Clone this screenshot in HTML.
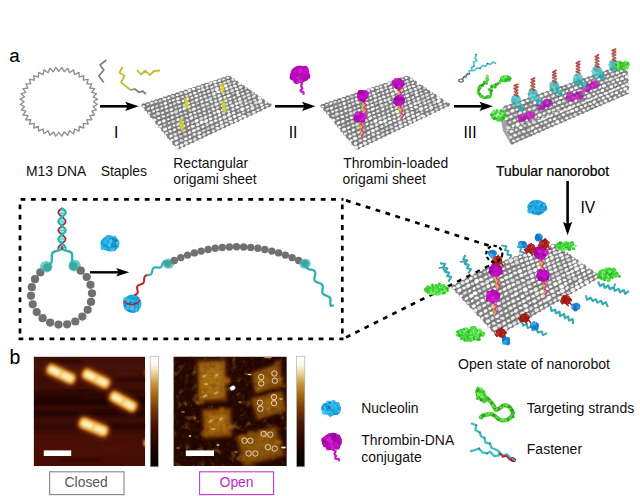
<!DOCTYPE html>
<html><head><meta charset="utf-8"><title>DNA nanorobot figure</title>
<style>html,body{margin:0;padding:0;background:#fff;}svg{display:block;font-family:"Liberation Sans",sans-serif;}</style>
</head><body>
<svg width="640" height="496" viewBox="0 0 640 496">
<defs>
<linearGradient id="cbar" x1="0" y1="0" x2="0" y2="1">
<stop offset="0" stop-color="#ffffff"/><stop offset="0.08" stop-color="#fdf8ee"/><stop offset="0.16" stop-color="#e8cf98"/>
<stop offset="0.24" stop-color="#c89a48"/><stop offset="0.34" stop-color="#a66c14"/><stop offset="0.48" stop-color="#74380a"/>
<stop offset="0.62" stop-color="#481404"/><stop offset="0.8" stop-color="#220501"/><stop offset="1" stop-color="#000000"/></linearGradient>
<linearGradient id="bg1" x1="0" y1="0" x2="0" y2="1">
<stop offset="0" stop-color="#3e0e06"/><stop offset="0.1" stop-color="#46120a"/><stop offset="0.2" stop-color="#3c0c05"/><stop offset="0.28" stop-color="#400e06"/>
<stop offset="0.36" stop-color="#2a0602"/><stop offset="0.42" stop-color="#1e0300"/><stop offset="0.47" stop-color="#380a04"/><stop offset="0.52" stop-color="#260502"/>
<stop offset="0.58" stop-color="#3e0c05"/><stop offset="0.65" stop-color="#300803"/><stop offset="0.72" stop-color="#460e06"/><stop offset="0.85" stop-color="#4a0e06"/><stop offset="1" stop-color="#420c05"/></linearGradient>
<filter id="bl1" x="-30%" y="-30%" width="160%" height="160%"><feGaussianBlur stdDeviation="1.5"/></filter>
<filter id="bl2" x="-30%" y="-30%" width="160%" height="160%"><feGaussianBlur stdDeviation="0.9"/></filter>
<filter id="bl3" x="-30%" y="-30%" width="160%" height="160%"><feGaussianBlur stdDeviation="2.2"/></filter>
<filter id="bl05" x="-30%" y="-30%" width="160%" height="160%"><feGaussianBlur stdDeviation="0.5"/></filter>
<clipPath id="c1"><rect x="33.6" y="356.6" width="111.6" height="109.4"/></clipPath>
<clipPath id="c2"><rect x="173.4" y="356.6" width="113.4" height="109.4"/></clipPath>
<filter id="noise" x="0" y="0" width="100%" height="100%"><feTurbulence type="fractalNoise" baseFrequency="0.13" numOctaves="3" seed="4" result="n"/>
<feColorMatrix type="matrix" values="0 0 0 0 0.40  0 0 0 0 0.15  0 0 0 0 0.02  2.0 0 0 0 -1.12"/></filter>
<filter id="noise2" x="0" y="0" width="100%" height="100%"><feTurbulence type="fractalNoise" baseFrequency="0.25" numOctaves="2" seed="9" result="n"/>
<feColorMatrix type="matrix" values="0 0 0 0 0.1  0 0 0 0 0.02  0 0 0 0 0.0  0 2.0 0 0 -0.85"/></filter>

</defs>
<rect width="640" height="496" fill="#fff"/>
<text x="9.3" y="62.4" font-size="18.8" fill="#000" text-anchor="start" stroke="#000" stroke-width="0.1">a</text>
<polyline points="93.5,101.8 97.4,104.5 93.1,106.6 96.4,109.9 91.8,111.2 94.6,115 89.7,115.6 91.8,119.8 86.9,119.7 88.2,124.2 83.3,123.4 83.9,128 79.2,126.5 79,131.2 74.6,129 73.6,133.7 69.5,130.8 67.8,135.3 64.2,131.9 61.8,136.2 58.8,132.3 55.8,136.2 53.4,131.9 49.8,135.3 48.1,130.8 44,133.7 43,129 38.6,131.2 38.4,126.5 33.7,128 34.3,123.4 29.4,124.2 30.7,119.7 25.8,119.8 27.9,115.6 23,115 25.8,111.2 21.2,109.9 24.5,106.6 20.2,104.5 24.1,101.8 20.2,99.1 24.5,97 21.2,93.7 25.8,92.4 23,88.6 27.9,88 25.8,83.8 30.7,83.9 29.4,79.4 34.3,80.2 33.7,75.6 38.4,77.1 38.6,72.4 43,74.6 44,69.9 48.1,72.8 49.8,68.3 53.4,71.7 55.8,67.4 58.8,71.3 61.8,67.4 64.2,71.7 67.8,68.3 69.5,72.8 73.6,69.9 74.6,74.6 79,72.4 79.2,77.1 83.9,75.6 83.3,80.2 88.2,79.4 86.9,83.9 91.8,83.8 89.7,88 94.6,88.6 91.8,92.4 96.4,93.7 93.1,97 97.4,99.1 93.5,101.8" fill="none" stroke="#8e8e8e" stroke-width="1.35" stroke-linejoin="round"/>
<polyline points="106.3,60 100,65 103.8,70 98.8,76 103.8,82.5" fill="none" stroke="#808080" stroke-width="1.7" stroke-linejoin="round"/>
<polyline points="122.5,67 119.5,72.5 124.5,76 121,82.5 127.5,87.5 130.5,90" fill="none" stroke="#c4bc30" stroke-width="1.8" stroke-linejoin="round"/>
<polyline points="130.5,90 135,89 139,92.5 142.5,91 146,94" fill="none" stroke="#808080" stroke-width="1.7" stroke-linejoin="round"/>
<polyline points="137,70 141,74.5 145.3,70.8 150,75 154,71 160,70.6" fill="none" stroke="#c4bc30" stroke-width="1.8" stroke-linejoin="round"/>
<line x1="100" y1="106.3" x2="128.2" y2="106.3" stroke="#000" stroke-width="2.6"/>
<path d="M138.7 106.3 L125.2 101.7 L127.7 106.3 L125.2 110.9 Z" fill="#000"/>
<text x="116.3" y="137.7" font-size="15.7" fill="#000" text-anchor="middle" >I</text>
<polygon points="141.2,105.3 142.8,103.3 145.3,103.9 147,101.9 149.5,102.5 151.2,100.5 153.7,101.1 155.4,99.1 157.9,99.8 159.6,97.7 162.1,98.4 163.8,96.3 166.3,97 168,95 170.5,95.6 172.1,93.6 174.7,94.2 176.3,92.2 178.9,92.8 180.5,90.8 183.1,91.5 184.7,89.4 187.3,90.1 188.9,88.1 191.4,88.7 193.1,86.7 195.6,87.3 197.3,85.3 199.8,85.9 201.5,83.9 204,84.6 205.7,82.5 208.2,83.2 209.9,81.2 212.4,81.8 214.1,79.8 216.6,80.4 218.2,78.4 220.8,79 222.4,77 225,77.7 226.6,75.6 228.7,76.2 231.2,76.2 232,78.5 234.5,78.5 235.3,80.8 237.8,80.7 238.6,83 241.1,83 241.9,85.3 244.4,85.3 245.3,87.6 247.7,87.5 248.6,89.8 251,89.8 251.9,92.1 254.3,92.1 255.2,94.4 257.6,94.3 258.5,96.6 260.9,96.6 261.8,98.9 264.2,98.9 265.1,101.2 267.5,101.2 268.4,103.4 270.9,103.4 271.8,104.8 270.1,107.2 267.3,107 265.6,109.3 262.8,109.1 261.1,111.4 258.3,111.2 256.6,113.5 253.8,113.3 252.1,115.6 249.3,115.4 247.6,117.7 244.8,117.5 243.1,119.8 240.3,119.6 238.6,121.9 235.8,121.7 234.1,124 231.3,123.8 229.6,126.1 226.8,125.9 225.1,128.2 222.3,128 220.6,130.3 217.8,130.1 216.1,132.4 213.3,132.2 211.6,134.5 208.8,134.3 207.1,136.6 204.3,136.4 202.6,138.7 199.8,138.5 198.1,140.8 195.3,140.6 193.6,142.9 190.8,142.7 189.1,145.1 186.3,144.8 184.6,147.2 181.8,146.9 180.1,149.3 177.9,149.2 175.4,148.4 175.1,145.7 172.6,144.9 172.3,142.3 169.8,141.5 169.5,138.9 167,138 166.7,135.4 164.2,134.6 163.8,132 161.4,131.2 161,128.6 158.6,127.7 158.2,125.1 155.7,124.3 155.4,121.7 152.9,120.8 152.6,118.2 150.1,117.4 149.8,114.8 147.3,114 147,111.4 144.5,110.5 144.2,107.9 141.7,107.1" fill="#868686"/>
<line x1="141.8" y1="105.1" x2="229" y2="76.2" stroke="#6c6c6c" stroke-width="0.7" opacity="0.7"/>
<line x1="144.3" y1="108.1" x2="231.9" y2="78.2" stroke="#6c6c6c" stroke-width="0.7" opacity="0.7"/>
<line x1="147.1" y1="111.5" x2="235.2" y2="80.5" stroke="#6c6c6c" stroke-width="0.7" opacity="0.7"/>
<line x1="149.9" y1="115" x2="238.5" y2="82.8" stroke="#6c6c6c" stroke-width="0.7" opacity="0.7"/>
<line x1="152.7" y1="118.4" x2="241.8" y2="85" stroke="#6c6c6c" stroke-width="0.7" opacity="0.7"/>
<line x1="155.5" y1="121.8" x2="245.1" y2="87.3" stroke="#6c6c6c" stroke-width="0.7" opacity="0.7"/>
<line x1="158.3" y1="125.3" x2="248.4" y2="89.6" stroke="#6c6c6c" stroke-width="0.7" opacity="0.7"/>
<line x1="161.1" y1="128.7" x2="251.7" y2="91.9" stroke="#6c6c6c" stroke-width="0.7" opacity="0.7"/>
<line x1="163.9" y1="132.1" x2="255" y2="94.1" stroke="#6c6c6c" stroke-width="0.7" opacity="0.7"/>
<line x1="166.7" y1="135.5" x2="258.3" y2="96.4" stroke="#6c6c6c" stroke-width="0.7" opacity="0.7"/>
<line x1="169.5" y1="139" x2="261.6" y2="98.7" stroke="#6c6c6c" stroke-width="0.7" opacity="0.7"/>
<line x1="172.4" y1="142.4" x2="264.9" y2="101" stroke="#6c6c6c" stroke-width="0.7" opacity="0.7"/>
<line x1="175.2" y1="145.8" x2="268.2" y2="103.2" stroke="#6c6c6c" stroke-width="0.7" opacity="0.7"/>
<line x1="177.6" y1="148.8" x2="271.1" y2="105.2" stroke="#6c6c6c" stroke-width="0.7" opacity="0.7"/>
<path d="M144.9 104.5h0M157.1 100.7h0M161.5 99.5h0M166.1 97.7h0M174.4 95.2h0M178.6 93.6h0M182.9 92.2h0M186.5 91h0M191.2 89.6h0M203.9 85.1h0M215.9 80.7h0M224.7 78h0M228.7 76.6h0M178.9 96.8h0M195.7 90.7h0M199.3 89.5h0M208.3 86.3h0M212.1 85.1h0M220.8 81.7h0M229.5 79.5h0M150.2 110.4h0M154.1 108.7h0M158.2 107.7h0M162.1 106.4h0M167.1 104.9h0M171 103.1h0M196.4 94.3h0M200.5 93h0M204.9 90.8h0M209.2 89.3h0M221.9 85.2h0M230.5 82.4h0M234.2 80.9h0M154.7 113.3h0M158.9 111.5h0M163.4 109.9h0M167.8 108.2h0M180.1 104.1h0M184.3 102.3h0M193 99.1h0M201.9 95.9h0M206 94.9h0M209.9 92.8h0M214.2 91.8h0M222.8 88.7h0M235.4 83.6h0M159.6 115.7h0M163.9 114.5h0M167.9 112.9h0M181.5 108.1h0M185.6 106.4h0M193.8 102.8h0M198 101.4h0M202.8 99.3h0M232.8 88.2h0M237 86.9h0M241.5 85.4h0M155.9 121.9h0M160.7 119.8h0M164.8 118.5h0M169.3 116.9h0M182.1 111.9h0M186.1 109.8h0M190.5 108.3h0M198.9 104.7h0M203.2 103.7h0M212.1 99.9h0M216.3 98.5h0M224.8 94.9h0M229.4 93.5h0M233.4 91.5h0M238.1 90.3h0M242.5 88.5h0M161 124.1h0M169.9 120.7h0M174.1 119.2h0M178.4 117.2h0M191.7 112.4h0M195.7 110.1h0M230.5 96.3h0M235 94.6h0M238.8 93.6h0M243 91.8h0M248 90h0M179.4 121.4h0M188.1 118.2h0M192.1 116.1h0M200.7 112.3h0M213.9 107.1h0M218.3 105.1h0M223.1 103.6h0M231.6 100.3h0M240.2 96.7h0M248.6 93.2h0M171.1 129.3h0M175.3 127h0M184.1 123.8h0M193.2 119.9h0M205.9 114.1h0M210.5 112.4h0M214.8 111.1h0M219.7 109h0M228.3 105.6h0M237 102h0M241.4 100.3h0M245.4 97.9h0M175.9 131.3h0M180.7 129.9h0M189.7 125.7h0M194 123.7h0M198.5 121.9h0M202.7 120.4h0M206.9 118.3h0M211.2 116.5h0M220.3 112.4h0M224.8 110.5h0M238.2 105.1h0M251.2 99.6h0M172.6 138.1h0M180.9 133.9h0M185.9 132.1h0M194.7 128.1h0M199.3 126.2h0M203.7 123.9h0M208 122.3h0M221 116.2h0M225.7 114.7h0M230.2 112.4h0M234.3 110.9h0M238.8 108.5h0M247.6 104.7h0M252.3 102.7h0M260.8 98.7h0M173.2 142.3h0M177.2 140.1h0M199.6 129.9h0M204.2 127.9h0M208.8 125.8h0M226.5 118.3h0M244.5 110.2h0M257.8 104.4h0M262.1 102.2h0M178.1 144.2h0M182.6 142.4h0M200.7 134.4h0M204.8 132h0M209.4 130.5h0M214.2 128.3h0M218.6 126.2h0M236.5 118.2h0M245.4 113.8h0M249.3 111.4h0M253.9 109.7h0M263 105.7h0M267.5 103.7h0M177.6 148.4h0M186.8 143.9h0M195.5 139.5h0M204.8 135.3h0M209.1 133.4h0M213.5 131h0M218.3 128.9h0M222.8 127.1h0M231.7 122.9h0M236.7 120.7h0M240.8 118.6h0M249.5 114.3h0M259 110.4h0M267.6 106.1h0" stroke="#585858" stroke-width="1.5" stroke-linecap="round" opacity="0.7" fill="none"/>
<ellipse cx="143.7" cy="106.3" rx="1.5" ry="0.9" fill="#f8f8f8" transform="rotate(5.2 143.7 106.3)"/>
<ellipse cx="147.7" cy="104.4" rx="1.3" ry="0.8" fill="#f4f4f4" transform="rotate(-18.1 147.7 104.4)"/>
<ellipse cx="151.8" cy="103.1" rx="1.7" ry="1.1" fill="#f8f8f8" transform="rotate(-26.2 151.8 103.1)"/>
<ellipse cx="156" cy="101.8" rx="1.8" ry="1.2" fill="#dcdcdc" transform="rotate(-11.7 156 101.8)"/>
<ellipse cx="160.2" cy="100.8" rx="1.5" ry="1.1" fill="#dcdcdc" transform="rotate(-23.7 160.2 100.8)"/>
<ellipse cx="164.4" cy="99.2" rx="2" ry="1.3" fill="#f8f8f8" transform="rotate(-1.5 164.4 99.2)"/>
<ellipse cx="168.7" cy="98" rx="1.6" ry="1.1" fill="#f4f4f4" transform="rotate(-21 168.7 98)"/>
<ellipse cx="173" cy="96.2" rx="1.8" ry="1.3" fill="#dcdcdc" transform="rotate(2.5 173 96.2)"/>
<ellipse cx="177.2" cy="95.2" rx="1.4" ry="0.9" fill="#ffffff" transform="rotate(-2.1 177.2 95.2)"/>
<ellipse cx="181" cy="93.6" rx="1.9" ry="1.3" fill="#dcdcdc" transform="rotate(-1.1 181 93.6)"/>
<ellipse cx="185.6" cy="92.3" rx="1.9" ry="1.4" fill="#ebebeb" transform="rotate(6.6 185.6 92.3)"/>
<ellipse cx="189.3" cy="90.5" rx="2" ry="1.6" fill="#ebebeb" transform="rotate(-14.8 189.3 90.5)"/>
<ellipse cx="193.6" cy="89" rx="1.8" ry="1.2" fill="#ffffff" transform="rotate(5.6 193.6 89)"/>
<ellipse cx="198.4" cy="87.6" rx="1.8" ry="1.2" fill="#ebebeb" transform="rotate(5.1 198.4 87.6)"/>
<ellipse cx="202.1" cy="86.5" rx="1.7" ry="1.3" fill="#dcdcdc" transform="rotate(-27.3 202.1 86.5)"/>
<ellipse cx="206.8" cy="85.2" rx="1.6" ry="1.2" fill="#ffffff" transform="rotate(-2 206.8 85.2)"/>
<ellipse cx="210.4" cy="83.3" rx="2.1" ry="1.3" fill="#ebebeb" transform="rotate(-39 210.4 83.3)"/>
<ellipse cx="214.9" cy="82" rx="1.9" ry="1.4" fill="#f8f8f8" transform="rotate(-5.2 214.9 82)"/>
<ellipse cx="219.4" cy="80.7" rx="1.6" ry="1.2" fill="#ffffff" transform="rotate(-28.6 219.4 80.7)"/>
<ellipse cx="223.6" cy="79.4" rx="1.5" ry="0.9" fill="#ffffff" transform="rotate(-20 223.6 79.4)"/>
<ellipse cx="227.7" cy="77.7" rx="1.5" ry="1.1" fill="#ffffff" transform="rotate(3 227.7 77.7)"/>
<ellipse cx="148.5" cy="108.8" rx="1.8" ry="1.1" fill="#dcdcdc" transform="rotate(-32.5 148.5 108.8)"/>
<ellipse cx="152.5" cy="107.7" rx="1.7" ry="1.2" fill="#ffffff" transform="rotate(-30.7 152.5 107.7)"/>
<ellipse cx="156.7" cy="106.1" rx="1.6" ry="1" fill="#dcdcdc" transform="rotate(-20.1 156.7 106.1)"/>
<ellipse cx="161.2" cy="104.7" rx="1.6" ry="1" fill="#dcdcdc" transform="rotate(4.2 161.2 104.7)"/>
<ellipse cx="165.3" cy="103.2" rx="1.7" ry="1.4" fill="#ffffff" transform="rotate(-28.6 165.3 103.2)"/>
<ellipse cx="169.8" cy="101.3" rx="1.3" ry="1" fill="#ebebeb" transform="rotate(-18.1 169.8 101.3)"/>
<ellipse cx="173.4" cy="100.1" rx="1.6" ry="1" fill="#f8f8f8" transform="rotate(-21.6 173.4 100.1)"/>
<ellipse cx="177.9" cy="98.8" rx="1.9" ry="1.3" fill="#ffffff" transform="rotate(-21 177.9 98.8)"/>
<ellipse cx="182.5" cy="97.1" rx="1.4" ry="1" fill="#ebebeb" transform="rotate(5.6 182.5 97.1)"/>
<ellipse cx="186.8" cy="95.9" rx="1.5" ry="1" fill="#ebebeb" transform="rotate(3.8 186.8 95.9)"/>
<ellipse cx="190.6" cy="94.6" rx="1.6" ry="1.3" fill="#ebebeb" transform="rotate(-29 190.6 94.6)"/>
<ellipse cx="194.8" cy="93" rx="1.9" ry="1.3" fill="#f4f4f4" transform="rotate(3.3 194.8 93)"/>
<ellipse cx="199.1" cy="90.9" rx="1.7" ry="1.1" fill="#ffffff" transform="rotate(-35 199.1 90.9)"/>
<ellipse cx="203" cy="89.6" rx="2" ry="1.4" fill="#ebebeb" transform="rotate(5.7 203 89.6)"/>
<ellipse cx="207.2" cy="88.1" rx="1.4" ry="1" fill="#ebebeb" transform="rotate(-1.5 207.2 88.1)"/>
<ellipse cx="211.8" cy="87.1" rx="1.7" ry="1.1" fill="#f8f8f8" transform="rotate(-22.3 211.8 87.1)"/>
<ellipse cx="215.8" cy="85.1" rx="1.7" ry="1.3" fill="#f4f4f4" transform="rotate(2.4 215.8 85.1)"/>
<ellipse cx="220.4" cy="83.8" rx="1.4" ry="1.1" fill="#f8f8f8" transform="rotate(-17.8 220.4 83.8)"/>
<ellipse cx="224.7" cy="82.5" rx="1.5" ry="0.9" fill="#ffffff" transform="rotate(-18.9 224.7 82.5)"/>
<ellipse cx="228.4" cy="81.3" rx="1.8" ry="1.3" fill="#dcdcdc" transform="rotate(-17.5 228.4 81.3)"/>
<ellipse cx="232.8" cy="79.7" rx="1.6" ry="1" fill="#f4f4f4" transform="rotate(6.4 232.8 79.7)"/>
<ellipse cx="149.1" cy="113" rx="1.6" ry="1.1" fill="#ebebeb" transform="rotate(-20.6 149.1 113)"/>
<ellipse cx="153.7" cy="111.3" rx="1.4" ry="1.1" fill="#f8f8f8" transform="rotate(-19 153.7 111.3)"/>
<ellipse cx="157.4" cy="109.9" rx="1.8" ry="1.2" fill="#ebebeb" transform="rotate(-14.5 157.4 109.9)"/>
<ellipse cx="161.9" cy="108.4" rx="1.5" ry="1.2" fill="#ebebeb" transform="rotate(-38.1 161.9 108.4)"/>
<ellipse cx="166.2" cy="106.8" rx="1.7" ry="1.4" fill="#f8f8f8" transform="rotate(-33.5 166.2 106.8)"/>
<ellipse cx="170.6" cy="105.2" rx="1.5" ry="1.2" fill="#ebebeb" transform="rotate(-40.8 170.6 105.2)"/>
<ellipse cx="174.4" cy="103.6" rx="1.6" ry="1.2" fill="#dcdcdc" transform="rotate(-29.1 174.4 103.6)"/>
<ellipse cx="178.6" cy="102.2" rx="2.1" ry="1.3" fill="#f4f4f4" transform="rotate(4.6 178.6 102.2)"/>
<ellipse cx="183.2" cy="101" rx="1.4" ry="1.1" fill="#ffffff" transform="rotate(-11.7 183.2 101)"/>
<ellipse cx="187.6" cy="99" rx="1.4" ry="1.2" fill="#ffffff" transform="rotate(-21.7 187.6 99)"/>
<ellipse cx="191.9" cy="97.8" rx="1.4" ry="1.1" fill="#f4f4f4" transform="rotate(-31.4 191.9 97.8)"/>
<ellipse cx="196.2" cy="96" rx="1.8" ry="1.2" fill="#f8f8f8" transform="rotate(-9.5 196.2 96)"/>
<ellipse cx="200.2" cy="94.5" rx="1.3" ry="1.1" fill="#f4f4f4" transform="rotate(-27.7 200.2 94.5)"/>
<ellipse cx="204.4" cy="93" rx="1.4" ry="1" fill="#f4f4f4" transform="rotate(-16.5 204.4 93)"/>
<ellipse cx="208.5" cy="91.5" rx="1.6" ry="1.4" fill="#ebebeb" transform="rotate(-38 208.5 91.5)"/>
<ellipse cx="212.6" cy="90.1" rx="1.7" ry="1.4" fill="#dcdcdc" transform="rotate(-39.4 212.6 90.1)"/>
<ellipse cx="216.9" cy="89" rx="2.2" ry="1.8" fill="#f4f4f4" transform="rotate(-40 216.9 89)"/>
<ellipse cx="221.4" cy="87.5" rx="1.5" ry="1.2" fill="#f8f8f8" transform="rotate(-42.2 221.4 87.5)"/>
<ellipse cx="225.5" cy="85.8" rx="2" ry="1.5" fill="#f8f8f8" transform="rotate(-16.3 225.5 85.8)"/>
<ellipse cx="229.7" cy="83.9" rx="1.7" ry="1.2" fill="#dcdcdc" transform="rotate(-28.5 229.7 83.9)"/>
<ellipse cx="234.3" cy="82.8" rx="1.5" ry="1.3" fill="#f4f4f4" transform="rotate(-27.4 234.3 82.8)"/>
<ellipse cx="154.3" cy="115.4" rx="1.7" ry="1" fill="#dcdcdc" transform="rotate(0.4 154.3 115.4)"/>
<ellipse cx="158" cy="113.7" rx="2" ry="1.6" fill="#dcdcdc" transform="rotate(-9 158 113.7)"/>
<ellipse cx="162.6" cy="112.7" rx="1.5" ry="1.1" fill="#f8f8f8" transform="rotate(-26.9 162.6 112.7)"/>
<ellipse cx="166.9" cy="110.7" rx="1.6" ry="1.2" fill="#ebebeb" transform="rotate(-13.7 166.9 110.7)"/>
<ellipse cx="171.3" cy="109.5" rx="1.9" ry="1.3" fill="#ebebeb" transform="rotate(-28.9 171.3 109.5)"/>
<ellipse cx="175.7" cy="107.6" rx="1.3" ry="1" fill="#ebebeb" transform="rotate(-6.8 175.7 107.6)"/>
<ellipse cx="179.5" cy="106.2" rx="1.6" ry="1" fill="#ebebeb" transform="rotate(-16.7 179.5 106.2)"/>
<ellipse cx="184.2" cy="105" rx="1.7" ry="1.2" fill="#dcdcdc" transform="rotate(-40.7 184.2 105)"/>
<ellipse cx="188.2" cy="103.1" rx="1.8" ry="1.2" fill="#f4f4f4" transform="rotate(-0.5 188.2 103.1)"/>
<ellipse cx="192.4" cy="101.8" rx="1.7" ry="1.1" fill="#dcdcdc" transform="rotate(-18.5 192.4 101.8)"/>
<ellipse cx="196.5" cy="100.1" rx="1.8" ry="1.3" fill="#ffffff" transform="rotate(-28.2 196.5 100.1)"/>
<ellipse cx="201" cy="98.2" rx="1.6" ry="1.2" fill="#ffffff" transform="rotate(-14 201 98.2)"/>
<ellipse cx="205.1" cy="96.5" rx="1.7" ry="1.3" fill="#f4f4f4" transform="rotate(1 205.1 96.5)"/>
<ellipse cx="209.4" cy="95.1" rx="1.6" ry="1" fill="#ebebeb" transform="rotate(-16.5 209.4 95.1)"/>
<ellipse cx="214" cy="93.8" rx="1.9" ry="1.6" fill="#f8f8f8" transform="rotate(-26.3 214 93.8)"/>
<ellipse cx="218.2" cy="92" rx="2" ry="1.3" fill="#f4f4f4" transform="rotate(1.3 218.2 92)"/>
<ellipse cx="222.3" cy="90.2" rx="2" ry="1.5" fill="#ffffff" transform="rotate(-21.7 222.3 90.2)"/>
<ellipse cx="226.9" cy="88.8" rx="1.6" ry="1.4" fill="#f8f8f8" transform="rotate(-29.5 226.9 88.8)"/>
<ellipse cx="230.9" cy="87.3" rx="1.7" ry="1.3" fill="#ebebeb" transform="rotate(-21.4 230.9 87.3)"/>
<ellipse cx="235" cy="86" rx="2" ry="1.2" fill="#f8f8f8" transform="rotate(0.6 235 86)"/>
<ellipse cx="239.7" cy="84" rx="1.9" ry="1.3" fill="#f8f8f8" transform="rotate(-11.7 239.7 84)"/>
<ellipse cx="154.4" cy="120" rx="2" ry="1.6" fill="#f4f4f4" transform="rotate(1 154.4 120)"/>
<ellipse cx="158.8" cy="118.2" rx="1.5" ry="1.1" fill="#ffffff" transform="rotate(1.9 158.8 118.2)"/>
<ellipse cx="163.3" cy="116.4" rx="1.9" ry="1.2" fill="#f8f8f8" transform="rotate(-2 163.3 116.4)"/>
<ellipse cx="167.9" cy="114.9" rx="1.5" ry="1.1" fill="#dcdcdc" transform="rotate(-31.9 167.9 114.9)"/>
<ellipse cx="172" cy="113.2" rx="1.8" ry="1.3" fill="#ebebeb" transform="rotate(-12.2 172 113.2)"/>
<ellipse cx="176.1" cy="111.9" rx="2.1" ry="1.7" fill="#dcdcdc" transform="rotate(-33.1 176.1 111.9)"/>
<ellipse cx="180.2" cy="110" rx="1.7" ry="1.1" fill="#f4f4f4" transform="rotate(-34.1 180.2 110)"/>
<ellipse cx="184.5" cy="108.4" rx="2.1" ry="1.6" fill="#f4f4f4" transform="rotate(-27.5 184.5 108.4)"/>
<ellipse cx="189.3" cy="106.7" rx="1.5" ry="1.2" fill="#ffffff" transform="rotate(-31.4 189.3 106.7)"/>
<ellipse cx="193.3" cy="105" rx="1.6" ry="1.1" fill="#ffffff" transform="rotate(-8.5 193.3 105)"/>
<ellipse cx="197.6" cy="103.3" rx="1.5" ry="1.1" fill="#dcdcdc" transform="rotate(-34.8 197.6 103.3)"/>
<ellipse cx="202" cy="101.7" rx="1.9" ry="1.3" fill="#f4f4f4" transform="rotate(-34.5 202 101.7)"/>
<ellipse cx="206.5" cy="100.2" rx="1.7" ry="1.3" fill="#ebebeb" transform="rotate(-21.1 206.5 100.2)"/>
<ellipse cx="210.3" cy="98.9" rx="2.1" ry="1.5" fill="#dcdcdc" transform="rotate(-34.4 210.3 98.9)"/>
<ellipse cx="214.9" cy="97" rx="1.7" ry="1.2" fill="#dcdcdc" transform="rotate(6.1 214.9 97)"/>
<ellipse cx="219.1" cy="95.7" rx="1.8" ry="1.2" fill="#f8f8f8" transform="rotate(-26.3 219.1 95.7)"/>
<ellipse cx="223.6" cy="93.8" rx="1.4" ry="1" fill="#ebebeb" transform="rotate(-19.3 223.6 93.8)"/>
<ellipse cx="227.8" cy="92.4" rx="1.7" ry="1.2" fill="#dcdcdc" transform="rotate(-25.9 227.8 92.4)"/>
<ellipse cx="232.2" cy="90.6" rx="1.9" ry="1.6" fill="#dcdcdc" transform="rotate(-28.1 232.2 90.6)"/>
<ellipse cx="236.6" cy="89.1" rx="1.7" ry="1.4" fill="#ebebeb" transform="rotate(2.9 236.6 89.1)"/>
<ellipse cx="240.6" cy="87.3" rx="1.9" ry="1.4" fill="#ebebeb" transform="rotate(-14.9 240.6 87.3)"/>
<ellipse cx="159.5" cy="122.6" rx="1.9" ry="1.3" fill="#ffffff" transform="rotate(-27 159.5 122.6)"/>
<ellipse cx="163.8" cy="121" rx="1.9" ry="1.4" fill="#f8f8f8" transform="rotate(-33.4 163.8 121)"/>
<ellipse cx="168.3" cy="119.1" rx="1.5" ry="0.9" fill="#f8f8f8" transform="rotate(-8.1 168.3 119.1)"/>
<ellipse cx="172.4" cy="117.5" rx="1.6" ry="1.2" fill="#ffffff" transform="rotate(2.9 172.4 117.5)"/>
<ellipse cx="177.2" cy="115.7" rx="1.6" ry="1" fill="#ebebeb" transform="rotate(-9 177.2 115.7)"/>
<ellipse cx="181.1" cy="113.8" rx="1.6" ry="1" fill="#ebebeb" transform="rotate(-21.5 181.1 113.8)"/>
<ellipse cx="185.4" cy="112.6" rx="1.6" ry="1.2" fill="#dcdcdc" transform="rotate(4.1 185.4 112.6)"/>
<ellipse cx="190.1" cy="110.5" rx="1.5" ry="1" fill="#ebebeb" transform="rotate(1.9 190.1 110.5)"/>
<ellipse cx="194" cy="109.1" rx="2.1" ry="1.4" fill="#f8f8f8" transform="rotate(-26.5 194 109.1)"/>
<ellipse cx="198.3" cy="107.5" rx="1.6" ry="1" fill="#f8f8f8" transform="rotate(-29.8 198.3 107.5)"/>
<ellipse cx="202.9" cy="105.5" rx="2" ry="1.6" fill="#dcdcdc" transform="rotate(-15 202.9 105.5)"/>
<ellipse cx="207.3" cy="104.2" rx="1.7" ry="1.2" fill="#ebebeb" transform="rotate(-14 207.3 104.2)"/>
<ellipse cx="211.5" cy="101.9" rx="1.5" ry="1.1" fill="#f4f4f4" transform="rotate(-3.7 211.5 101.9)"/>
<ellipse cx="215.6" cy="100.7" rx="1.6" ry="1.3" fill="#ebebeb" transform="rotate(-30.4 215.6 100.7)"/>
<ellipse cx="220.3" cy="98.9" rx="2.1" ry="1.4" fill="#ffffff" transform="rotate(-35.3 220.3 98.9)"/>
<ellipse cx="224.8" cy="97.3" rx="1.7" ry="1.3" fill="#f4f4f4" transform="rotate(-37.4 224.8 97.3)"/>
<ellipse cx="228.7" cy="95.7" rx="2" ry="1.3" fill="#ffffff" transform="rotate(-12 228.7 95.7)"/>
<ellipse cx="233.4" cy="93.5" rx="1.3" ry="0.8" fill="#dcdcdc" transform="rotate(-23.7 233.4 93.5)"/>
<ellipse cx="237.4" cy="92.4" rx="1.9" ry="1.3" fill="#ffffff" transform="rotate(-39.7 237.4 92.4)"/>
<ellipse cx="241.9" cy="90.3" rx="1.4" ry="0.9" fill="#ebebeb" transform="rotate(-1.5 241.9 90.3)"/>
<ellipse cx="246" cy="88.4" rx="1.5" ry="0.9" fill="#dcdcdc" transform="rotate(-21 246 88.4)"/>
<ellipse cx="160.5" cy="126.6" rx="1.5" ry="1.1" fill="#ffffff" transform="rotate(-26 160.5 126.6)"/>
<ellipse cx="164.5" cy="124.9" rx="1.5" ry="1" fill="#dcdcdc" transform="rotate(-37.5 164.5 124.9)"/>
<ellipse cx="169.1" cy="123" rx="1.4" ry="1" fill="#dcdcdc" transform="rotate(-26.3 169.1 123)"/>
<ellipse cx="173.2" cy="121.5" rx="1.7" ry="1.3" fill="#dcdcdc" transform="rotate(-24.2 173.2 121.5)"/>
<ellipse cx="178" cy="119.5" rx="1.7" ry="1.3" fill="#ffffff" transform="rotate(-34.4 178 119.5)"/>
<ellipse cx="182" cy="118" rx="1.6" ry="1.4" fill="#dcdcdc" transform="rotate(-35.8 182 118)"/>
<ellipse cx="186.4" cy="116.1" rx="1.8" ry="1.2" fill="#dcdcdc" transform="rotate(6.7 186.4 116.1)"/>
<ellipse cx="190.5" cy="114.5" rx="1.8" ry="1.2" fill="#f8f8f8" transform="rotate(-42.2 190.5 114.5)"/>
<ellipse cx="194.8" cy="112.9" rx="1.6" ry="1.1" fill="#f8f8f8" transform="rotate(2 194.8 112.9)"/>
<ellipse cx="199.1" cy="111.2" rx="1.7" ry="1.3" fill="#ebebeb" transform="rotate(-4.3 199.1 111.2)"/>
<ellipse cx="204" cy="109.2" rx="1.7" ry="1.2" fill="#ffffff" transform="rotate(-37.6 204 109.2)"/>
<ellipse cx="208.3" cy="107.4" rx="1.5" ry="1" fill="#dcdcdc" transform="rotate(-36.3 208.3 107.4)"/>
<ellipse cx="212.2" cy="106.1" rx="1.7" ry="1.4" fill="#dcdcdc" transform="rotate(-42.9 212.2 106.1)"/>
<ellipse cx="216.5" cy="104.2" rx="2.2" ry="1.6" fill="#ebebeb" transform="rotate(-15.2 216.5 104.2)"/>
<ellipse cx="221.1" cy="102.3" rx="1.9" ry="1.1" fill="#ebebeb" transform="rotate(-19.2 221.1 102.3)"/>
<ellipse cx="225.6" cy="100.8" rx="1.9" ry="1.3" fill="#ffffff" transform="rotate(-10.7 225.6 100.8)"/>
<ellipse cx="230" cy="99.1" rx="1.7" ry="1.1" fill="#ebebeb" transform="rotate(-13.2 230 99.1)"/>
<ellipse cx="234.3" cy="97.4" rx="1.5" ry="1" fill="#f8f8f8" transform="rotate(-34.2 234.3 97.4)"/>
<ellipse cx="238.3" cy="95.1" rx="1.8" ry="1.2" fill="#f8f8f8" transform="rotate(-15 238.3 95.1)"/>
<ellipse cx="242.8" cy="93.6" rx="1.5" ry="1.2" fill="#f8f8f8" transform="rotate(-25.1 242.8 93.6)"/>
<ellipse cx="247.4" cy="91.7" rx="1.5" ry="1" fill="#f4f4f4" transform="rotate(-5 247.4 91.7)"/>
<ellipse cx="165" cy="129.2" rx="2.2" ry="1.6" fill="#f8f8f8" transform="rotate(-19.3 165 129.2)"/>
<ellipse cx="169.6" cy="127.4" rx="1.8" ry="1.1" fill="#f8f8f8" transform="rotate(-40.3 169.6 127.4)"/>
<ellipse cx="174.1" cy="125.4" rx="1.4" ry="1" fill="#ffffff" transform="rotate(5.7 174.1 125.4)"/>
<ellipse cx="178.2" cy="124" rx="2.2" ry="1.4" fill="#dcdcdc" transform="rotate(-32.5 178.2 124)"/>
<ellipse cx="183.1" cy="122.1" rx="1.4" ry="1" fill="#f4f4f4" transform="rotate(-35.4 183.1 122.1)"/>
<ellipse cx="187.3" cy="120.3" rx="1.8" ry="1.3" fill="#dcdcdc" transform="rotate(3.2 187.3 120.3)"/>
<ellipse cx="191.4" cy="118.1" rx="2.1" ry="1.4" fill="#f8f8f8" transform="rotate(-32.5 191.4 118.1)"/>
<ellipse cx="195.7" cy="116.4" rx="1.6" ry="1.1" fill="#f4f4f4" transform="rotate(0.4 195.7 116.4)"/>
<ellipse cx="200.2" cy="115" rx="1.5" ry="1.1" fill="#f4f4f4" transform="rotate(-1.6 200.2 115)"/>
<ellipse cx="204.5" cy="113.2" rx="1.5" ry="1.1" fill="#f4f4f4" transform="rotate(3.5 204.5 113.2)"/>
<ellipse cx="209.2" cy="111.5" rx="1.5" ry="1" fill="#f4f4f4" transform="rotate(-28.7 209.2 111.5)"/>
<ellipse cx="213.3" cy="109.3" rx="1.6" ry="1.2" fill="#ffffff" transform="rotate(-20.5 213.3 109.3)"/>
<ellipse cx="217.6" cy="107.7" rx="1.8" ry="1.3" fill="#dcdcdc" transform="rotate(-33.2 217.6 107.7)"/>
<ellipse cx="222.4" cy="105.7" rx="1.8" ry="1.1" fill="#f8f8f8" transform="rotate(-7.5 222.4 105.7)"/>
<ellipse cx="226.7" cy="104.3" rx="1.6" ry="1.2" fill="#dcdcdc" transform="rotate(-14.5 226.7 104.3)"/>
<ellipse cx="230.5" cy="102.5" rx="1.8" ry="1.2" fill="#ebebeb" transform="rotate(-40.9 230.5 102.5)"/>
<ellipse cx="235.4" cy="100.5" rx="1.4" ry="1.2" fill="#dcdcdc" transform="rotate(-28.7 235.4 100.5)"/>
<ellipse cx="239.6" cy="98.9" rx="1.8" ry="1.4" fill="#f8f8f8" transform="rotate(-43.2 239.6 98.9)"/>
<ellipse cx="244.2" cy="96.8" rx="1.9" ry="1.3" fill="#dcdcdc" transform="rotate(-33.3 244.2 96.8)"/>
<ellipse cx="248.3" cy="95" rx="1.9" ry="1.5" fill="#dcdcdc" transform="rotate(-26.7 248.3 95)"/>
<ellipse cx="252.8" cy="93.3" rx="1.4" ry="0.9" fill="#ebebeb" transform="rotate(-33.9 252.8 93.3)"/>
<ellipse cx="166.3" cy="133.3" rx="1.9" ry="1.2" fill="#ebebeb" transform="rotate(-27.5 166.3 133.3)"/>
<ellipse cx="170.3" cy="131.4" rx="1.6" ry="1.1" fill="#ffffff" transform="rotate(5.7 170.3 131.4)"/>
<ellipse cx="174.4" cy="129.8" rx="1.6" ry="1.3" fill="#f8f8f8" transform="rotate(-25.8 174.4 129.8)"/>
<ellipse cx="179.1" cy="127.7" rx="1.7" ry="1.2" fill="#dcdcdc" transform="rotate(-6.2 179.1 127.7)"/>
<ellipse cx="183.3" cy="126.3" rx="2.1" ry="1.3" fill="#ffffff" transform="rotate(-29.2 183.3 126.3)"/>
<ellipse cx="188" cy="124" rx="1.5" ry="1.2" fill="#ffffff" transform="rotate(-37.1 188 124)"/>
<ellipse cx="192.6" cy="122.6" rx="1.6" ry="1.1" fill="#dcdcdc" transform="rotate(-28.1 192.6 122.6)"/>
<ellipse cx="196.6" cy="120.9" rx="2.2" ry="1.7" fill="#ffffff" transform="rotate(-32.4 196.6 120.9)"/>
<ellipse cx="201.2" cy="118.5" rx="2" ry="1.4" fill="#dcdcdc" transform="rotate(-22.7 201.2 118.5)"/>
<ellipse cx="205.5" cy="117" rx="2.1" ry="1.4" fill="#ebebeb" transform="rotate(-39.3 205.5 117)"/>
<ellipse cx="210.1" cy="115.1" rx="1.6" ry="1.3" fill="#f4f4f4" transform="rotate(-17.2 210.1 115.1)"/>
<ellipse cx="214.4" cy="113" rx="1.6" ry="1.3" fill="#f4f4f4" transform="rotate(-28.4 214.4 113)"/>
<ellipse cx="218.4" cy="111.6" rx="2.1" ry="1.6" fill="#f8f8f8" transform="rotate(5 218.4 111.6)"/>
<ellipse cx="223.1" cy="109.7" rx="2.1" ry="1.6" fill="#ffffff" transform="rotate(-13.2 223.1 109.7)"/>
<ellipse cx="227.4" cy="107.9" rx="2" ry="1.4" fill="#dcdcdc" transform="rotate(-30.7 227.4 107.9)"/>
<ellipse cx="232.1" cy="105.8" rx="1.9" ry="1.5" fill="#f4f4f4" transform="rotate(-0.9 232.1 105.8)"/>
<ellipse cx="236.6" cy="103.6" rx="1.8" ry="1.4" fill="#f8f8f8" transform="rotate(-23.5 236.6 103.6)"/>
<ellipse cx="240.4" cy="102.3" rx="2.1" ry="1.8" fill="#dcdcdc" transform="rotate(-30.1 240.4 102.3)"/>
<ellipse cx="245.4" cy="100.5" rx="1.8" ry="1.2" fill="#dcdcdc" transform="rotate(-37.3 245.4 100.5)"/>
<ellipse cx="249.3" cy="98.1" rx="1.8" ry="1.1" fill="#ebebeb" transform="rotate(-21.3 249.3 98.1)"/>
<ellipse cx="253.8" cy="96.2" rx="2" ry="1.3" fill="#ebebeb" transform="rotate(-34.3 253.8 96.2)"/>
<ellipse cx="171" cy="136.1" rx="1.7" ry="1.4" fill="#f8f8f8" transform="rotate(-26.1 171 136.1)"/>
<ellipse cx="175.1" cy="134.2" rx="1.8" ry="1.3" fill="#ebebeb" transform="rotate(-2.1 175.1 134.2)"/>
<ellipse cx="179.6" cy="132.2" rx="1.8" ry="1.1" fill="#ebebeb" transform="rotate(-14.2 179.6 132.2)"/>
<ellipse cx="184.1" cy="130.5" rx="2" ry="1.2" fill="#dcdcdc" transform="rotate(-31.8 184.1 130.5)"/>
<ellipse cx="189" cy="128.1" rx="1.5" ry="1" fill="#ebebeb" transform="rotate(-14.3 189 128.1)"/>
<ellipse cx="192.8" cy="126.4" rx="2.1" ry="1.3" fill="#f8f8f8" transform="rotate(-1.2 192.8 126.4)"/>
<ellipse cx="197.8" cy="124.7" rx="1.8" ry="1.5" fill="#ebebeb" transform="rotate(-22.3 197.8 124.7)"/>
<ellipse cx="201.8" cy="122.3" rx="2.1" ry="1.7" fill="#f8f8f8" transform="rotate(-6 201.8 122.3)"/>
<ellipse cx="206.2" cy="121" rx="2.1" ry="1.6" fill="#f8f8f8" transform="rotate(-41.1 206.2 121)"/>
<ellipse cx="210.6" cy="118.8" rx="1.8" ry="1.4" fill="#f8f8f8" transform="rotate(-6.2 210.6 118.8)"/>
<ellipse cx="215.5" cy="117.1" rx="1.6" ry="1.2" fill="#f8f8f8" transform="rotate(-24.7 215.5 117.1)"/>
<ellipse cx="219.5" cy="115.1" rx="1.7" ry="1.4" fill="#ffffff" transform="rotate(-31 219.5 115.1)"/>
<ellipse cx="223.7" cy="112.9" rx="1.6" ry="1.3" fill="#dcdcdc" transform="rotate(-13.9 223.7 112.9)"/>
<ellipse cx="228.7" cy="111.5" rx="1.5" ry="1.2" fill="#ebebeb" transform="rotate(6.3 228.7 111.5)"/>
<ellipse cx="233" cy="109.2" rx="1.5" ry="1.2" fill="#f4f4f4" transform="rotate(0.4 233 109.2)"/>
<ellipse cx="237.3" cy="107.3" rx="2" ry="1.3" fill="#f8f8f8" transform="rotate(-11 237.3 107.3)"/>
<ellipse cx="241.8" cy="105.2" rx="1.6" ry="1" fill="#ebebeb" transform="rotate(1 241.8 105.2)"/>
<ellipse cx="246.2" cy="103.4" rx="1.5" ry="1.2" fill="#f8f8f8" transform="rotate(-10.6 246.2 103.4)"/>
<ellipse cx="250.3" cy="101.8" rx="1.9" ry="1.3" fill="#dcdcdc" transform="rotate(-30.1 250.3 101.8)"/>
<ellipse cx="254.7" cy="100" rx="1.6" ry="1.3" fill="#dcdcdc" transform="rotate(-14.7 254.7 100)"/>
<ellipse cx="259.6" cy="97.9" rx="1.8" ry="1.5" fill="#ffffff" transform="rotate(4.5 259.6 97.9)"/>
<ellipse cx="171.8" cy="140.4" rx="2.1" ry="1.4" fill="#ebebeb" transform="rotate(-37 171.8 140.4)"/>
<ellipse cx="176" cy="138.3" rx="2.1" ry="1.7" fill="#f8f8f8" transform="rotate(-4.8 176 138.3)"/>
<ellipse cx="180.6" cy="136.3" rx="1.6" ry="1.2" fill="#dcdcdc" transform="rotate(-5 180.6 136.3)"/>
<ellipse cx="185.1" cy="134.2" rx="2" ry="1.2" fill="#dcdcdc" transform="rotate(-9.6 185.1 134.2)"/>
<ellipse cx="189.6" cy="132.6" rx="1.7" ry="1.1" fill="#f8f8f8" transform="rotate(-27.5 189.6 132.6)"/>
<ellipse cx="194" cy="130.5" rx="2" ry="1.4" fill="#ffffff" transform="rotate(-20 194 130.5)"/>
<ellipse cx="198" cy="128.7" rx="1.9" ry="1.5" fill="#ebebeb" transform="rotate(-16 198 128.7)"/>
<ellipse cx="202.9" cy="126.7" rx="1.7" ry="1.3" fill="#f4f4f4" transform="rotate(-14.3 202.9 126.7)"/>
<ellipse cx="207.2" cy="124.6" rx="1.7" ry="1.5" fill="#dcdcdc" transform="rotate(-43.2 207.2 124.6)"/>
<ellipse cx="211.3" cy="122.5" rx="2.1" ry="1.4" fill="#f4f4f4" transform="rotate(-16.6 211.3 122.5)"/>
<ellipse cx="215.7" cy="120.7" rx="1.9" ry="1.2" fill="#ffffff" transform="rotate(-2.3 215.7 120.7)"/>
<ellipse cx="220.2" cy="119" rx="1.9" ry="1.2" fill="#ffffff" transform="rotate(-38.8 220.2 119)"/>
<ellipse cx="224.6" cy="117" rx="2.1" ry="1.7" fill="#f4f4f4" transform="rotate(-21 224.6 117)"/>
<ellipse cx="229" cy="114.8" rx="2.2" ry="1.6" fill="#f4f4f4" transform="rotate(-36.1 229 114.8)"/>
<ellipse cx="233.6" cy="112.9" rx="1.8" ry="1.4" fill="#f4f4f4" transform="rotate(-12.1 233.6 112.9)"/>
<ellipse cx="238.4" cy="110.8" rx="1.4" ry="0.9" fill="#dcdcdc" transform="rotate(-41.9 238.4 110.8)"/>
<ellipse cx="242.4" cy="109.2" rx="2.3" ry="1.8" fill="#f4f4f4" transform="rotate(-15.5 242.4 109.2)"/>
<ellipse cx="247.3" cy="107.1" rx="1.8" ry="1.3" fill="#ffffff" transform="rotate(-28.5 247.3 107.1)"/>
<ellipse cx="251.5" cy="105" rx="1.7" ry="1.2" fill="#dcdcdc" transform="rotate(-12 251.5 105)"/>
<ellipse cx="256" cy="102.8" rx="1.9" ry="1.6" fill="#dcdcdc" transform="rotate(-29.9 256 102.8)"/>
<ellipse cx="260.1" cy="101.3" rx="2.3" ry="1.8" fill="#f8f8f8" transform="rotate(-41.9 260.1 101.3)"/>
<ellipse cx="176.6" cy="143.1" rx="2" ry="1.6" fill="#f4f4f4" transform="rotate(-38.8 176.6 143.1)"/>
<ellipse cx="181.4" cy="140.5" rx="2" ry="1.3" fill="#dcdcdc" transform="rotate(-2.3 181.4 140.5)"/>
<ellipse cx="185.9" cy="138.8" rx="1.9" ry="1.3" fill="#ffffff" transform="rotate(-3.2 185.9 138.8)"/>
<ellipse cx="189.9" cy="136.8" rx="1.5" ry="1.1" fill="#ffffff" transform="rotate(-39.8 189.9 136.8)"/>
<ellipse cx="194.3" cy="134.4" rx="1.7" ry="1.3" fill="#f8f8f8" transform="rotate(-11.7 194.3 134.4)"/>
<ellipse cx="199.2" cy="132.9" rx="2" ry="1.4" fill="#ebebeb" transform="rotate(-26.1 199.2 132.9)"/>
<ellipse cx="203.7" cy="130.6" rx="1.9" ry="1.1" fill="#dcdcdc" transform="rotate(-28.3 203.7 130.6)"/>
<ellipse cx="208.1" cy="128.6" rx="1.7" ry="1.1" fill="#dcdcdc" transform="rotate(-32.6 208.1 128.6)"/>
<ellipse cx="212.5" cy="127" rx="1.8" ry="1.5" fill="#dcdcdc" transform="rotate(0.4 212.5 127)"/>
<ellipse cx="217" cy="124.7" rx="1.7" ry="1.1" fill="#f4f4f4" transform="rotate(-17.3 217 124.7)"/>
<ellipse cx="221.3" cy="122.6" rx="1.9" ry="1.6" fill="#f4f4f4" transform="rotate(-35.6 221.3 122.6)"/>
<ellipse cx="225.9" cy="120.7" rx="1.9" ry="1.2" fill="#dcdcdc" transform="rotate(5.5 225.9 120.7)"/>
<ellipse cx="230.1" cy="118.7" rx="2" ry="1.4" fill="#f8f8f8" transform="rotate(-17.6 230.1 118.7)"/>
<ellipse cx="234.5" cy="116.5" rx="1.8" ry="1.5" fill="#ffffff" transform="rotate(-7.7 234.5 116.5)"/>
<ellipse cx="239.2" cy="114.7" rx="2.1" ry="1.3" fill="#f8f8f8" transform="rotate(-12.7 239.2 114.7)"/>
<ellipse cx="243.4" cy="112.5" rx="1.6" ry="1.1" fill="#dcdcdc" transform="rotate(-7.7 243.4 112.5)"/>
<ellipse cx="248.3" cy="110.3" rx="1.5" ry="1" fill="#f8f8f8" transform="rotate(-32.7 248.3 110.3)"/>
<ellipse cx="252.5" cy="108.1" rx="2.1" ry="1.8" fill="#ebebeb" transform="rotate(-39.6 252.5 108.1)"/>
<ellipse cx="257.1" cy="106.2" rx="1.5" ry="1.1" fill="#dcdcdc" transform="rotate(-23.8 257.1 106.2)"/>
<ellipse cx="261.7" cy="104.7" rx="1.8" ry="1.1" fill="#ffffff" transform="rotate(-24.4 261.7 104.7)"/>
<ellipse cx="266.2" cy="102.4" rx="1.6" ry="1.3" fill="#f4f4f4" transform="rotate(-11 266.2 102.4)"/>
<ellipse cx="176.9" cy="147.3" rx="2.3" ry="1.9" fill="#ebebeb" transform="rotate(-12 176.9 147.3)"/>
<ellipse cx="181.6" cy="145.3" rx="2" ry="1.5" fill="#f8f8f8" transform="rotate(-26.8 181.6 145.3)"/>
<ellipse cx="185.8" cy="143" rx="2.1" ry="1.8" fill="#ebebeb" transform="rotate(3.9 185.8 143)"/>
<ellipse cx="190.3" cy="140.9" rx="1.8" ry="1.3" fill="#f8f8f8" transform="rotate(-11.8 190.3 140.9)"/>
<ellipse cx="194.8" cy="139.2" rx="1.9" ry="1.6" fill="#dcdcdc" transform="rotate(-36.4 194.8 139.2)"/>
<ellipse cx="199.6" cy="136.6" rx="2" ry="1.3" fill="#ffffff" transform="rotate(0.1 199.6 136.6)"/>
<ellipse cx="204" cy="134.5" rx="2" ry="1.4" fill="#dcdcdc" transform="rotate(-40.9 204 134.5)"/>
<ellipse cx="208.4" cy="132.4" rx="1.6" ry="1.2" fill="#f4f4f4" transform="rotate(-24.2 208.4 132.4)"/>
<ellipse cx="213.4" cy="130.9" rx="1.6" ry="1.3" fill="#ebebeb" transform="rotate(-24.6 213.4 130.9)"/>
<ellipse cx="217.5" cy="128.3" rx="2.1" ry="1.5" fill="#ebebeb" transform="rotate(-1.4 217.5 128.3)"/>
<ellipse cx="222" cy="126.2" rx="2.2" ry="1.6" fill="#ebebeb" transform="rotate(-12 222 126.2)"/>
<ellipse cx="226.6" cy="124.4" rx="1.8" ry="1.2" fill="#ffffff" transform="rotate(1.6 226.6 124.4)"/>
<ellipse cx="231.1" cy="122.2" rx="2.1" ry="1.4" fill="#f4f4f4" transform="rotate(5.5 231.1 122.2)"/>
<ellipse cx="235.7" cy="120.5" rx="1.9" ry="1.4" fill="#f4f4f4" transform="rotate(-33.4 235.7 120.5)"/>
<ellipse cx="240.1" cy="118.1" rx="2.1" ry="1.4" fill="#f4f4f4" transform="rotate(-23.2 240.1 118.1)"/>
<ellipse cx="244.2" cy="116.3" rx="2.4" ry="1.4" fill="#f8f8f8" transform="rotate(6.6 244.2 116.3)"/>
<ellipse cx="248.9" cy="114.1" rx="1.8" ry="1.3" fill="#dcdcdc" transform="rotate(6.7 248.9 114.1)"/>
<ellipse cx="253.8" cy="112.2" rx="2" ry="1.3" fill="#ebebeb" transform="rotate(-14.3 253.8 112.2)"/>
<ellipse cx="258" cy="109.9" rx="1.7" ry="1.1" fill="#ebebeb" transform="rotate(-2.7 258 109.9)"/>
<ellipse cx="262.5" cy="107.5" rx="1.8" ry="1.2" fill="#f4f4f4" transform="rotate(-40.7 262.5 107.5)"/>
<ellipse cx="266.7" cy="105.8" rx="1.6" ry="1" fill="#ebebeb" transform="rotate(1.6 266.7 105.8)"/>
<polyline points="187.9,97.2 184.7,99.1 187.5,100.6 185,103.4 188.2,105 185.2,106.9 188.8,108.3" fill="none" stroke="#d8d030" stroke-width="1.5" stroke-linejoin="round" stroke-linecap="round"/>
<ellipse cx="186.5" cy="103" rx="1.6" ry="4" fill="#d8d030" opacity="0.7"/>
<polyline points="223.6,83.6 220.4,85.5 224,87.1 220.9,88.9 224.1,89.8 221.4,92 224.3,92.7" fill="none" stroke="#d8d030" stroke-width="1.5" stroke-linejoin="round" stroke-linecap="round"/>
<ellipse cx="222.5" cy="88.5" rx="1.6" ry="3" fill="#d8d030" opacity="0.7"/>
<polyline points="225.4,100.7 221.9,102.7 225.2,104.4 222.4,106.4 225.8,107.2 222.4,109.8 226.1,111.2" fill="none" stroke="#d8d030" stroke-width="1.5" stroke-linejoin="round" stroke-linecap="round"/>
<ellipse cx="224" cy="106" rx="1.6" ry="3.5" fill="#d8d030" opacity="0.7"/>
<polyline points="183,118.4 179.8,121 183.2,122.9 180.3,125.3 184,126.7 181.1,129.1 184.4,131" fill="none" stroke="#d8d030" stroke-width="1.5" stroke-linejoin="round" stroke-linecap="round"/>
<ellipse cx="182" cy="125" rx="1.6" ry="5" fill="#d8d030" opacity="0.7"/>
<line x1="275" y1="106.3" x2="305" y2="106.3" stroke="#000" stroke-width="2.6"/>
<path d="M315.5 106.3 L302 101.7 L304.5 106.3 L302 110.9 Z" fill="#000"/>
<text x="293" y="137.7" font-size="15.7" fill="#000" text-anchor="middle" >II</text>
<polyline points="300,80 299.4,81.1 299.8,82 301.1,82.5 302.1,83.1 302,84.1 301.2,85.3 301,85.8 301.4,86.7 302.1,87.7 302.4,88.6 301.6,89.3 300.5,90.3 300.7,91.3 301.8,91.7 303.2,92 303.7,92.8 303.5,94" fill="none" stroke="#c020c0" stroke-width="2.2" stroke-linejoin="round" stroke-linecap="round" />
<g>
<ellipse cx="300" cy="74.2" rx="9.5" ry="8.6" fill="#b00cb4"/>
<circle cx="300.5" cy="79.8" r="2.2" fill="#bc0cbc"/>
<circle cx="293.7" cy="75.1" r="2.5" fill="#98069c"/>
<circle cx="299.8" cy="77.9" r="3" fill="#98069c"/>
<circle cx="294" cy="72.8" r="2.3" fill="#b00cb4"/>
<circle cx="300.4" cy="77.1" r="2.9" fill="#98069c"/>
<circle cx="299.6" cy="68" r="1.9" fill="#bc0cbc"/>
<circle cx="307.2" cy="76" r="2.8" fill="#d020d0"/>
<circle cx="293" cy="75.3" r="2.9" fill="#98069c"/>
<circle cx="294.1" cy="78.4" r="2.3" fill="#b00cb4"/>
<circle cx="301.9" cy="72.6" r="2" fill="#b00cb4"/>
<circle cx="299.7" cy="80.4" r="2.7" fill="#d020d0"/>
<circle cx="293.3" cy="77.5" r="2.5" fill="#bc0cbc"/>
<circle cx="294.5" cy="71.2" r="2.9" fill="#c410c4"/>
<circle cx="305.2" cy="68.3" r="2.6" fill="#b00cb4"/>
<circle cx="298.5" cy="70.1" r="2.5" fill="#bc0cbc"/>
<circle cx="293.6" cy="71.5" r="2.1" fill="#bc0cbc"/>
<circle cx="299.7" cy="76.9" r="2.4" fill="#98069c"/>
<circle cx="306.4" cy="77.8" r="2.3" fill="#b00cb4"/>
<circle cx="305.4" cy="74.8" r="2.3" fill="#c410c4"/>
<circle cx="306.3" cy="75.8" r="1.9" fill="#bc0cbc"/>
<circle cx="296.2" cy="80.4" r="3" fill="#bc0cbc"/>
<circle cx="300.1" cy="75.6" r="1.8" fill="#c410c4"/>
<circle cx="298.8" cy="73.4" r="2" fill="#98069c"/>
<circle cx="298.9" cy="78" r="2.6" fill="#d020d0"/>
<circle cx="296.8" cy="81.1" r="2.9" fill="#98069c"/>
<circle cx="294.4" cy="79.2" r="2.3" fill="#bc0cbc"/>
<circle cx="298.9" cy="72" r="3" fill="#bc0cbc"/>
<circle cx="299.1" cy="80.2" r="2.7" fill="#d020d0"/>
<circle cx="296.1" cy="75.7" r="2.2" fill="#d020d0"/>
<circle cx="305.4" cy="74.6" r="2.5" fill="#c410c4"/>
<circle cx="295.4" cy="78.3" r="2" fill="#d020d0"/>
<circle cx="293.2" cy="75.5" r="2.2" fill="#d020d0"/>
<circle cx="299.9" cy="73.1" r="1.9" fill="#c410c4"/>
<circle cx="304.1" cy="73.3" r="2.3" fill="#bc0cbc"/>
<circle cx="297.2" cy="72.3" r="2" fill="#d020d0"/>
<circle cx="302.4" cy="71" r="2.7" fill="#c410c4"/>
<circle cx="300.2" cy="73" r="2.5" fill="#b00cb4"/>
<circle cx="298.5" cy="77.5" r="2.8" fill="#b00cb4"/>
<circle cx="296.8" cy="79.7" r="2.6" fill="#c410c4"/>
<circle cx="303.8" cy="76.8" r="2.2" fill="#b00cb4"/>
<circle cx="292.8" cy="76.9" r="2" fill="#d020d0"/>
<circle cx="299.8" cy="70.7" r="2.5" fill="#d020d0"/>
<circle cx="300.5" cy="76.8" r="2.4" fill="#b00cb4"/>
<circle cx="296.9" cy="80.6" r="2.5" fill="#d020d0"/>
<circle cx="295.9" cy="80" r="1.9" fill="#bc0cbc"/>
<circle cx="298.3" cy="76.5" r="2.2" fill="#d020d0"/>
<circle cx="293.5" cy="75.5" r="2.1" fill="#bc0cbc"/>
<circle cx="293.2" cy="78.1" r="2" fill="#c410c4"/>
<circle cx="292.4" cy="75.2" r="2.5" fill="#bc0cbc"/>
<circle cx="292.5" cy="77.2" r="2.9" fill="#b00cb4"/>
<circle cx="305.6" cy="75.2" r="2.7" fill="#bc0cbc"/>
<circle cx="306" cy="72.9" r="2.9" fill="#c410c4"/>
<circle cx="305.2" cy="68.4" r="1.9" fill="#b00cb4"/>
<circle cx="307.7" cy="76.2" r="2.6" fill="#b00cb4"/>
<circle cx="306.3" cy="69.8" r="2.5" fill="#c410c4"/>
<circle cx="297.1" cy="74.5" r="2.4" fill="#b00cb4"/>
<circle cx="296.8" cy="69.5" r="2.3" fill="#bc0cbc"/>
<circle cx="302.2" cy="76" r="3" fill="#bc0cbc"/>
<circle cx="292.6" cy="75.2" r="2.2" fill="#b00cb4"/>
<circle cx="305.7" cy="79.2" r="1.9" fill="#b00cb4"/>
</g>
<polygon points="320.2,105.7 321.8,103.7 324.3,104.3 326,102.3 328.5,102.9 330.1,100.9 332.7,101.5 334.3,99.5 336.8,100.1 338.5,98.1 341,98.7 342.6,96.7 345.2,97.3 346.8,95.3 349.3,95.9 351,93.9 353.5,94.6 355.1,92.5 357.7,93.2 359.3,91.1 361.8,91.8 363.5,89.7 366,90.4 367.6,88.4 370.2,89 371.8,87 374.3,87.6 376,85.6 378.5,86.2 380.1,84.2 382.7,84.8 384.3,82.8 386.8,83.4 388.5,81.4 391,82 392.6,80 395.2,80.6 396.8,78.6 399.3,79.3 401,77.2 403.5,77.9 405.1,75.8 407.2,76.4 409.7,76.4 410.5,78.6 413,78.6 413.8,80.8 416.3,80.8 417.1,83.1 419.6,83 420.5,85.3 422.9,85.2 423.8,87.5 426.2,87.4 427.1,89.7 429.5,89.7 430.4,91.9 432.8,91.9 433.7,94.1 436.1,94.1 437,96.4 439.4,96.3 440.3,98.6 442.7,98.5 443.6,100.8 446,100.7 446.9,103 449.3,102.9 450.3,104.3 448.7,106.7 445.8,106.5 444.2,108.8 441.3,108.6 439.7,111 436.9,110.8 435.2,113.1 432.4,112.9 430.8,115.2 427.9,115 426.3,117.4 423.5,117.2 421.8,119.5 419,119.3 417.4,121.6 414.5,121.5 412.9,123.8 410,123.6 408.4,125.9 405.6,125.7 403.9,128.1 401.1,127.9 399.5,130.2 396.6,130 395,132.3 392.2,132.1 390.5,134.5 387.7,134.3 386.1,136.6 383.2,136.4 381.6,138.8 378.7,138.6 377.1,140.9 374.3,140.7 372.6,143 369.8,142.8 368.2,145.2 365.3,145 363.7,147.3 360.9,147.1 359.2,149.4 357,149.4 354.5,148.6 354.2,146 351.7,145.1 351.4,142.5 348.9,141.7 348.5,139.1 346.1,138.3 345.7,135.7 343.2,134.9 342.9,132.3 340.4,131.4 340.1,128.8 337.6,128 337.3,125.4 334.8,124.6 334.5,122 332,121.2 331.6,118.6 329.2,117.8 328.8,115.2 326.3,114.3 326,111.7 323.5,110.9 323.2,108.3 320.7,107.5" fill="#868686"/>
<line x1="320.8" y1="105.5" x2="407.5" y2="76.4" stroke="#6c6c6c" stroke-width="0.7" opacity="0.7"/>
<line x1="323.3" y1="108.5" x2="410.4" y2="78.4" stroke="#6c6c6c" stroke-width="0.7" opacity="0.7"/>
<line x1="326.1" y1="111.9" x2="413.7" y2="80.6" stroke="#6c6c6c" stroke-width="0.7" opacity="0.7"/>
<line x1="328.9" y1="115.3" x2="417" y2="82.8" stroke="#6c6c6c" stroke-width="0.7" opacity="0.7"/>
<line x1="331.7" y1="118.7" x2="420.3" y2="85" stroke="#6c6c6c" stroke-width="0.7" opacity="0.7"/>
<line x1="334.5" y1="122.1" x2="423.6" y2="87.3" stroke="#6c6c6c" stroke-width="0.7" opacity="0.7"/>
<line x1="337.3" y1="125.6" x2="426.9" y2="89.5" stroke="#6c6c6c" stroke-width="0.7" opacity="0.7"/>
<line x1="340.2" y1="129" x2="430.2" y2="91.7" stroke="#6c6c6c" stroke-width="0.7" opacity="0.7"/>
<line x1="343" y1="132.4" x2="433.5" y2="93.9" stroke="#6c6c6c" stroke-width="0.7" opacity="0.7"/>
<line x1="345.8" y1="135.8" x2="436.8" y2="96.1" stroke="#6c6c6c" stroke-width="0.7" opacity="0.7"/>
<line x1="348.6" y1="139.2" x2="440.1" y2="98.4" stroke="#6c6c6c" stroke-width="0.7" opacity="0.7"/>
<line x1="351.4" y1="142.6" x2="443.4" y2="100.6" stroke="#6c6c6c" stroke-width="0.7" opacity="0.7"/>
<line x1="354.3" y1="146.1" x2="446.7" y2="102.8" stroke="#6c6c6c" stroke-width="0.7" opacity="0.7"/>
<line x1="356.7" y1="149" x2="449.6" y2="104.7" stroke="#6c6c6c" stroke-width="0.7" opacity="0.7"/>
<path d="M323.9 104.9h0M336 101.1h0M340.3 99.8h0M345 98h0M353.2 95.5h0M357.4 93.9h0M361.6 92.5h0M365.2 91.3h0M369.9 89.9h0M382.5 85.3h0M394.5 80.9h0M403.2 78.2h0M407.2 76.8h0M357.7 97h0M374.4 90.9h0M378 89.7h0M387 86.5h0M390.7 85.3h0M399.4 81.8h0M408 79.7h0M329.2 110.8h0M333.1 109h0M337.1 108h0M341.1 106.7h0M346 105.2h0M349.8 103.4h0M375.1 94.5h0M379.2 93.2h0M383.6 91h0M387.8 89.5h0M400.5 85.3h0M409 82.5h0M412.7 80.9h0M333.7 113.6h0M337.9 111.8h0M342.3 110.2h0M346.7 108.4h0M358.9 104.4h0M363.2 102.5h0M371.7 99.3h0M380.6 96.1h0M384.7 95.1h0M388.6 92.9h0M392.8 91.9h0M401.4 88.8h0M413.9 83.7h0M338.6 116h0M342.9 114.8h0M346.8 113.2h0M360.4 108.3h0M364.5 106.6h0M372.6 103h0M376.7 101.5h0M381.6 99.5h0M411.3 88.2h0M415.5 86.9h0M420 85.4h0M334.9 122.2h0M339.7 120.1h0M343.7 118.8h0M348.2 117.2h0M361 112.1h0M365 110h0M369.4 108.5h0M377.6 104.8h0M381.9 103.8h0M390.8 99.9h0M395 98.5h0M403.4 94.9h0M408 93.5h0M411.9 91.4h0M416.6 90.2h0M421.1 88.4h0M340 124.4h0M348.9 120.9h0M353.1 119.4h0M357.3 117.4h0M370.6 112.5h0M374.6 110.3h0M409.1 96.3h0M413.6 94.6h0M417.3 93.5h0M421.6 91.7h0M426.5 89.9h0M358.3 121.6h0M367 118.3h0M371 116.2h0M379.5 112.4h0M392.7 107.1h0M397 105.1h0M401.8 103.5h0M410.2 100.2h0M418.7 96.6h0M427.1 93.1h0M350.1 129.5h0M354.3 127.3h0M363 123.9h0M372.1 120h0M384.8 114.2h0M389.2 112.4h0M393.5 111.1h0M398.4 109h0M407 105.5h0M415.6 101.9h0M420 100.1h0M423.9 97.7h0M354.9 131.5h0M359.7 130.1h0M368.6 125.8h0M372.9 123.8h0M377.3 122h0M381.5 120.4h0M385.7 118.3h0M390 116.5h0M399 112.3h0M403.5 110.4h0M416.8 104.9h0M429.7 99.4h0M351.7 138.3h0M359.9 134h0M364.8 132.2h0M373.6 128.2h0M378.2 126.3h0M382.6 123.9h0M386.8 122.3h0M399.7 116.1h0M404.4 114.6h0M408.9 112.3h0M413 110.7h0M417.5 108.3h0M426.1 104.5h0M430.9 102.5h0M439.3 98.3h0M352.3 142.5h0M356.3 140.3h0M378.5 130h0M383.1 127.9h0M387.7 125.8h0M405.2 118.1h0M423.2 110h0M436.4 104h0M440.6 101.9h0M357.1 144.3h0M361.7 142.6h0M379.6 134.4h0M383.7 132h0M388.3 130.5h0M393 128.2h0M397.4 126.1h0M415.2 118h0M424 113.5h0M427.9 111.1h0M432.5 109.3h0M441.6 105.3h0M446.1 103.3h0M356.7 148.6h0M365.8 144.1h0M374.4 139.6h0M383.7 135.3h0M388 133.3h0M392.3 131h0M397.2 128.8h0M401.6 127h0M410.5 122.7h0M415.4 120.5h0M419.5 118.3h0M428.1 114h0M437.6 110h0M446.1 105.6h0" stroke="#585858" stroke-width="1.5" stroke-linecap="round" opacity="0.7" fill="none"/>
<ellipse cx="322.7" cy="106.6" rx="1.5" ry="0.9" fill="#f8f8f8" transform="rotate(5 322.7 106.6)"/>
<ellipse cx="326.7" cy="104.8" rx="1.3" ry="0.8" fill="#f4f4f4" transform="rotate(-18.3 326.7 104.8)"/>
<ellipse cx="330.8" cy="103.5" rx="1.7" ry="1.1" fill="#f8f8f8" transform="rotate(-26.5 330.8 103.5)"/>
<ellipse cx="335" cy="102.2" rx="1.8" ry="1.2" fill="#dcdcdc" transform="rotate(-11.9 335 102.2)"/>
<ellipse cx="339.1" cy="101.2" rx="1.5" ry="1.1" fill="#dcdcdc" transform="rotate(-24 339.1 101.2)"/>
<ellipse cx="343.2" cy="99.6" rx="2" ry="1.3" fill="#f8f8f8" transform="rotate(-1.7 343.2 99.6)"/>
<ellipse cx="347.6" cy="98.3" rx="1.6" ry="1.1" fill="#f4f4f4" transform="rotate(-21.2 347.6 98.3)"/>
<ellipse cx="351.8" cy="96.5" rx="1.8" ry="1.3" fill="#dcdcdc" transform="rotate(2.3 351.8 96.5)"/>
<ellipse cx="356" cy="95.5" rx="1.4" ry="0.9" fill="#ffffff" transform="rotate(-2.3 356 95.5)"/>
<ellipse cx="359.8" cy="93.9" rx="1.9" ry="1.3" fill="#dcdcdc" transform="rotate(-1.3 359.8 93.9)"/>
<ellipse cx="364.3" cy="92.6" rx="1.9" ry="1.4" fill="#ebebeb" transform="rotate(6.4 364.3 92.6)"/>
<ellipse cx="368.1" cy="90.7" rx="2" ry="1.6" fill="#ebebeb" transform="rotate(-15 368.1 90.7)"/>
<ellipse cx="372.3" cy="89.2" rx="1.8" ry="1.2" fill="#ffffff" transform="rotate(5.4 372.3 89.2)"/>
<ellipse cx="377.1" cy="87.9" rx="1.8" ry="1.1" fill="#ebebeb" transform="rotate(4.9 377.1 87.9)"/>
<ellipse cx="380.8" cy="86.7" rx="1.7" ry="1.3" fill="#dcdcdc" transform="rotate(-27.5 380.8 86.7)"/>
<ellipse cx="385.4" cy="85.5" rx="1.6" ry="1.2" fill="#ffffff" transform="rotate(-2.2 385.4 85.5)"/>
<ellipse cx="389" cy="83.5" rx="2.1" ry="1.3" fill="#ebebeb" transform="rotate(-39.2 389 83.5)"/>
<ellipse cx="393.5" cy="82.2" rx="1.9" ry="1.4" fill="#f8f8f8" transform="rotate(-5.4 393.5 82.2)"/>
<ellipse cx="397.9" cy="80.9" rx="1.6" ry="1.2" fill="#ffffff" transform="rotate(-28.9 397.9 80.9)"/>
<ellipse cx="402.2" cy="79.6" rx="1.5" ry="0.9" fill="#ffffff" transform="rotate(-20.2 402.2 79.6)"/>
<ellipse cx="406.2" cy="77.9" rx="1.5" ry="1.1" fill="#ffffff" transform="rotate(2.7 406.2 77.9)"/>
<ellipse cx="327.5" cy="109.1" rx="1.8" ry="1.1" fill="#dcdcdc" transform="rotate(-32.7 327.5 109.1)"/>
<ellipse cx="331.5" cy="108.1" rx="1.7" ry="1.2" fill="#ffffff" transform="rotate(-30.9 331.5 108.1)"/>
<ellipse cx="335.7" cy="106.4" rx="1.5" ry="1" fill="#dcdcdc" transform="rotate(-20.3 335.7 106.4)"/>
<ellipse cx="340.1" cy="105" rx="1.6" ry="1" fill="#dcdcdc" transform="rotate(4 340.1 105)"/>
<ellipse cx="344.2" cy="103.5" rx="1.6" ry="1.4" fill="#ffffff" transform="rotate(-28.9 344.2 103.5)"/>
<ellipse cx="348.7" cy="101.6" rx="1.3" ry="1" fill="#ebebeb" transform="rotate(-18.3 348.7 101.6)"/>
<ellipse cx="352.3" cy="100.3" rx="1.6" ry="1" fill="#f8f8f8" transform="rotate(-21.8 352.3 100.3)"/>
<ellipse cx="356.7" cy="99.1" rx="1.9" ry="1.3" fill="#ffffff" transform="rotate(-21.3 356.7 99.1)"/>
<ellipse cx="361.3" cy="97.4" rx="1.4" ry="1" fill="#ebebeb" transform="rotate(5.4 361.3 97.4)"/>
<ellipse cx="365.5" cy="96.2" rx="1.5" ry="1" fill="#ebebeb" transform="rotate(3.5 365.5 96.2)"/>
<ellipse cx="369.4" cy="94.8" rx="1.5" ry="1.3" fill="#ebebeb" transform="rotate(-29.2 369.4 94.8)"/>
<ellipse cx="373.6" cy="93.3" rx="1.9" ry="1.3" fill="#f4f4f4" transform="rotate(3.1 373.6 93.3)"/>
<ellipse cx="377.8" cy="91.2" rx="1.7" ry="1.1" fill="#ffffff" transform="rotate(-35.2 377.8 91.2)"/>
<ellipse cx="381.7" cy="89.8" rx="2" ry="1.4" fill="#ebebeb" transform="rotate(5.5 381.7 89.8)"/>
<ellipse cx="385.9" cy="88.3" rx="1.4" ry="1" fill="#ebebeb" transform="rotate(-1.7 385.9 88.3)"/>
<ellipse cx="390.5" cy="87.3" rx="1.7" ry="1.1" fill="#f8f8f8" transform="rotate(-22.5 390.5 87.3)"/>
<ellipse cx="394.4" cy="85.3" rx="1.7" ry="1.3" fill="#f4f4f4" transform="rotate(2.2 394.4 85.3)"/>
<ellipse cx="399" cy="83.9" rx="1.4" ry="1.1" fill="#f8f8f8" transform="rotate(-18 399 83.9)"/>
<ellipse cx="403.2" cy="82.7" rx="1.5" ry="0.9" fill="#ffffff" transform="rotate(-19.2 403.2 82.7)"/>
<ellipse cx="406.9" cy="81.4" rx="1.8" ry="1.3" fill="#dcdcdc" transform="rotate(-17.7 406.9 81.4)"/>
<ellipse cx="411.3" cy="79.8" rx="1.6" ry="1" fill="#f4f4f4" transform="rotate(6.2 411.3 79.8)"/>
<ellipse cx="328.1" cy="113.3" rx="1.6" ry="1.1" fill="#ebebeb" transform="rotate(-20.8 328.1 113.3)"/>
<ellipse cx="332.6" cy="111.6" rx="1.4" ry="1.1" fill="#f8f8f8" transform="rotate(-19.2 332.6 111.6)"/>
<ellipse cx="336.4" cy="110.3" rx="1.8" ry="1.2" fill="#ebebeb" transform="rotate(-14.7 336.4 110.3)"/>
<ellipse cx="340.8" cy="108.8" rx="1.5" ry="1.2" fill="#ebebeb" transform="rotate(-38.3 340.8 108.8)"/>
<ellipse cx="345.1" cy="107.1" rx="1.7" ry="1.4" fill="#f8f8f8" transform="rotate(-33.7 345.1 107.1)"/>
<ellipse cx="349.5" cy="105.5" rx="1.5" ry="1.2" fill="#ebebeb" transform="rotate(-41 349.5 105.5)"/>
<ellipse cx="353.2" cy="103.8" rx="1.6" ry="1.2" fill="#dcdcdc" transform="rotate(-29.4 353.2 103.8)"/>
<ellipse cx="357.4" cy="102.5" rx="2.1" ry="1.3" fill="#f4f4f4" transform="rotate(4.4 357.4 102.5)"/>
<ellipse cx="362.1" cy="101.2" rx="1.4" ry="1.1" fill="#ffffff" transform="rotate(-11.9 362.1 101.2)"/>
<ellipse cx="366.3" cy="99.2" rx="1.4" ry="1.2" fill="#ffffff" transform="rotate(-21.9 366.3 99.2)"/>
<ellipse cx="370.7" cy="98" rx="1.4" ry="1.1" fill="#f4f4f4" transform="rotate(-31.7 370.7 98)"/>
<ellipse cx="374.9" cy="96.2" rx="1.8" ry="1.2" fill="#f8f8f8" transform="rotate(-9.7 374.9 96.2)"/>
<ellipse cx="378.9" cy="94.7" rx="1.3" ry="1.1" fill="#f4f4f4" transform="rotate(-27.9 378.9 94.7)"/>
<ellipse cx="383.1" cy="93.2" rx="1.4" ry="1" fill="#f4f4f4" transform="rotate(-16.7 383.1 93.2)"/>
<ellipse cx="387.2" cy="91.6" rx="1.6" ry="1.4" fill="#ebebeb" transform="rotate(-38.2 387.2 91.6)"/>
<ellipse cx="391.2" cy="90.2" rx="1.7" ry="1.4" fill="#dcdcdc" transform="rotate(-39.6 391.2 90.2)"/>
<ellipse cx="395.5" cy="89.1" rx="2.2" ry="1.8" fill="#f4f4f4" transform="rotate(-40.2 395.5 89.1)"/>
<ellipse cx="400" cy="87.6" rx="1.5" ry="1.2" fill="#f8f8f8" transform="rotate(-42.4 400 87.6)"/>
<ellipse cx="404" cy="85.9" rx="2" ry="1.5" fill="#f8f8f8" transform="rotate(-16.6 404 85.9)"/>
<ellipse cx="408.2" cy="84" rx="1.7" ry="1.2" fill="#dcdcdc" transform="rotate(-28.7 408.2 84)"/>
<ellipse cx="412.8" cy="82.9" rx="1.5" ry="1.2" fill="#f4f4f4" transform="rotate(-27.6 412.8 82.9)"/>
<ellipse cx="333.3" cy="115.7" rx="1.7" ry="1" fill="#dcdcdc" transform="rotate(0.2 333.3 115.7)"/>
<ellipse cx="337" cy="114.1" rx="2" ry="1.6" fill="#dcdcdc" transform="rotate(-9.2 337 114.1)"/>
<ellipse cx="341.6" cy="113" rx="1.5" ry="1.1" fill="#f8f8f8" transform="rotate(-27.2 341.6 113)"/>
<ellipse cx="345.8" cy="111" rx="1.6" ry="1.2" fill="#ebebeb" transform="rotate(-13.9 345.8 111)"/>
<ellipse cx="350.2" cy="109.8" rx="1.8" ry="1.3" fill="#ebebeb" transform="rotate(-29.1 350.2 109.8)"/>
<ellipse cx="354.6" cy="107.9" rx="1.3" ry="1" fill="#ebebeb" transform="rotate(-7 354.6 107.9)"/>
<ellipse cx="358.4" cy="106.4" rx="1.6" ry="1" fill="#ebebeb" transform="rotate(-16.9 358.4 106.4)"/>
<ellipse cx="363" cy="105.2" rx="1.7" ry="1.2" fill="#dcdcdc" transform="rotate(-40.9 363 105.2)"/>
<ellipse cx="367" cy="103.3" rx="1.8" ry="1.2" fill="#f4f4f4" transform="rotate(-0.7 367 103.3)"/>
<ellipse cx="371.2" cy="102" rx="1.7" ry="1.1" fill="#dcdcdc" transform="rotate(-18.8 371.2 102)"/>
<ellipse cx="375.3" cy="100.2" rx="1.8" ry="1.3" fill="#ffffff" transform="rotate(-28.4 375.3 100.2)"/>
<ellipse cx="379.8" cy="98.4" rx="1.6" ry="1.2" fill="#ffffff" transform="rotate(-14.2 379.8 98.4)"/>
<ellipse cx="383.8" cy="96.7" rx="1.7" ry="1.3" fill="#f4f4f4" transform="rotate(0.8 383.8 96.7)"/>
<ellipse cx="388.1" cy="95.2" rx="1.6" ry="1" fill="#ebebeb" transform="rotate(-16.7 388.1 95.2)"/>
<ellipse cx="392.7" cy="93.9" rx="1.9" ry="1.6" fill="#f8f8f8" transform="rotate(-26.5 392.7 93.9)"/>
<ellipse cx="396.8" cy="92.1" rx="2" ry="1.3" fill="#f4f4f4" transform="rotate(1.1 396.8 92.1)"/>
<ellipse cx="400.9" cy="90.3" rx="2" ry="1.5" fill="#ffffff" transform="rotate(-21.9 400.9 90.3)"/>
<ellipse cx="405.5" cy="88.8" rx="1.6" ry="1.4" fill="#f8f8f8" transform="rotate(-29.7 405.5 88.8)"/>
<ellipse cx="409.4" cy="87.3" rx="1.7" ry="1.3" fill="#ebebeb" transform="rotate(-21.6 409.4 87.3)"/>
<ellipse cx="413.5" cy="86.1" rx="2" ry="1.2" fill="#f8f8f8" transform="rotate(0.4 413.5 86.1)"/>
<ellipse cx="418.2" cy="84" rx="1.9" ry="1.3" fill="#f8f8f8" transform="rotate(-11.9 418.2 84)"/>
<ellipse cx="333.5" cy="120.3" rx="2" ry="1.6" fill="#f4f4f4" transform="rotate(0.8 333.5 120.3)"/>
<ellipse cx="337.8" cy="118.5" rx="1.5" ry="1.1" fill="#ffffff" transform="rotate(1.7 337.8 118.5)"/>
<ellipse cx="342.3" cy="116.7" rx="1.9" ry="1.2" fill="#f8f8f8" transform="rotate(-2.2 342.3 116.7)"/>
<ellipse cx="346.8" cy="115.2" rx="1.5" ry="1.1" fill="#dcdcdc" transform="rotate(-32.1 346.8 115.2)"/>
<ellipse cx="350.9" cy="113.5" rx="1.8" ry="1.3" fill="#ebebeb" transform="rotate(-12.5 350.9 113.5)"/>
<ellipse cx="355" cy="112.1" rx="2.1" ry="1.7" fill="#dcdcdc" transform="rotate(-33.3 355 112.1)"/>
<ellipse cx="359.1" cy="110.2" rx="1.7" ry="1.1" fill="#f4f4f4" transform="rotate(-34.3 359.1 110.2)"/>
<ellipse cx="363.4" cy="108.6" rx="2.1" ry="1.6" fill="#f4f4f4" transform="rotate(-27.7 363.4 108.6)"/>
<ellipse cx="368.1" cy="106.9" rx="1.5" ry="1.2" fill="#ffffff" transform="rotate(-31.6 368.1 106.9)"/>
<ellipse cx="372.1" cy="105.2" rx="1.6" ry="1.1" fill="#ffffff" transform="rotate(-8.7 372.1 105.2)"/>
<ellipse cx="376.3" cy="103.4" rx="1.5" ry="1.1" fill="#dcdcdc" transform="rotate(-35 376.3 103.4)"/>
<ellipse cx="380.7" cy="101.8" rx="1.9" ry="1.3" fill="#f4f4f4" transform="rotate(-34.7 380.7 101.8)"/>
<ellipse cx="385.2" cy="100.3" rx="1.7" ry="1.3" fill="#ebebeb" transform="rotate(-21.3 385.2 100.3)"/>
<ellipse cx="389" cy="99" rx="2.1" ry="1.5" fill="#dcdcdc" transform="rotate(-34.6 389 99)"/>
<ellipse cx="393.6" cy="97" rx="1.7" ry="1.2" fill="#dcdcdc" transform="rotate(5.9 393.6 97)"/>
<ellipse cx="397.7" cy="95.8" rx="1.8" ry="1.2" fill="#f8f8f8" transform="rotate(-26.5 397.7 95.8)"/>
<ellipse cx="402.3" cy="93.9" rx="1.4" ry="1" fill="#ebebeb" transform="rotate(-19.6 402.3 93.9)"/>
<ellipse cx="406.4" cy="92.4" rx="1.7" ry="1.2" fill="#dcdcdc" transform="rotate(-26.1 406.4 92.4)"/>
<ellipse cx="410.7" cy="90.6" rx="1.8" ry="1.6" fill="#dcdcdc" transform="rotate(-28.3 410.7 90.6)"/>
<ellipse cx="415.2" cy="89.1" rx="1.7" ry="1.4" fill="#ebebeb" transform="rotate(2.7 415.2 89.1)"/>
<ellipse cx="419.1" cy="87.2" rx="1.9" ry="1.4" fill="#ebebeb" transform="rotate(-15.1 419.1 87.2)"/>
<ellipse cx="338.5" cy="122.9" rx="1.9" ry="1.3" fill="#ffffff" transform="rotate(-27.3 338.5 122.9)"/>
<ellipse cx="342.8" cy="121.3" rx="1.9" ry="1.4" fill="#f8f8f8" transform="rotate(-33.6 342.8 121.3)"/>
<ellipse cx="347.2" cy="119.4" rx="1.5" ry="0.9" fill="#f8f8f8" transform="rotate(-8.4 347.2 119.4)"/>
<ellipse cx="351.4" cy="117.7" rx="1.6" ry="1.2" fill="#ffffff" transform="rotate(2.7 351.4 117.7)"/>
<ellipse cx="356.1" cy="115.9" rx="1.6" ry="1" fill="#ebebeb" transform="rotate(-9.2 356.1 115.9)"/>
<ellipse cx="360" cy="114" rx="1.6" ry="1" fill="#ebebeb" transform="rotate(-21.8 360 114)"/>
<ellipse cx="364.3" cy="112.8" rx="1.6" ry="1.2" fill="#dcdcdc" transform="rotate(3.9 364.3 112.8)"/>
<ellipse cx="368.9" cy="110.6" rx="1.5" ry="1" fill="#ebebeb" transform="rotate(1.7 368.9 110.6)"/>
<ellipse cx="372.8" cy="109.2" rx="2.1" ry="1.3" fill="#f8f8f8" transform="rotate(-26.8 372.8 109.2)"/>
<ellipse cx="377.1" cy="107.6" rx="1.6" ry="1" fill="#f8f8f8" transform="rotate(-30 377.1 107.6)"/>
<ellipse cx="381.7" cy="105.6" rx="2" ry="1.6" fill="#dcdcdc" transform="rotate(-15.2 381.7 105.6)"/>
<ellipse cx="386" cy="104.3" rx="1.7" ry="1.2" fill="#ebebeb" transform="rotate(-14.2 386 104.3)"/>
<ellipse cx="390.2" cy="101.9" rx="1.5" ry="1.1" fill="#f4f4f4" transform="rotate(-3.9 390.2 101.9)"/>
<ellipse cx="394.3" cy="100.7" rx="1.6" ry="1.3" fill="#ebebeb" transform="rotate(-30.6 394.3 100.7)"/>
<ellipse cx="398.9" cy="98.9" rx="2" ry="1.4" fill="#ffffff" transform="rotate(-35.5 398.9 98.9)"/>
<ellipse cx="403.5" cy="97.3" rx="1.6" ry="1.3" fill="#f4f4f4" transform="rotate(-37.6 403.5 97.3)"/>
<ellipse cx="407.3" cy="95.7" rx="2" ry="1.3" fill="#ffffff" transform="rotate(-12.2 407.3 95.7)"/>
<ellipse cx="412" cy="93.5" rx="1.3" ry="0.8" fill="#dcdcdc" transform="rotate(-23.9 412 93.5)"/>
<ellipse cx="416" cy="92.4" rx="1.9" ry="1.3" fill="#ffffff" transform="rotate(-40 416 92.4)"/>
<ellipse cx="420.5" cy="90.3" rx="1.4" ry="0.9" fill="#ebebeb" transform="rotate(-1.7 420.5 90.3)"/>
<ellipse cx="424.5" cy="88.3" rx="1.5" ry="0.9" fill="#dcdcdc" transform="rotate(-21.2 424.5 88.3)"/>
<ellipse cx="339.5" cy="126.9" rx="1.5" ry="1.1" fill="#ffffff" transform="rotate(-26.2 339.5 126.9)"/>
<ellipse cx="343.5" cy="125.2" rx="1.5" ry="1" fill="#dcdcdc" transform="rotate(-37.7 343.5 125.2)"/>
<ellipse cx="348.1" cy="123.3" rx="1.4" ry="1" fill="#dcdcdc" transform="rotate(-26.5 348.1 123.3)"/>
<ellipse cx="352.1" cy="121.8" rx="1.7" ry="1.3" fill="#dcdcdc" transform="rotate(-24.4 352.1 121.8)"/>
<ellipse cx="356.9" cy="119.7" rx="1.7" ry="1.3" fill="#ffffff" transform="rotate(-34.6 356.9 119.7)"/>
<ellipse cx="360.9" cy="118.2" rx="1.6" ry="1.4" fill="#dcdcdc" transform="rotate(-36.1 360.9 118.2)"/>
<ellipse cx="365.3" cy="116.3" rx="1.8" ry="1.2" fill="#dcdcdc" transform="rotate(6.5 365.3 116.3)"/>
<ellipse cx="369.3" cy="114.7" rx="1.8" ry="1.2" fill="#f8f8f8" transform="rotate(-42.4 369.3 114.7)"/>
<ellipse cx="373.6" cy="113" rx="1.6" ry="1.1" fill="#f8f8f8" transform="rotate(1.8 373.6 113)"/>
<ellipse cx="377.9" cy="111.3" rx="1.7" ry="1.3" fill="#ebebeb" transform="rotate(-4.5 377.9 111.3)"/>
<ellipse cx="382.8" cy="109.2" rx="1.7" ry="1.2" fill="#ffffff" transform="rotate(-37.8 382.8 109.2)"/>
<ellipse cx="387" cy="107.4" rx="1.5" ry="1" fill="#dcdcdc" transform="rotate(-36.5 387 107.4)"/>
<ellipse cx="391" cy="106.2" rx="1.7" ry="1.4" fill="#dcdcdc" transform="rotate(-43.1 391 106.2)"/>
<ellipse cx="395.2" cy="104.2" rx="2.2" ry="1.6" fill="#ebebeb" transform="rotate(-15.4 395.2 104.2)"/>
<ellipse cx="399.8" cy="102.3" rx="1.9" ry="1.1" fill="#ebebeb" transform="rotate(-19.4 399.8 102.3)"/>
<ellipse cx="404.3" cy="100.7" rx="1.9" ry="1.3" fill="#ffffff" transform="rotate(-10.9 404.3 100.7)"/>
<ellipse cx="408.7" cy="99.1" rx="1.7" ry="1.1" fill="#ebebeb" transform="rotate(-13.5 408.7 99.1)"/>
<ellipse cx="412.9" cy="97.4" rx="1.5" ry="1" fill="#f8f8f8" transform="rotate(-34.4 412.9 97.4)"/>
<ellipse cx="416.8" cy="95" rx="1.8" ry="1.2" fill="#f8f8f8" transform="rotate(-15.2 416.8 95)"/>
<ellipse cx="421.3" cy="93.4" rx="1.5" ry="1.1" fill="#f8f8f8" transform="rotate(-25.3 421.3 93.4)"/>
<ellipse cx="425.9" cy="91.6" rx="1.5" ry="1" fill="#f4f4f4" transform="rotate(-5.2 425.9 91.6)"/>
<ellipse cx="344" cy="129.4" rx="2.1" ry="1.6" fill="#f8f8f8" transform="rotate(-19.5 344 129.4)"/>
<ellipse cx="348.6" cy="127.7" rx="1.8" ry="1.1" fill="#f8f8f8" transform="rotate(-40.5 348.6 127.7)"/>
<ellipse cx="353.1" cy="125.6" rx="1.4" ry="1" fill="#ffffff" transform="rotate(5.5 353.1 125.6)"/>
<ellipse cx="357.1" cy="124.2" rx="2.2" ry="1.4" fill="#dcdcdc" transform="rotate(-32.7 357.1 124.2)"/>
<ellipse cx="362" cy="122.3" rx="1.4" ry="1" fill="#f4f4f4" transform="rotate(-35.6 362 122.3)"/>
<ellipse cx="366.2" cy="120.5" rx="1.7" ry="1.3" fill="#dcdcdc" transform="rotate(3 366.2 120.5)"/>
<ellipse cx="370.3" cy="118.2" rx="2.1" ry="1.4" fill="#f8f8f8" transform="rotate(-32.7 370.3 118.2)"/>
<ellipse cx="374.5" cy="116.5" rx="1.6" ry="1.1" fill="#f4f4f4" transform="rotate(0.1 374.5 116.5)"/>
<ellipse cx="379" cy="115.1" rx="1.5" ry="1.1" fill="#f4f4f4" transform="rotate(-1.8 379 115.1)"/>
<ellipse cx="383.2" cy="113.3" rx="1.5" ry="1.1" fill="#f4f4f4" transform="rotate(3.2 383.2 113.3)"/>
<ellipse cx="388" cy="111.5" rx="1.5" ry="1" fill="#f4f4f4" transform="rotate(-28.9 388 111.5)"/>
<ellipse cx="392" cy="109.3" rx="1.6" ry="1.2" fill="#ffffff" transform="rotate(-20.7 392 109.3)"/>
<ellipse cx="396.3" cy="107.7" rx="1.8" ry="1.3" fill="#dcdcdc" transform="rotate(-33.4 396.3 107.7)"/>
<ellipse cx="401.1" cy="105.7" rx="1.8" ry="1.1" fill="#f8f8f8" transform="rotate(-7.7 401.1 105.7)"/>
<ellipse cx="405.4" cy="104.2" rx="1.6" ry="1.2" fill="#dcdcdc" transform="rotate(-14.7 405.4 104.2)"/>
<ellipse cx="409.2" cy="102.4" rx="1.8" ry="1.2" fill="#ebebeb" transform="rotate(-41.1 409.2 102.4)"/>
<ellipse cx="414" cy="100.4" rx="1.4" ry="1.2" fill="#dcdcdc" transform="rotate(-28.9 414 100.4)"/>
<ellipse cx="418.2" cy="98.7" rx="1.8" ry="1.4" fill="#f8f8f8" transform="rotate(-43.4 418.2 98.7)"/>
<ellipse cx="422.7" cy="96.6" rx="1.9" ry="1.3" fill="#dcdcdc" transform="rotate(-33.6 422.7 96.6)"/>
<ellipse cx="426.9" cy="94.9" rx="1.9" ry="1.5" fill="#dcdcdc" transform="rotate(-27 426.9 94.9)"/>
<ellipse cx="431.3" cy="93.1" rx="1.4" ry="0.9" fill="#ebebeb" transform="rotate(-34.1 431.3 93.1)"/>
<ellipse cx="345.4" cy="133.6" rx="1.9" ry="1.2" fill="#ebebeb" transform="rotate(-27.8 345.4 133.6)"/>
<ellipse cx="349.3" cy="131.6" rx="1.6" ry="1.1" fill="#ffffff" transform="rotate(5.5 349.3 131.6)"/>
<ellipse cx="353.4" cy="130" rx="1.6" ry="1.3" fill="#f8f8f8" transform="rotate(-26 353.4 130)"/>
<ellipse cx="358.1" cy="127.8" rx="1.7" ry="1.2" fill="#dcdcdc" transform="rotate(-6.4 358.1 127.8)"/>
<ellipse cx="362.2" cy="126.5" rx="2" ry="1.3" fill="#ffffff" transform="rotate(-29.4 362.2 126.5)"/>
<ellipse cx="367" cy="124.1" rx="1.5" ry="1.2" fill="#ffffff" transform="rotate(-37.3 367 124.1)"/>
<ellipse cx="371.5" cy="122.7" rx="1.6" ry="1.1" fill="#dcdcdc" transform="rotate(-28.3 371.5 122.7)"/>
<ellipse cx="375.5" cy="121" rx="2.2" ry="1.7" fill="#ffffff" transform="rotate(-32.6 375.5 121)"/>
<ellipse cx="380" cy="118.5" rx="2" ry="1.4" fill="#dcdcdc" transform="rotate(-22.9 380 118.5)"/>
<ellipse cx="384.3" cy="117" rx="2.1" ry="1.4" fill="#ebebeb" transform="rotate(-39.6 384.3 117)"/>
<ellipse cx="388.9" cy="115.1" rx="1.6" ry="1.3" fill="#f4f4f4" transform="rotate(-17.4 388.9 115.1)"/>
<ellipse cx="393.2" cy="113" rx="1.6" ry="1.3" fill="#f4f4f4" transform="rotate(-28.7 393.2 113)"/>
<ellipse cx="397.1" cy="111.6" rx="2.1" ry="1.6" fill="#f8f8f8" transform="rotate(4.8 397.1 111.6)"/>
<ellipse cx="401.8" cy="109.6" rx="2.1" ry="1.6" fill="#ffffff" transform="rotate(-13.4 401.8 109.6)"/>
<ellipse cx="406.1" cy="107.8" rx="2" ry="1.4" fill="#dcdcdc" transform="rotate(-30.9 406.1 107.8)"/>
<ellipse cx="410.8" cy="105.7" rx="1.9" ry="1.5" fill="#f4f4f4" transform="rotate(-1.1 410.8 105.7)"/>
<ellipse cx="415.2" cy="103.5" rx="1.8" ry="1.4" fill="#f8f8f8" transform="rotate(-23.7 415.2 103.5)"/>
<ellipse cx="419" cy="102.1" rx="2.1" ry="1.7" fill="#dcdcdc" transform="rotate(-30.4 419 102.1)"/>
<ellipse cx="424" cy="100.3" rx="1.8" ry="1.2" fill="#dcdcdc" transform="rotate(-37.5 424 100.3)"/>
<ellipse cx="427.9" cy="97.9" rx="1.8" ry="1.1" fill="#ebebeb" transform="rotate(-21.5 427.9 97.9)"/>
<ellipse cx="432.3" cy="95.9" rx="2" ry="1.3" fill="#ebebeb" transform="rotate(-34.5 432.3 95.9)"/>
<ellipse cx="350" cy="136.3" rx="1.7" ry="1.4" fill="#f8f8f8" transform="rotate(-26.3 350 136.3)"/>
<ellipse cx="354.1" cy="134.4" rx="1.8" ry="1.3" fill="#ebebeb" transform="rotate(-2.4 354.1 134.4)"/>
<ellipse cx="358.6" cy="132.4" rx="1.8" ry="1.1" fill="#ebebeb" transform="rotate(-14.4 358.6 132.4)"/>
<ellipse cx="363" cy="130.6" rx="2" ry="1.2" fill="#dcdcdc" transform="rotate(-32 363 130.6)"/>
<ellipse cx="367.9" cy="128.3" rx="1.5" ry="1" fill="#ebebeb" transform="rotate(-14.5 367.9 128.3)"/>
<ellipse cx="371.7" cy="126.5" rx="2" ry="1.3" fill="#f8f8f8" transform="rotate(-1.4 371.7 126.5)"/>
<ellipse cx="376.7" cy="124.8" rx="1.8" ry="1.5" fill="#ebebeb" transform="rotate(-22.5 376.7 124.8)"/>
<ellipse cx="380.7" cy="122.4" rx="2.1" ry="1.7" fill="#f8f8f8" transform="rotate(-6.2 380.7 122.4)"/>
<ellipse cx="385.1" cy="121" rx="2.1" ry="1.6" fill="#f8f8f8" transform="rotate(-41.3 385.1 121)"/>
<ellipse cx="389.4" cy="118.7" rx="1.8" ry="1.4" fill="#f8f8f8" transform="rotate(-6.5 389.4 118.7)"/>
<ellipse cx="394.2" cy="117" rx="1.6" ry="1.2" fill="#f8f8f8" transform="rotate(-25 394.2 117)"/>
<ellipse cx="398.2" cy="115" rx="1.7" ry="1.4" fill="#ffffff" transform="rotate(-31.2 398.2 115)"/>
<ellipse cx="402.5" cy="112.9" rx="1.6" ry="1.3" fill="#dcdcdc" transform="rotate(-14.1 402.5 112.9)"/>
<ellipse cx="407.4" cy="111.4" rx="1.5" ry="1.2" fill="#ebebeb" transform="rotate(6.1 407.4 111.4)"/>
<ellipse cx="411.7" cy="109.1" rx="1.5" ry="1.2" fill="#f4f4f4" transform="rotate(0.2 411.7 109.1)"/>
<ellipse cx="416" cy="107.1" rx="2" ry="1.3" fill="#f8f8f8" transform="rotate(-11.2 416 107.1)"/>
<ellipse cx="420.5" cy="105" rx="1.6" ry="1" fill="#ebebeb" transform="rotate(0.8 420.5 105)"/>
<ellipse cx="424.8" cy="103.2" rx="1.5" ry="1.2" fill="#f8f8f8" transform="rotate(-10.8 424.8 103.2)"/>
<ellipse cx="428.8" cy="101.6" rx="1.9" ry="1.3" fill="#dcdcdc" transform="rotate(-30.3 428.8 101.6)"/>
<ellipse cx="433.3" cy="99.7" rx="1.6" ry="1.3" fill="#dcdcdc" transform="rotate(-14.9 433.3 99.7)"/>
<ellipse cx="438.1" cy="97.6" rx="1.8" ry="1.4" fill="#ffffff" transform="rotate(4.3 438.1 97.6)"/>
<ellipse cx="350.9" cy="140.7" rx="2.1" ry="1.4" fill="#ebebeb" transform="rotate(-37.2 350.9 140.7)"/>
<ellipse cx="355.1" cy="138.5" rx="2.1" ry="1.7" fill="#f8f8f8" transform="rotate(-5 355.1 138.5)"/>
<ellipse cx="359.6" cy="136.5" rx="1.6" ry="1.2" fill="#dcdcdc" transform="rotate(-5.3 359.6 136.5)"/>
<ellipse cx="364.1" cy="134.4" rx="1.9" ry="1.2" fill="#dcdcdc" transform="rotate(-9.8 364.1 134.4)"/>
<ellipse cx="368.6" cy="132.7" rx="1.7" ry="1.1" fill="#f8f8f8" transform="rotate(-27.7 368.6 132.7)"/>
<ellipse cx="372.9" cy="130.6" rx="2" ry="1.4" fill="#ffffff" transform="rotate(-20.2 372.9 130.6)"/>
<ellipse cx="376.9" cy="128.8" rx="1.9" ry="1.5" fill="#ebebeb" transform="rotate(-16.2 376.9 128.8)"/>
<ellipse cx="381.8" cy="126.7" rx="1.6" ry="1.3" fill="#f4f4f4" transform="rotate(-14.5 381.8 126.7)"/>
<ellipse cx="386.1" cy="124.6" rx="1.7" ry="1.5" fill="#dcdcdc" transform="rotate(-43.4 386.1 124.6)"/>
<ellipse cx="390.2" cy="122.5" rx="2.1" ry="1.4" fill="#f4f4f4" transform="rotate(-16.8 390.2 122.5)"/>
<ellipse cx="394.5" cy="120.6" rx="1.9" ry="1.2" fill="#ffffff" transform="rotate(-2.5 394.5 120.6)"/>
<ellipse cx="399" cy="118.9" rx="1.9" ry="1.2" fill="#ffffff" transform="rotate(-39 399 118.9)"/>
<ellipse cx="403.3" cy="116.9" rx="2.1" ry="1.7" fill="#f4f4f4" transform="rotate(-21.2 403.3 116.9)"/>
<ellipse cx="407.7" cy="114.6" rx="2.2" ry="1.6" fill="#f4f4f4" transform="rotate(-36.4 407.7 114.6)"/>
<ellipse cx="412.3" cy="112.7" rx="1.8" ry="1.4" fill="#f4f4f4" transform="rotate(-12.4 412.3 112.7)"/>
<ellipse cx="417.1" cy="110.6" rx="1.4" ry="0.9" fill="#dcdcdc" transform="rotate(-42.2 417.1 110.6)"/>
<ellipse cx="421" cy="108.9" rx="2.3" ry="1.8" fill="#f4f4f4" transform="rotate(-15.7 421 108.9)"/>
<ellipse cx="425.9" cy="106.9" rx="1.8" ry="1.3" fill="#ffffff" transform="rotate(-28.7 425.9 106.9)"/>
<ellipse cx="430.1" cy="104.7" rx="1.7" ry="1.2" fill="#dcdcdc" transform="rotate(-12.2 430.1 104.7)"/>
<ellipse cx="434.6" cy="102.5" rx="1.9" ry="1.5" fill="#dcdcdc" transform="rotate(-30.1 434.6 102.5)"/>
<ellipse cx="438.7" cy="101" rx="2.3" ry="1.8" fill="#f8f8f8" transform="rotate(-42.1 438.7 101)"/>
<ellipse cx="355.6" cy="143.3" rx="1.9" ry="1.6" fill="#f4f4f4" transform="rotate(-39 355.6 143.3)"/>
<ellipse cx="360.4" cy="140.6" rx="2" ry="1.3" fill="#dcdcdc" transform="rotate(-2.6 360.4 140.6)"/>
<ellipse cx="364.9" cy="138.9" rx="1.9" ry="1.3" fill="#ffffff" transform="rotate(-3.4 364.9 138.9)"/>
<ellipse cx="368.9" cy="136.9" rx="1.5" ry="1.1" fill="#ffffff" transform="rotate(-40 368.9 136.9)"/>
<ellipse cx="373.3" cy="134.5" rx="1.7" ry="1.3" fill="#f8f8f8" transform="rotate(-11.9 373.3 134.5)"/>
<ellipse cx="378.1" cy="133" rx="2" ry="1.4" fill="#ebebeb" transform="rotate(-26.3 378.1 133)"/>
<ellipse cx="382.6" cy="130.6" rx="1.9" ry="1.1" fill="#dcdcdc" transform="rotate(-28.5 382.6 130.6)"/>
<ellipse cx="386.9" cy="128.6" rx="1.7" ry="1.1" fill="#dcdcdc" transform="rotate(-32.8 386.9 128.6)"/>
<ellipse cx="391.3" cy="126.9" rx="1.8" ry="1.5" fill="#dcdcdc" transform="rotate(0.2 391.3 126.9)"/>
<ellipse cx="395.8" cy="124.6" rx="1.7" ry="1.1" fill="#f4f4f4" transform="rotate(-17.6 395.8 124.6)"/>
<ellipse cx="400.1" cy="122.5" rx="1.9" ry="1.6" fill="#f4f4f4" transform="rotate(-35.8 400.1 122.5)"/>
<ellipse cx="404.6" cy="120.6" rx="1.9" ry="1.2" fill="#dcdcdc" transform="rotate(5.3 404.6 120.6)"/>
<ellipse cx="408.9" cy="118.5" rx="2" ry="1.4" fill="#f8f8f8" transform="rotate(-17.8 408.9 118.5)"/>
<ellipse cx="413.2" cy="116.3" rx="1.8" ry="1.5" fill="#ffffff" transform="rotate(-7.9 413.2 116.3)"/>
<ellipse cx="417.9" cy="114.5" rx="2.1" ry="1.3" fill="#f8f8f8" transform="rotate(-12.9 417.9 114.5)"/>
<ellipse cx="422.1" cy="112.2" rx="1.6" ry="1" fill="#dcdcdc" transform="rotate(-7.9 422.1 112.2)"/>
<ellipse cx="426.9" cy="110" rx="1.5" ry="1" fill="#f8f8f8" transform="rotate(-32.9 426.9 110)"/>
<ellipse cx="431.1" cy="107.8" rx="2.1" ry="1.8" fill="#ebebeb" transform="rotate(-39.8 431.1 107.8)"/>
<ellipse cx="435.6" cy="105.9" rx="1.5" ry="1.1" fill="#dcdcdc" transform="rotate(-24 435.6 105.9)"/>
<ellipse cx="440.2" cy="104.3" rx="1.8" ry="1.1" fill="#ffffff" transform="rotate(-24.6 440.2 104.3)"/>
<ellipse cx="444.7" cy="102" rx="1.6" ry="1.3" fill="#f4f4f4" transform="rotate(-11.2 444.7 102)"/>
<ellipse cx="356" cy="147.5" rx="2.3" ry="1.9" fill="#ebebeb" transform="rotate(-12.2 356 147.5)"/>
<ellipse cx="360.6" cy="145.5" rx="2" ry="1.5" fill="#f8f8f8" transform="rotate(-27 360.6 145.5)"/>
<ellipse cx="364.9" cy="143.2" rx="2.1" ry="1.8" fill="#ebebeb" transform="rotate(3.6 364.9 143.2)"/>
<ellipse cx="369.3" cy="141" rx="1.8" ry="1.3" fill="#f8f8f8" transform="rotate(-12 369.3 141)"/>
<ellipse cx="373.8" cy="139.3" rx="1.9" ry="1.5" fill="#dcdcdc" transform="rotate(-36.6 373.8 139.3)"/>
<ellipse cx="378.5" cy="136.7" rx="2" ry="1.3" fill="#ffffff" transform="rotate(-0.1 378.5 136.7)"/>
<ellipse cx="382.9" cy="134.5" rx="2" ry="1.4" fill="#dcdcdc" transform="rotate(-41.1 382.9 134.5)"/>
<ellipse cx="387.3" cy="132.4" rx="1.6" ry="1.2" fill="#f4f4f4" transform="rotate(-24.4 387.3 132.4)"/>
<ellipse cx="392.2" cy="130.8" rx="1.6" ry="1.3" fill="#ebebeb" transform="rotate(-24.8 392.2 130.8)"/>
<ellipse cx="396.3" cy="128.2" rx="2.1" ry="1.5" fill="#ebebeb" transform="rotate(-1.6 396.3 128.2)"/>
<ellipse cx="400.8" cy="126.1" rx="2.2" ry="1.6" fill="#ebebeb" transform="rotate(-12.2 400.8 126.1)"/>
<ellipse cx="405.4" cy="124.3" rx="1.8" ry="1.2" fill="#ffffff" transform="rotate(1.4 405.4 124.3)"/>
<ellipse cx="409.9" cy="122" rx="2.1" ry="1.4" fill="#f4f4f4" transform="rotate(5.3 409.9 122)"/>
<ellipse cx="414.4" cy="120.2" rx="1.9" ry="1.4" fill="#f4f4f4" transform="rotate(-33.6 414.4 120.2)"/>
<ellipse cx="418.8" cy="117.8" rx="2.1" ry="1.4" fill="#f4f4f4" transform="rotate(-23.5 418.8 117.8)"/>
<ellipse cx="422.9" cy="116" rx="2.4" ry="1.4" fill="#f8f8f8" transform="rotate(6.3 422.9 116)"/>
<ellipse cx="427.6" cy="113.7" rx="1.8" ry="1.3" fill="#dcdcdc" transform="rotate(6.4 427.6 113.7)"/>
<ellipse cx="432.4" cy="111.9" rx="2" ry="1.3" fill="#ebebeb" transform="rotate(-14.5 432.4 111.9)"/>
<ellipse cx="436.6" cy="109.5" rx="1.7" ry="1.1" fill="#ebebeb" transform="rotate(-2.9 436.6 109.5)"/>
<ellipse cx="441" cy="107.1" rx="1.8" ry="1.2" fill="#f4f4f4" transform="rotate(-40.9 441 107.1)"/>
<ellipse cx="445.2" cy="105.4" rx="1.6" ry="1" fill="#ebebeb" transform="rotate(1.4 445.2 105.4)"/>
<polyline points="364.8,98.3 362.1,100.6 365.1,102.4 362.9,104.7 365.9,106.4 363,108.9 366.3,110.2 363.8,112.6" fill="none" stroke="#e8b020" stroke-width="2.2" stroke-linejoin="round" stroke-linecap="round"/>
<polyline points="365.6,99.3 363.6,102.5 366.5,104.7 364.1,107.9 366.8,110.3 364.8,113.5" fill="none" stroke="#c030c0" stroke-width="1.3" stroke-linejoin="round" stroke-linecap="round"/>
<g>
<ellipse cx="362.7" cy="95.5" rx="5.8" ry="5" fill="#b00cb4"/>
<circle cx="359.5" cy="98.5" r="2.1" fill="#c410c4"/>
<circle cx="362" cy="93.7" r="1.7" fill="#bc0cbc"/>
<circle cx="361.3" cy="97" r="1.6" fill="#d020d0"/>
<circle cx="360.1" cy="92.5" r="2.4" fill="#98069c"/>
<circle cx="361.4" cy="93.6" r="2.4" fill="#b00cb4"/>
<circle cx="365.3" cy="96.6" r="1.6" fill="#b00cb4"/>
<circle cx="361.7" cy="94.1" r="1.8" fill="#bc0cbc"/>
<circle cx="365.6" cy="96.5" r="2.1" fill="#b00cb4"/>
<circle cx="359.5" cy="93.9" r="2" fill="#c410c4"/>
<circle cx="366" cy="92.2" r="1.9" fill="#c410c4"/>
<circle cx="362.8" cy="99.2" r="1.6" fill="#bc0cbc"/>
<circle cx="359.1" cy="93.9" r="2" fill="#d020d0"/>
<circle cx="363.5" cy="99.9" r="2.3" fill="#b00cb4"/>
<circle cx="361.9" cy="96.5" r="2.6" fill="#b00cb4"/>
<circle cx="362.7" cy="99.6" r="2.5" fill="#98069c"/>
<circle cx="362.2" cy="91.6" r="1.6" fill="#98069c"/>
<circle cx="364.1" cy="98.3" r="1.7" fill="#c410c4"/>
<circle cx="366.6" cy="93.7" r="2.4" fill="#c410c4"/>
<circle cx="366.1" cy="96.1" r="1.5" fill="#bc0cbc"/>
<circle cx="363" cy="98" r="1.8" fill="#bc0cbc"/>
<circle cx="361.9" cy="96.7" r="1.9" fill="#c410c4"/>
<circle cx="359.3" cy="92.9" r="1.8" fill="#98069c"/>
</g>
<polyline points="400.5,86.1 397.7,88.5 401,90.3 397.9,92.6 401.6,94.4 398.7,96.5 401.9,98.1 399.1,100.7" fill="none" stroke="#e8b020" stroke-width="2.2" stroke-linejoin="round" stroke-linecap="round"/>
<polyline points="401.1,87.4 398.7,90.3 401.6,92.9 399.5,95.9 402.9,98.1 400.3,101.5" fill="none" stroke="#c030c0" stroke-width="1.3" stroke-linejoin="round" stroke-linecap="round"/>
<g>
<ellipse cx="398.3" cy="83.4" rx="5.8" ry="5" fill="#b00cb4"/>
<circle cx="401.5" cy="86" r="1.7" fill="#bc0cbc"/>
<circle cx="399" cy="87.8" r="2.4" fill="#bc0cbc"/>
<circle cx="394.2" cy="82.4" r="2.3" fill="#bc0cbc"/>
<circle cx="396.8" cy="83.5" r="2.4" fill="#98069c"/>
<circle cx="394.5" cy="83.3" r="2.1" fill="#98069c"/>
<circle cx="400.4" cy="82.3" r="2.6" fill="#d020d0"/>
<circle cx="396.6" cy="86.7" r="2.2" fill="#98069c"/>
<circle cx="398.8" cy="80.1" r="2.1" fill="#bc0cbc"/>
<circle cx="393.6" cy="83.7" r="1.9" fill="#bc0cbc"/>
<circle cx="396.3" cy="85.6" r="2" fill="#98069c"/>
<circle cx="398.8" cy="86.2" r="1.5" fill="#d020d0"/>
<circle cx="398.6" cy="82.1" r="2.3" fill="#c410c4"/>
<circle cx="402.9" cy="84" r="1.9" fill="#bc0cbc"/>
<circle cx="395.2" cy="84.7" r="1.7" fill="#b00cb4"/>
<circle cx="399.7" cy="81.1" r="2.2" fill="#b00cb4"/>
<circle cx="395.7" cy="80.4" r="1.6" fill="#98069c"/>
<circle cx="400.4" cy="82" r="1.5" fill="#b00cb4"/>
<circle cx="395.5" cy="80.1" r="2" fill="#d020d0"/>
<circle cx="395" cy="84.2" r="1.5" fill="#b00cb4"/>
<circle cx="398.1" cy="81.9" r="2.5" fill="#c410c4"/>
<circle cx="402.8" cy="84.9" r="1.8" fill="#b00cb4"/>
<circle cx="394.3" cy="83.7" r="1.7" fill="#c410c4"/>
</g>
<polyline points="401.1,103.2 398.4,105.4 401.8,106.8 399,109.2 402.5,111.1 400.1,113.2 402.9,115.2 400.5,117.6" fill="none" stroke="#e8b020" stroke-width="2.2" stroke-linejoin="round" stroke-linecap="round"/>
<polyline points="402,104.1 400.2,107.4 403.1,109.7 401,112.9 403.5,115.3 401.3,118.7" fill="none" stroke="#c030c0" stroke-width="1.3" stroke-linejoin="round" stroke-linecap="round"/>
<g>
<ellipse cx="399.4" cy="100.3" rx="5.8" ry="5" fill="#b00cb4"/>
<circle cx="400.6" cy="101.2" r="2.1" fill="#c410c4"/>
<circle cx="396.2" cy="100.1" r="2.6" fill="#98069c"/>
<circle cx="397.1" cy="103.3" r="2.2" fill="#98069c"/>
<circle cx="401.4" cy="101.5" r="2.6" fill="#98069c"/>
<circle cx="395.9" cy="101.8" r="1.5" fill="#d020d0"/>
<circle cx="401.6" cy="102.6" r="1.7" fill="#c410c4"/>
<circle cx="400.2" cy="98.3" r="2.2" fill="#98069c"/>
<circle cx="402.1" cy="101.7" r="2.2" fill="#b00cb4"/>
<circle cx="399.1" cy="97.8" r="1.8" fill="#c410c4"/>
<circle cx="397.9" cy="96.3" r="1.5" fill="#b00cb4"/>
<circle cx="402.5" cy="99" r="1.9" fill="#98069c"/>
<circle cx="400.3" cy="98.5" r="2.5" fill="#b00cb4"/>
<circle cx="401.8" cy="100.2" r="1.8" fill="#c410c4"/>
<circle cx="401.4" cy="96.5" r="2.1" fill="#d020d0"/>
<circle cx="396" cy="98.8" r="1.8" fill="#98069c"/>
<circle cx="394.9" cy="102.2" r="2" fill="#c410c4"/>
<circle cx="396.9" cy="104" r="2" fill="#bc0cbc"/>
<circle cx="396.1" cy="103.4" r="1.6" fill="#98069c"/>
<circle cx="399.4" cy="103.7" r="2.2" fill="#c410c4"/>
<circle cx="401.2" cy="99.1" r="1.8" fill="#98069c"/>
<circle cx="396.3" cy="100.2" r="2.4" fill="#98069c"/>
<circle cx="396.1" cy="101.9" r="2.3" fill="#b00cb4"/>
</g>
<polyline points="362.2,120 359.6,122.3 362.4,123.9 360.1,126.3 363.3,127.8 360.2,130.7 363.7,132.1 361.2,134.4" fill="none" stroke="#e8b020" stroke-width="2.2" stroke-linejoin="round" stroke-linecap="round"/>
<polyline points="362.6,120.9 360.6,124.1 363.5,126.5 361.4,129.9 364.3,132.5 361.9,135.8" fill="none" stroke="#c030c0" stroke-width="1.3" stroke-linejoin="round" stroke-linecap="round"/>
<g>
<ellipse cx="360" cy="117.3" rx="5.8" ry="5" fill="#b00cb4"/>
<circle cx="356.1" cy="118.6" r="2" fill="#98069c"/>
<circle cx="363" cy="120.5" r="2.3" fill="#b00cb4"/>
<circle cx="363" cy="116.2" r="2.3" fill="#b00cb4"/>
<circle cx="359.1" cy="120" r="2" fill="#d020d0"/>
<circle cx="362.4" cy="116" r="2.4" fill="#d020d0"/>
<circle cx="356.3" cy="119.6" r="2.4" fill="#b00cb4"/>
<circle cx="360.6" cy="114.6" r="1.8" fill="#b00cb4"/>
<circle cx="360.1" cy="118.1" r="2.3" fill="#98069c"/>
<circle cx="364.5" cy="117.5" r="1.6" fill="#c410c4"/>
<circle cx="356.3" cy="116.3" r="2.2" fill="#b00cb4"/>
<circle cx="360" cy="119.3" r="1.6" fill="#d020d0"/>
<circle cx="363.1" cy="119.7" r="1.9" fill="#bc0cbc"/>
<circle cx="362.4" cy="115.6" r="2.1" fill="#c410c4"/>
<circle cx="364.7" cy="115.8" r="2.4" fill="#d020d0"/>
<circle cx="359.4" cy="116.2" r="2.1" fill="#bc0cbc"/>
<circle cx="356.7" cy="116.8" r="2.4" fill="#b00cb4"/>
<circle cx="358.1" cy="120.9" r="1.8" fill="#b00cb4"/>
<circle cx="361.1" cy="116.7" r="2.1" fill="#b00cb4"/>
<circle cx="362.4" cy="115.1" r="1.6" fill="#c410c4"/>
<circle cx="357.3" cy="113.6" r="2.4" fill="#d020d0"/>
<circle cx="361.5" cy="118.1" r="1.6" fill="#b00cb4"/>
<circle cx="362.3" cy="118.7" r="1.6" fill="#d020d0"/>
</g>
<line x1="454" y1="106.3" x2="482.5" y2="106.3" stroke="#000" stroke-width="2.6"/>
<path d="M493 106.3 L479.5 101.7 L482 106.3 L479.5 110.9 Z" fill="#000"/>
<text x="470" y="137.7" font-size="15.7" fill="#000" text-anchor="middle" >III</text>
<text x="26" y="175.5" font-size="13.9" fill="#111" text-anchor="start" >M13 DNA</text>
<text x="100.7" y="175.5" font-size="13.9" fill="#111" text-anchor="start" >Staples</text>
<text x="173.3" y="167.6" font-size="13.9" fill="#111" text-anchor="start" >Rectangular</text>
<text x="173.3" y="183.9" font-size="13.9" fill="#111" text-anchor="start" >origami sheet</text>
<text x="343.2" y="167.6" font-size="13.9" fill="#111" text-anchor="start" >Thrombin-loaded</text>
<text x="342.5" y="183.7" font-size="13.9" fill="#111" text-anchor="start" >origami sheet</text>
<text x="496" y="175.5" font-size="13.9" fill="#000" text-anchor="start" stroke="#000" stroke-width="0.22">Tubular nanorobot</text>
<text x="458" y="368.7" font-size="14.1" fill="#111" text-anchor="start" >Open state of nanorobot</text>
<line x1="567.6" y1="181" x2="567.6" y2="224.7" stroke="#000" stroke-width="2.6"/>
<path d="M567.6 235.2 L563 221.7 L567.6 224.2 L572.2 221.7 Z" fill="#000"/>
<text x="587.8" y="213" font-size="15.7" fill="#000" text-anchor="middle" >IV</text>
<path d="M20.6 199.4 H343.5" stroke="#000" stroke-width="2.7" stroke-dasharray="4.8 5.55" fill="none"/>
<path d="M20 204.4 V336" stroke="#000" stroke-width="2.7" stroke-dasharray="4.8 5.55" fill="none"/>
<path d="M18.5 338.8 H343.5" stroke="#000" stroke-width="2.7" stroke-dasharray="4.8 5.55" fill="none"/>
<path d="M342.3 204.4 V336" stroke="#000" stroke-width="2.7" stroke-dasharray="4.8 5.55" fill="none"/>
<path d="M346 200.4 L492 246.6" stroke="#000" stroke-width="2.7" stroke-dasharray="4.8 5.55" fill="none"/>
<path d="M346 337.4 L493 264" stroke="#000" stroke-width="2.7" stroke-dasharray="4.8 5.55" fill="none"/>
<polygon points="503,107 500.5,118 503,131 511,144.5" fill="#a4a4a4"/>
<polygon points="503.2,107.5 505,105.3 507.8,105.9 509.6,103.7 512.4,104.2 514.2,102.1 516.9,102.6 518.8,100.5 521.5,101 523.4,98.9 526.1,99.4 528,97.3 530.7,97.8 532.6,95.7 535.3,96.2 537.1,94.1 539.9,94.6 541.7,92.5 544.5,93 546.3,90.8 549.1,91.4 550.9,89.2 553.7,89.7 555.5,87.6 558.3,88.1 560.1,86 562.9,86.5 564.7,84.4 567.5,84.9 569.3,82.8 572.1,83.3 573.9,81.2 576.6,81.7 578.5,79.6 581.2,80.1 583.1,78 585.8,78.5 587.7,76.3 590.4,76.9 592.3,74.7 595,75.2 596.9,73.1 599.6,73.6 601.4,71.5 604.2,72 606,69.9 608.8,70.4 610.6,68.3 613.4,68.8 615.2,66.7 618,67.2 619.8,65.1 622.6,65.6 624.4,63.5 626.5,63.5 628,65.3 626.8,67.2 628.3,69 627,70.9 628.5,72.7 627.3,74.6 628.8,76.3 627.5,78.3 629,80 627.8,82 629.3,83.7 628,85.7 629.5,87.4 628.3,89.3 629.8,91.1 628.8,92.5 627.2,94.8 624.4,94.4 622.8,96.7 620.1,96.4 618.4,98.6 615.7,98.3 614.1,100.5 611.3,100.2 609.7,102.4 606.9,102.1 605.3,104.3 602.6,104 601,106.2 598.2,105.9 596.6,108.1 593.8,107.8 592.2,110 589.5,109.7 587.8,111.9 585.1,111.6 583.5,113.9 580.7,113.5 579.1,115.8 576.4,115.4 574.7,117.7 572,117.3 570.4,119.6 567.6,119.2 566,121.5 563.2,121.2 561.6,123.4 558.9,123.1 557.2,125.3 554.5,125 552.9,127.2 550.1,126.9 548.5,129.1 545.8,128.8 544.1,131 541.4,130.7 539.8,132.9 537,132.6 535.4,134.8 532.7,134.5 531,136.7 528.3,136.4 526.7,138.6 523.9,138.3 522.3,140.6 519.5,140.2 517.9,142.5 515.2,142.1 513.5,144.4 511.5,144.4 509.6,142.3 510.5,139.7 508.6,137.7 509.5,135 507.6,133 508.5,130.3 506.6,128.3 507.5,125.6 505.6,123.6 506.5,121 504.6,118.9 505.5,116.3 503.6,114.2 504.5,111.6 502.6,109.5" fill="#8a8a8a"/>
<line x1="503.7" y1="107.2" x2="626.4" y2="64" stroke="#6c6c6c" stroke-width="0.7" opacity="0.7"/>
<line x1="504.6" y1="111.5" x2="626.6" y2="67.4" stroke="#6c6c6c" stroke-width="0.7" opacity="0.7"/>
<line x1="505.6" y1="116.1" x2="626.9" y2="71.1" stroke="#6c6c6c" stroke-width="0.7" opacity="0.7"/>
<line x1="506.6" y1="120.8" x2="627.1" y2="74.8" stroke="#6c6c6c" stroke-width="0.7" opacity="0.7"/>
<line x1="507.6" y1="125.5" x2="627.4" y2="78.5" stroke="#6c6c6c" stroke-width="0.7" opacity="0.7"/>
<line x1="508.6" y1="130.2" x2="627.6" y2="82.2" stroke="#6c6c6c" stroke-width="0.7" opacity="0.7"/>
<line x1="509.6" y1="134.9" x2="627.9" y2="85.9" stroke="#6c6c6c" stroke-width="0.7" opacity="0.7"/>
<line x1="510.6" y1="139.6" x2="628.2" y2="89.6" stroke="#6c6c6c" stroke-width="0.7" opacity="0.7"/>
<line x1="511.5" y1="143.9" x2="628.4" y2="93" stroke="#6c6c6c" stroke-width="0.7" opacity="0.7"/>
<path d="M507 106.2h0M515.6 103.7h0M520.5 101.7h0M524.9 99.8h0M533.9 96.5h0M538.6 95.5h0M543 93.4h0M552.6 90.3h0M561.8 87.1h0M579.7 81h0M584.4 79.4h0M602.8 72.9h0M607.8 70.6h0M504.9 111h0M509.7 109.3h0M519 106.1h0M523 104.6h0M527.9 102.9h0M541.6 97.8h0M555.6 93h0M560.1 91.4h0M564.4 89.6h0M569 88.1h0M577.9 84.6h0M582.8 83.1h0M592 80.3h0M596.1 78h0M601.1 76.9h0M605.9 74.6h0M615 71.3h0M517.9 111.7h0M522.1 110.1h0M526.3 108.1h0M535.3 105h0M549.2 99.8h0M553.5 98.2h0M558.5 96.7h0M567.3 93.1h0M572.3 91.7h0M576.6 89.6h0M581 88.3h0M590.2 85.1h0M608.1 78.1h0M617.6 74.9h0M621.9 73.3h0M507.4 120.4h0M512 119.2h0M516 117.3h0M547.7 105.1h0M552.5 103.2h0M556.9 101.5h0M560.9 100.2h0M565.6 98.5h0M570.1 96.8h0M574.7 95.2h0M588.5 89.7h0M597.5 86.4h0M601.9 84.7h0M619.9 77.7h0M624.3 76.1h0M519.4 121.2h0M527.9 117.7h0M542 112.4h0M555 106.7h0M559.7 104.8h0M568.3 101.4h0M573 100h0M577.4 97.9h0M582.3 96h0M586.6 94.7h0M600.3 89.4h0M604.5 87.8h0M617.8 82.1h0M622.6 80.1h0M518.4 126.5h0M540.2 117.7h0M544.6 115.8h0M548.9 114.1h0M554 112.1h0M562.3 108.5h0M580.3 100.9h0M585.2 99.3h0M598.3 93.7h0M602.7 92h0M611.7 89h0M616.4 86.5h0M517.1 132h0M520.9 129.9h0M525.5 128.1h0M534.6 124.2h0M539 123.1h0M542.9 120.7h0M547.6 119.1h0M552.3 117.5h0M570.1 109.7h0M578.8 106.2h0M587.6 102.8h0M592.1 100.7h0M596.3 99h0M605 95.5h0M609.9 93.6h0M614.2 91.4h0M622.7 87.5h0M511 139.7h0M533.3 129.9h0M542.2 125.9h0M550.7 122.5h0M572.4 112.9h0M590.3 105.8h0M594.8 103.6h0M598.7 101.9h0M607.8 98.4h0M612.3 96.4h0M616.4 94.6h0M625.7 90.8h0M523 138.4h0M531.5 134.7h0M566.4 119.7h0M575.2 115.5h0M588.6 110h0M592.8 108.5h0M597 106.3h0M610.6 100.2h0M615 98.7h0M619.2 96.7h0M623.8 95.2h0M628.1 93.2h0" stroke="#585858" stroke-width="1.5" stroke-linecap="round" opacity="0.7" fill="none"/>
<ellipse cx="504.7" cy="108.9" rx="1.6" ry="1.2" fill="#dcdcdc" transform="rotate(-39.2 504.7 108.9)"/>
<ellipse cx="509" cy="107" rx="1.7" ry="1.1" fill="#ffffff" transform="rotate(-34.4 509 107)"/>
<ellipse cx="513.9" cy="105.4" rx="1.6" ry="1.1" fill="#ebebeb" transform="rotate(1.9 513.9 105.4)"/>
<ellipse cx="518.5" cy="104.4" rx="1.9" ry="1.3" fill="#ffffff" transform="rotate(-20.5 518.5 104.4)"/>
<ellipse cx="522.9" cy="102.6" rx="2" ry="1.5" fill="#ffffff" transform="rotate(-18.6 522.9 102.6)"/>
<ellipse cx="527.5" cy="100.7" rx="1.7" ry="1.2" fill="#f4f4f4" transform="rotate(4.8 527.5 100.7)"/>
<ellipse cx="532.2" cy="99.2" rx="1.9" ry="1.2" fill="#ebebeb" transform="rotate(-7.5 532.2 99.2)"/>
<ellipse cx="536.7" cy="97.8" rx="1.8" ry="1.3" fill="#f4f4f4" transform="rotate(-29.4 536.7 97.8)"/>
<ellipse cx="541.4" cy="96.2" rx="2" ry="1.4" fill="#ffffff" transform="rotate(-10.4 541.4 96.2)"/>
<ellipse cx="545.9" cy="94.1" rx="2" ry="1.5" fill="#f8f8f8" transform="rotate(-22.4 545.9 94.1)"/>
<ellipse cx="550.6" cy="92.4" rx="1.7" ry="1.3" fill="#ebebeb" transform="rotate(-40.9 550.6 92.4)"/>
<ellipse cx="554.9" cy="91" rx="1.5" ry="1.2" fill="#ebebeb" transform="rotate(-15.9 554.9 91)"/>
<ellipse cx="559.7" cy="89.3" rx="1.9" ry="1.1" fill="#ebebeb" transform="rotate(-29.1 559.7 89.3)"/>
<ellipse cx="564.2" cy="87.7" rx="1.4" ry="0.9" fill="#ebebeb" transform="rotate(-31.6 564.2 87.7)"/>
<ellipse cx="569" cy="85.8" rx="1.8" ry="1.3" fill="#f8f8f8" transform="rotate(-39.3 569 85.8)"/>
<ellipse cx="573.6" cy="84.2" rx="1.4" ry="1" fill="#ebebeb" transform="rotate(-10.8 573.6 84.2)"/>
<ellipse cx="578.2" cy="82.8" rx="1.4" ry="1" fill="#f8f8f8" transform="rotate(-2.7 578.2 82.8)"/>
<ellipse cx="582.7" cy="81.4" rx="1.5" ry="1" fill="#dcdcdc" transform="rotate(-16.3 582.7 81.4)"/>
<ellipse cx="587.2" cy="79.9" rx="1.5" ry="1.3" fill="#ffffff" transform="rotate(-3.6 587.2 79.9)"/>
<ellipse cx="591.5" cy="78.3" rx="1.5" ry="1" fill="#ebebeb" transform="rotate(-16.2 591.5 78.3)"/>
<ellipse cx="596.5" cy="76.7" rx="1.6" ry="1" fill="#ffffff" transform="rotate(-14.7 596.5 76.7)"/>
<ellipse cx="601.1" cy="74.5" rx="1.8" ry="1.2" fill="#f4f4f4" transform="rotate(-19.6 601.1 74.5)"/>
<ellipse cx="605.6" cy="73.1" rx="1.4" ry="1.1" fill="#ffffff" transform="rotate(-25.1 605.6 73.1)"/>
<ellipse cx="610.2" cy="71.4" rx="1.6" ry="1.1" fill="#ffffff" transform="rotate(1.1 610.2 71.4)"/>
<ellipse cx="614.6" cy="69.5" rx="1.7" ry="1.3" fill="#f8f8f8" transform="rotate(-43.7 614.6 69.5)"/>
<ellipse cx="618.9" cy="68.5" rx="1.7" ry="1.3" fill="#f4f4f4" transform="rotate(-13.2 618.9 68.5)"/>
<ellipse cx="623.7" cy="66.9" rx="1.4" ry="0.9" fill="#ffffff" transform="rotate(-28.4 623.7 66.9)"/>
<ellipse cx="507.7" cy="113.1" rx="2.1" ry="1.4" fill="#dcdcdc" transform="rotate(-11.2 507.7 113.1)"/>
<ellipse cx="512.4" cy="110.8" rx="2.1" ry="1.7" fill="#f4f4f4" transform="rotate(-18.9 512.4 110.8)"/>
<ellipse cx="516.9" cy="109.5" rx="1.7" ry="1.1" fill="#ffffff" transform="rotate(-6.2 516.9 109.5)"/>
<ellipse cx="521.4" cy="107.8" rx="1.6" ry="1" fill="#ebebeb" transform="rotate(-0.1 521.4 107.8)"/>
<ellipse cx="526.1" cy="106.3" rx="1.5" ry="1.1" fill="#ebebeb" transform="rotate(-36.3 526.1 106.3)"/>
<ellipse cx="530.8" cy="104.6" rx="1.4" ry="0.8" fill="#dcdcdc" transform="rotate(-4.2 530.8 104.6)"/>
<ellipse cx="535.1" cy="102.5" rx="2" ry="1.5" fill="#ffffff" transform="rotate(-37.3 535.1 102.5)"/>
<ellipse cx="539.4" cy="101.1" rx="1.9" ry="1.3" fill="#f8f8f8" transform="rotate(-8.2 539.4 101.1)"/>
<ellipse cx="544.4" cy="99.3" rx="2" ry="1.3" fill="#f4f4f4" transform="rotate(-26.1 544.4 99.3)"/>
<ellipse cx="548.8" cy="97.9" rx="1.6" ry="1.1" fill="#dcdcdc" transform="rotate(-28.4 548.8 97.9)"/>
<ellipse cx="553.1" cy="95.9" rx="1.9" ry="1.4" fill="#ebebeb" transform="rotate(-27.2 553.1 95.9)"/>
<ellipse cx="558" cy="94.3" rx="1.4" ry="1" fill="#f8f8f8" transform="rotate(4.7 558 94.3)"/>
<ellipse cx="562.8" cy="92.9" rx="1.8" ry="1.3" fill="#ffffff" transform="rotate(-9.7 562.8 92.9)"/>
<ellipse cx="566.8" cy="91.2" rx="1.5" ry="1" fill="#ebebeb" transform="rotate(-16.4 566.8 91.2)"/>
<ellipse cx="571.7" cy="89.6" rx="1.8" ry="1.5" fill="#f8f8f8" transform="rotate(-21.7 571.7 89.6)"/>
<ellipse cx="576" cy="87.9" rx="2" ry="1.5" fill="#f8f8f8" transform="rotate(-19.8 576 87.9)"/>
<ellipse cx="580.9" cy="85.8" rx="1.6" ry="1.1" fill="#f8f8f8" transform="rotate(-17 580.9 85.8)"/>
<ellipse cx="585.4" cy="84.1" rx="1.7" ry="1.4" fill="#f4f4f4" transform="rotate(-4.1 585.4 84.1)"/>
<ellipse cx="589.9" cy="82.7" rx="1.6" ry="1.1" fill="#ebebeb" transform="rotate(-4.3 589.9 82.7)"/>
<ellipse cx="594" cy="81" rx="1.8" ry="1.3" fill="#f8f8f8" transform="rotate(-27.7 594 81)"/>
<ellipse cx="598.9" cy="79.3" rx="1.8" ry="1.1" fill="#f4f4f4" transform="rotate(-0.8 598.9 79.3)"/>
<ellipse cx="603.2" cy="77.6" rx="2" ry="1.7" fill="#f8f8f8" transform="rotate(-15.8 603.2 77.6)"/>
<ellipse cx="607.8" cy="76.4" rx="1.5" ry="1.2" fill="#ebebeb" transform="rotate(-42.6 607.8 76.4)"/>
<ellipse cx="612.7" cy="74.2" rx="1.9" ry="1.4" fill="#dcdcdc" transform="rotate(-17.9 612.7 74.2)"/>
<ellipse cx="617.3" cy="72.9" rx="1.8" ry="1.4" fill="#f4f4f4" transform="rotate(-11.4 617.3 72.9)"/>
<ellipse cx="621.4" cy="70.8" rx="1.7" ry="1.3" fill="#f4f4f4" transform="rotate(-5 621.4 70.8)"/>
<ellipse cx="626.4" cy="69.7" rx="1.4" ry="1.1" fill="#f4f4f4" transform="rotate(-6.6 626.4 69.7)"/>
<ellipse cx="506.3" cy="118.6" rx="1.9" ry="1.3" fill="#f4f4f4" transform="rotate(-11.1 506.3 118.6)"/>
<ellipse cx="511.1" cy="116.7" rx="1.7" ry="1.4" fill="#f8f8f8" transform="rotate(-37.7 511.1 116.7)"/>
<ellipse cx="516" cy="114.6" rx="1.4" ry="0.9" fill="#dcdcdc" transform="rotate(-24.1 516 114.6)"/>
<ellipse cx="520.2" cy="113" rx="1.9" ry="1.6" fill="#f8f8f8" transform="rotate(-41.4 520.2 113)"/>
<ellipse cx="524.4" cy="111.7" rx="1.5" ry="1" fill="#dcdcdc" transform="rotate(-39.1 524.4 111.7)"/>
<ellipse cx="529.5" cy="109.5" rx="1.7" ry="1.3" fill="#f4f4f4" transform="rotate(3.2 529.5 109.5)"/>
<ellipse cx="533.8" cy="108.2" rx="1.9" ry="1.5" fill="#dcdcdc" transform="rotate(-31.4 533.8 108.2)"/>
<ellipse cx="538" cy="106.7" rx="1.6" ry="1.1" fill="#ebebeb" transform="rotate(-21.1 538 106.7)"/>
<ellipse cx="542.6" cy="104.4" rx="1.6" ry="1.1" fill="#ffffff" transform="rotate(-22.6 542.6 104.4)"/>
<ellipse cx="547.4" cy="102.8" rx="1.6" ry="1.4" fill="#ffffff" transform="rotate(-37.4 547.4 102.8)"/>
<ellipse cx="552" cy="101.5" rx="1.8" ry="1.5" fill="#f8f8f8" transform="rotate(-25.5 552 101.5)"/>
<ellipse cx="556.5" cy="99.6" rx="1.9" ry="1.3" fill="#ebebeb" transform="rotate(-23.4 556.5 99.6)"/>
<ellipse cx="560.8" cy="97.8" rx="1.9" ry="1.2" fill="#ffffff" transform="rotate(-12.8 560.8 97.8)"/>
<ellipse cx="565.7" cy="95.8" rx="1.4" ry="1.1" fill="#ffffff" transform="rotate(-14 565.7 95.8)"/>
<ellipse cx="569.8" cy="94.4" rx="1.6" ry="1" fill="#dcdcdc" transform="rotate(-0.7 569.8 94.4)"/>
<ellipse cx="574.3" cy="92.5" rx="1.8" ry="1.3" fill="#ebebeb" transform="rotate(-29.7 574.3 92.5)"/>
<ellipse cx="578.8" cy="91" rx="1.6" ry="1.3" fill="#ffffff" transform="rotate(-43.4 578.8 91)"/>
<ellipse cx="583.8" cy="89.5" rx="1.7" ry="1.2" fill="#f4f4f4" transform="rotate(-0.7 583.8 89.5)"/>
<ellipse cx="588.1" cy="87.4" rx="1.5" ry="1.1" fill="#f4f4f4" transform="rotate(1.7 588.1 87.4)"/>
<ellipse cx="592.4" cy="85.8" rx="1.7" ry="1.4" fill="#f8f8f8" transform="rotate(-9.9 592.4 85.8)"/>
<ellipse cx="596.9" cy="83.9" rx="1.9" ry="1.2" fill="#f4f4f4" transform="rotate(-26.6 596.9 83.9)"/>
<ellipse cx="601.6" cy="82.5" rx="1.5" ry="0.9" fill="#f4f4f4" transform="rotate(-5.7 601.6 82.5)"/>
<ellipse cx="606.1" cy="80.5" rx="1.6" ry="1.2" fill="#dcdcdc" transform="rotate(-37.4 606.1 80.5)"/>
<ellipse cx="610.6" cy="79.3" rx="1.9" ry="1.4" fill="#ebebeb" transform="rotate(-20.8 610.6 79.3)"/>
<ellipse cx="615.4" cy="77.3" rx="1.5" ry="1" fill="#ebebeb" transform="rotate(-27.2 615.4 77.3)"/>
<ellipse cx="619.5" cy="75.5" rx="1.6" ry="1" fill="#ebebeb" transform="rotate(-42.3 619.5 75.5)"/>
<ellipse cx="624.2" cy="74.1" rx="1.8" ry="1.3" fill="#f4f4f4" transform="rotate(-12.7 624.2 74.1)"/>
<ellipse cx="510.1" cy="122.4" rx="1.5" ry="0.9" fill="#ebebeb" transform="rotate(-18.6 510.1 122.4)"/>
<ellipse cx="514.4" cy="120.5" rx="1.7" ry="1.2" fill="#f4f4f4" transform="rotate(-5 514.4 120.5)"/>
<ellipse cx="518.6" cy="118.4" rx="2.2" ry="1.3" fill="#f4f4f4" transform="rotate(-31 518.6 118.4)"/>
<ellipse cx="523.5" cy="116.7" rx="1.3" ry="1" fill="#f4f4f4" transform="rotate(-19.3 523.5 116.7)"/>
<ellipse cx="528" cy="115.4" rx="1.6" ry="1.1" fill="#f4f4f4" transform="rotate(-43 528 115.4)"/>
<ellipse cx="532.3" cy="113.4" rx="1.6" ry="1.1" fill="#ebebeb" transform="rotate(-21.4 532.3 113.4)"/>
<ellipse cx="536.5" cy="112" rx="1.6" ry="1.2" fill="#dcdcdc" transform="rotate(-35 536.5 112)"/>
<ellipse cx="541.1" cy="110.1" rx="1.5" ry="1.1" fill="#ebebeb" transform="rotate(-9.7 541.1 110.1)"/>
<ellipse cx="546.1" cy="107.9" rx="1.3" ry="0.9" fill="#f8f8f8" transform="rotate(-40.6 546.1 107.9)"/>
<ellipse cx="550.6" cy="106.6" rx="1.6" ry="1" fill="#f8f8f8" transform="rotate(-35 550.6 106.6)"/>
<ellipse cx="554.6" cy="104.6" rx="1.6" ry="1.2" fill="#ebebeb" transform="rotate(-5.2 554.6 104.6)"/>
<ellipse cx="559.2" cy="102.6" rx="2" ry="1.4" fill="#f4f4f4" transform="rotate(-15 559.2 102.6)"/>
<ellipse cx="563.8" cy="101.2" rx="1.9" ry="1.2" fill="#dcdcdc" transform="rotate(-5.7 563.8 101.2)"/>
<ellipse cx="568.6" cy="99.4" rx="1.4" ry="1.1" fill="#f8f8f8" transform="rotate(4.2 568.6 99.4)"/>
<ellipse cx="572.9" cy="97.6" rx="2" ry="1.3" fill="#dcdcdc" transform="rotate(-1.5 572.9 97.6)"/>
<ellipse cx="577.3" cy="96.2" rx="1.7" ry="1.3" fill="#f4f4f4" transform="rotate(-42.4 577.3 96.2)"/>
<ellipse cx="581.6" cy="94.2" rx="1.6" ry="1.2" fill="#ffffff" transform="rotate(2 581.6 94.2)"/>
<ellipse cx="586.5" cy="92.7" rx="1.7" ry="1.3" fill="#f4f4f4" transform="rotate(-30.1 586.5 92.7)"/>
<ellipse cx="591" cy="90.9" rx="1.4" ry="1.1" fill="#f8f8f8" transform="rotate(4.7 591 90.9)"/>
<ellipse cx="595.1" cy="89.1" rx="2" ry="1.5" fill="#ebebeb" transform="rotate(-41 595.1 89.1)"/>
<ellipse cx="599.8" cy="87.3" rx="1.6" ry="1.4" fill="#f8f8f8" transform="rotate(-23.8 599.8 87.3)"/>
<ellipse cx="604" cy="85.8" rx="2.1" ry="1.7" fill="#f8f8f8" transform="rotate(-11.7 604 85.8)"/>
<ellipse cx="608.7" cy="83.7" rx="1.5" ry="0.9" fill="#f4f4f4" transform="rotate(3.9 608.7 83.7)"/>
<ellipse cx="613.3" cy="81.9" rx="1.8" ry="1.1" fill="#f4f4f4" transform="rotate(-17.4 613.3 81.9)"/>
<ellipse cx="617.6" cy="80" rx="1.8" ry="1.4" fill="#f4f4f4" transform="rotate(-0.6 617.6 80)"/>
<ellipse cx="622.1" cy="78.7" rx="2" ry="1.4" fill="#f4f4f4" transform="rotate(-9.2 622.1 78.7)"/>
<ellipse cx="626.7" cy="76.7" rx="1.8" ry="1.5" fill="#ffffff" transform="rotate(-10 626.7 76.7)"/>
<ellipse cx="508.4" cy="127.7" rx="2.1" ry="1.4" fill="#ebebeb" transform="rotate(3.7 508.4 127.7)"/>
<ellipse cx="513.2" cy="125.8" rx="1.7" ry="1.1" fill="#f8f8f8" transform="rotate(-40.3 513.2 125.8)"/>
<ellipse cx="517.6" cy="124.4" rx="2.1" ry="1.7" fill="#f8f8f8" transform="rotate(-19.4 517.6 124.4)"/>
<ellipse cx="522.2" cy="122.5" rx="1.9" ry="1.2" fill="#dcdcdc" transform="rotate(-15.8 522.2 122.5)"/>
<ellipse cx="526.7" cy="120.4" rx="1.3" ry="0.9" fill="#ffffff" transform="rotate(-0.5 526.7 120.4)"/>
<ellipse cx="530.9" cy="118.7" rx="1.9" ry="1.4" fill="#f8f8f8" transform="rotate(-0.2 530.9 118.7)"/>
<ellipse cx="535.8" cy="116.8" rx="1.5" ry="1.2" fill="#ebebeb" transform="rotate(-36.6 535.8 116.8)"/>
<ellipse cx="539.6" cy="115.1" rx="2" ry="1.6" fill="#ffffff" transform="rotate(-16.3 539.6 115.1)"/>
<ellipse cx="544" cy="113.3" rx="1.8" ry="1.4" fill="#f8f8f8" transform="rotate(-36.2 544 113.3)"/>
<ellipse cx="548.9" cy="111.4" rx="1.8" ry="1.3" fill="#f8f8f8" transform="rotate(-13.9 548.9 111.4)"/>
<ellipse cx="553.4" cy="110.1" rx="1.9" ry="1.2" fill="#ebebeb" transform="rotate(-13.5 553.4 110.1)"/>
<ellipse cx="557.8" cy="108.2" rx="2" ry="1.3" fill="#ebebeb" transform="rotate(-7.3 557.8 108.2)"/>
<ellipse cx="562.4" cy="106.1" rx="1.8" ry="1.1" fill="#f8f8f8" transform="rotate(-5.2 562.4 106.1)"/>
<ellipse cx="567" cy="104.4" rx="1.4" ry="1" fill="#dcdcdc" transform="rotate(-20.7 567 104.4)"/>
<ellipse cx="570.9" cy="102.7" rx="2.1" ry="1.5" fill="#f4f4f4" transform="rotate(-41 570.9 102.7)"/>
<ellipse cx="575.7" cy="100.7" rx="1.6" ry="1.3" fill="#ebebeb" transform="rotate(-42.9 575.7 100.7)"/>
<ellipse cx="579.9" cy="99.5" rx="1.7" ry="1.2" fill="#dcdcdc" transform="rotate(-11.7 579.9 99.5)"/>
<ellipse cx="584.9" cy="97.2" rx="1.3" ry="0.9" fill="#ebebeb" transform="rotate(-32.8 584.9 97.2)"/>
<ellipse cx="588.9" cy="96" rx="2.1" ry="1.7" fill="#f4f4f4" transform="rotate(-15.8 588.9 96)"/>
<ellipse cx="593.8" cy="94" rx="1.4" ry="1.1" fill="#ffffff" transform="rotate(-19.3 593.8 94)"/>
<ellipse cx="598.1" cy="92.2" rx="1.5" ry="1.1" fill="#f4f4f4" transform="rotate(-26.2 598.1 92.2)"/>
<ellipse cx="602.4" cy="90.5" rx="1.9" ry="1.4" fill="#ffffff" transform="rotate(-13.8 602.4 90.5)"/>
<ellipse cx="607.1" cy="88.4" rx="1.4" ry="1" fill="#dcdcdc" transform="rotate(4.9 607.1 88.4)"/>
<ellipse cx="611.3" cy="86.7" rx="1.8" ry="1.5" fill="#f8f8f8" transform="rotate(-17.4 611.3 86.7)"/>
<ellipse cx="615.6" cy="84.8" rx="1.5" ry="1.2" fill="#f4f4f4" transform="rotate(-29 615.6 84.8)"/>
<ellipse cx="620.1" cy="82.9" rx="1.5" ry="1.1" fill="#f8f8f8" transform="rotate(-5.8 620.1 82.9)"/>
<ellipse cx="625" cy="81.4" rx="1.4" ry="0.9" fill="#dcdcdc" transform="rotate(-15.7 625 81.4)"/>
<ellipse cx="511.6" cy="131.6" rx="2.1" ry="1.5" fill="#ebebeb" transform="rotate(0.1 511.6 131.6)"/>
<ellipse cx="516.3" cy="129.8" rx="1.5" ry="1.1" fill="#ebebeb" transform="rotate(-27.7 516.3 129.8)"/>
<ellipse cx="520.7" cy="127.7" rx="1.8" ry="1.4" fill="#ffffff" transform="rotate(5 520.7 127.7)"/>
<ellipse cx="524.8" cy="125.8" rx="1.5" ry="1" fill="#dcdcdc" transform="rotate(-19.1 524.8 125.8)"/>
<ellipse cx="529.3" cy="124.3" rx="1.6" ry="1.2" fill="#f4f4f4" transform="rotate(-5.3 529.3 124.3)"/>
<ellipse cx="534" cy="122.4" rx="2" ry="1.6" fill="#dcdcdc" transform="rotate(3.7 534 122.4)"/>
<ellipse cx="538.8" cy="120.6" rx="1.3" ry="1" fill="#dcdcdc" transform="rotate(-22.8 538.8 120.6)"/>
<ellipse cx="542.8" cy="118.9" rx="2.1" ry="1.5" fill="#ebebeb" transform="rotate(-5.6 542.8 118.9)"/>
<ellipse cx="547.7" cy="116.6" rx="1.8" ry="1.4" fill="#f4f4f4" transform="rotate(-16.8 547.7 116.6)"/>
<ellipse cx="551.5" cy="115.4" rx="1.6" ry="1" fill="#ffffff" transform="rotate(-43.4 551.5 115.4)"/>
<ellipse cx="556.2" cy="113.4" rx="1.5" ry="1.1" fill="#ffffff" transform="rotate(-1.4 556.2 113.4)"/>
<ellipse cx="561" cy="111.6" rx="1.7" ry="1" fill="#f4f4f4" transform="rotate(-39.9 561 111.6)"/>
<ellipse cx="565" cy="109.5" rx="1.6" ry="1.4" fill="#f4f4f4" transform="rotate(-28.8 565 109.5)"/>
<ellipse cx="569.9" cy="107.7" rx="1.9" ry="1.6" fill="#ffffff" transform="rotate(-25.8 569.9 107.7)"/>
<ellipse cx="573.8" cy="105.8" rx="1.5" ry="1" fill="#f4f4f4" transform="rotate(-6.8 573.8 105.8)"/>
<ellipse cx="578.1" cy="104.3" rx="1.7" ry="1.2" fill="#dcdcdc" transform="rotate(-12.3 578.1 104.3)"/>
<ellipse cx="582.6" cy="102.6" rx="1.6" ry="1.1" fill="#dcdcdc" transform="rotate(1.6 582.6 102.6)"/>
<ellipse cx="587" cy="100.4" rx="1.7" ry="1.2" fill="#ebebeb" transform="rotate(0.7 587 100.4)"/>
<ellipse cx="591.9" cy="98.9" rx="1.5" ry="1" fill="#f4f4f4" transform="rotate(-32.5 591.9 98.9)"/>
<ellipse cx="596.1" cy="96.8" rx="1.5" ry="1.3" fill="#ffffff" transform="rotate(-40.8 596.1 96.8)"/>
<ellipse cx="600.6" cy="95.1" rx="1.9" ry="1.2" fill="#ffffff" transform="rotate(-2.8 600.6 95.1)"/>
<ellipse cx="605.4" cy="93.5" rx="1.9" ry="1.2" fill="#f4f4f4" transform="rotate(-10.8 605.4 93.5)"/>
<ellipse cx="609.8" cy="91.5" rx="1.5" ry="1" fill="#ffffff" transform="rotate(-37.1 609.8 91.5)"/>
<ellipse cx="613.7" cy="89.7" rx="2.2" ry="1.3" fill="#dcdcdc" transform="rotate(-6.1 613.7 89.7)"/>
<ellipse cx="618.3" cy="87.7" rx="1.6" ry="1.1" fill="#ffffff" transform="rotate(-27.7 618.3 87.7)"/>
<ellipse cx="623.1" cy="86" rx="1.8" ry="1.4" fill="#f8f8f8" transform="rotate(-10.9 623.1 86)"/>
<ellipse cx="627" cy="84.4" rx="2" ry="1.3" fill="#ebebeb" transform="rotate(-6.2 627 84.4)"/>
<ellipse cx="510.7" cy="137.2" rx="1.9" ry="1.5" fill="#dcdcdc" transform="rotate(-2.2 510.7 137.2)"/>
<ellipse cx="515.1" cy="135.1" rx="1.9" ry="1.3" fill="#f8f8f8" transform="rotate(4.5 515.1 135.1)"/>
<ellipse cx="519.2" cy="133.1" rx="1.7" ry="1.3" fill="#dcdcdc" transform="rotate(-31.5 519.2 133.1)"/>
<ellipse cx="523.6" cy="131.5" rx="1.9" ry="1.3" fill="#f8f8f8" transform="rotate(4.2 523.6 131.5)"/>
<ellipse cx="528.6" cy="129.9" rx="1.7" ry="1.3" fill="#dcdcdc" transform="rotate(-15.2 528.6 129.9)"/>
<ellipse cx="532.5" cy="128" rx="2.1" ry="1.5" fill="#f4f4f4" transform="rotate(-32.8 532.5 128)"/>
<ellipse cx="537" cy="126" rx="2" ry="1.2" fill="#f8f8f8" transform="rotate(-15.4 537 126)"/>
<ellipse cx="541.5" cy="123.8" rx="1.4" ry="1.1" fill="#ebebeb" transform="rotate(0.8 541.5 123.8)"/>
<ellipse cx="545.6" cy="122.3" rx="1.9" ry="1.3" fill="#ebebeb" transform="rotate(-2.6 545.6 122.3)"/>
<ellipse cx="550.2" cy="120.1" rx="1.4" ry="1.2" fill="#f8f8f8" transform="rotate(-13.9 550.2 120.1)"/>
<ellipse cx="554.6" cy="118.8" rx="1.6" ry="1.2" fill="#ffffff" transform="rotate(-15.6 554.6 118.8)"/>
<ellipse cx="559.4" cy="117" rx="1.3" ry="1" fill="#dcdcdc" transform="rotate(-15.9 559.4 117)"/>
<ellipse cx="563.4" cy="114.8" rx="1.6" ry="1.3" fill="#ffffff" transform="rotate(-10.3 563.4 114.8)"/>
<ellipse cx="567.9" cy="112.7" rx="2" ry="1.2" fill="#dcdcdc" transform="rotate(-17.1 567.9 112.7)"/>
<ellipse cx="572.2" cy="111.1" rx="2.1" ry="1.3" fill="#ffffff" transform="rotate(-16 572.2 111.1)"/>
<ellipse cx="576.5" cy="109.4" rx="1.8" ry="1.5" fill="#f4f4f4" transform="rotate(-4.4 576.5 109.4)"/>
<ellipse cx="581.2" cy="107.2" rx="1.6" ry="1.2" fill="#f8f8f8" transform="rotate(5.2 581.2 107.2)"/>
<ellipse cx="585.4" cy="105.5" rx="1.8" ry="1.1" fill="#f4f4f4" transform="rotate(-36.8 585.4 105.5)"/>
<ellipse cx="590.1" cy="103.9" rx="1.8" ry="1.1" fill="#ebebeb" transform="rotate(0.2 590.1 103.9)"/>
<ellipse cx="594.2" cy="102.1" rx="1.8" ry="1.5" fill="#f4f4f4" transform="rotate(-43.1 594.2 102.1)"/>
<ellipse cx="599" cy="99.6" rx="1.3" ry="1" fill="#ebebeb" transform="rotate(-6.6 599 99.6)"/>
<ellipse cx="603.3" cy="98" rx="1.7" ry="1.3" fill="#f8f8f8" transform="rotate(-43.5 603.3 98)"/>
<ellipse cx="607.9" cy="96.3" rx="1.8" ry="1.4" fill="#ffffff" transform="rotate(2.6 607.9 96.3)"/>
<ellipse cx="612" cy="94.1" rx="1.7" ry="1.3" fill="#f8f8f8" transform="rotate(-40.2 612 94.1)"/>
<ellipse cx="616.4" cy="92.8" rx="1.7" ry="1.4" fill="#ffffff" transform="rotate(-16.2 616.4 92.8)"/>
<ellipse cx="621.1" cy="90.4" rx="1.5" ry="1.1" fill="#ffffff" transform="rotate(-14.4 621.1 90.4)"/>
<ellipse cx="625.2" cy="88.9" rx="1.9" ry="1.6" fill="#ffffff" transform="rotate(-23.5 625.2 88.9)"/>
<ellipse cx="513.7" cy="140.8" rx="1.6" ry="1.2" fill="#f8f8f8" transform="rotate(-0.1 513.7 140.8)"/>
<ellipse cx="517.8" cy="139.1" rx="1.8" ry="1.2" fill="#ebebeb" transform="rotate(-17.5 517.8 139.1)"/>
<ellipse cx="522.7" cy="137" rx="1.4" ry="1.1" fill="#f4f4f4" transform="rotate(-31.1 522.7 137)"/>
<ellipse cx="527.2" cy="135" rx="1.3" ry="0.8" fill="#f4f4f4" transform="rotate(2.6 527.2 135)"/>
<ellipse cx="531.6" cy="133.2" rx="1.3" ry="1" fill="#ebebeb" transform="rotate(-2.3 531.6 133.2)"/>
<ellipse cx="535.4" cy="131.2" rx="1.8" ry="1.3" fill="#ffffff" transform="rotate(-40.2 535.4 131.2)"/>
<ellipse cx="539.9" cy="129.5" rx="1.7" ry="1.2" fill="#ebebeb" transform="rotate(-19.8 539.9 129.5)"/>
<ellipse cx="544.3" cy="127.6" rx="1.4" ry="0.9" fill="#f4f4f4" transform="rotate(-24.6 544.3 127.6)"/>
<ellipse cx="548.7" cy="125.3" rx="1.6" ry="1.1" fill="#ffffff" transform="rotate(-37.8 548.7 125.3)"/>
<ellipse cx="552.9" cy="123.7" rx="1.6" ry="1.1" fill="#ffffff" transform="rotate(-17.3 552.9 123.7)"/>
<ellipse cx="557.4" cy="121.9" rx="2.1" ry="1.6" fill="#ffffff" transform="rotate(-16.8 557.4 121.9)"/>
<ellipse cx="562.2" cy="120.2" rx="1.4" ry="1" fill="#ffffff" transform="rotate(-12.9 562.2 120.2)"/>
<ellipse cx="566.6" cy="118.1" rx="1.7" ry="1.3" fill="#f4f4f4" transform="rotate(-8.1 566.6 118.1)"/>
<ellipse cx="570.8" cy="116.5" rx="1.6" ry="1.2" fill="#dcdcdc" transform="rotate(-24.5 570.8 116.5)"/>
<ellipse cx="575" cy="114.6" rx="1.9" ry="1.5" fill="#dcdcdc" transform="rotate(-30.3 575 114.6)"/>
<ellipse cx="579.7" cy="112.4" rx="1.6" ry="1" fill="#ebebeb" transform="rotate(-3.5 579.7 112.4)"/>
<ellipse cx="583.8" cy="110.2" rx="1.6" ry="1.2" fill="#ffffff" transform="rotate(-2.1 583.8 110.2)"/>
<ellipse cx="588.2" cy="108.4" rx="1.8" ry="1.3" fill="#dcdcdc" transform="rotate(-36.1 588.2 108.4)"/>
<ellipse cx="592.5" cy="106.6" rx="1.6" ry="1" fill="#ebebeb" transform="rotate(-5.2 592.5 106.6)"/>
<ellipse cx="597.2" cy="104.7" rx="1.6" ry="1.2" fill="#ffffff" transform="rotate(-24.6 597.2 104.7)"/>
<ellipse cx="601.3" cy="102.9" rx="1.5" ry="1.3" fill="#ebebeb" transform="rotate(-36.1 601.3 102.9)"/>
<ellipse cx="605.5" cy="101" rx="1.7" ry="1.4" fill="#f4f4f4" transform="rotate(2.9 605.5 101)"/>
<ellipse cx="610.2" cy="98.9" rx="1.4" ry="1" fill="#ffffff" transform="rotate(-36.8 610.2 98.9)"/>
<ellipse cx="614.9" cy="97.6" rx="1.6" ry="1.3" fill="#ffffff" transform="rotate(-21.2 614.9 97.6)"/>
<ellipse cx="619.3" cy="95.4" rx="1.3" ry="1" fill="#ffffff" transform="rotate(-22.7 619.3 95.4)"/>
<ellipse cx="623.4" cy="93.5" rx="1.5" ry="0.9" fill="#ebebeb" transform="rotate(5.6 623.4 93.5)"/>
<ellipse cx="627.9" cy="91.3" rx="1.9" ry="1.6" fill="#f4f4f4" transform="rotate(0.8 627.9 91.3)"/>
<line x1="538" y1="121.5" x2="627" y2="84.5" stroke="#fff" stroke-width="1.5" stroke-dasharray="4 2" opacity="0.85"/>
<line x1="508" y1="117.5" x2="626" y2="73.5" stroke="#fff" stroke-width="1.1" stroke-dasharray="3 2.5" opacity="0.6"/>
<line x1="506" y1="131" x2="560" y2="110" stroke="#fff" stroke-width="1.1" stroke-dasharray="3 2.5" opacity="0.6"/>
<g opacity="0.8">
<ellipse cx="522" cy="118" rx="4.5" ry="4" fill="#b00cb4"/>
<circle cx="524.7" cy="118.3" r="1.4" fill="#b00cb4"/>
<circle cx="522.8" cy="116.6" r="2.2" fill="#98069c"/>
<circle cx="520.1" cy="119.4" r="1.7" fill="#bc0cbc"/>
<circle cx="521.2" cy="120.1" r="1.5" fill="#bc0cbc"/>
<circle cx="521.7" cy="118.4" r="1.5" fill="#c410c4"/>
<circle cx="521" cy="117.3" r="1.7" fill="#bc0cbc"/>
<circle cx="520.8" cy="117.6" r="1.9" fill="#b00cb4"/>
<circle cx="521.6" cy="115.6" r="2.1" fill="#d020d0"/>
<circle cx="522.1" cy="119.5" r="1.6" fill="#98069c"/>
<circle cx="521.2" cy="118.5" r="1.9" fill="#b00cb4"/>
</g>
<g opacity="0.8">
<ellipse cx="530" cy="115.5" rx="4.5" ry="4" fill="#b00cb4"/>
<circle cx="530.5" cy="116.8" r="2" fill="#d020d0"/>
<circle cx="533.9" cy="116.1" r="1.5" fill="#d020d0"/>
<circle cx="529.6" cy="118.9" r="1.6" fill="#d020d0"/>
<circle cx="529.4" cy="118.6" r="1.6" fill="#bc0cbc"/>
<circle cx="529.2" cy="114.2" r="2" fill="#d020d0"/>
<circle cx="528.6" cy="112.8" r="1.7" fill="#d020d0"/>
<circle cx="532" cy="117" r="1.6" fill="#c410c4"/>
<circle cx="533" cy="114.2" r="1.6" fill="#bc0cbc"/>
<circle cx="531.6" cy="114.3" r="2.2" fill="#c410c4"/>
<circle cx="532.8" cy="113.4" r="1.5" fill="#c410c4"/>
</g>
<g opacity="0.8">
<ellipse cx="541" cy="106.5" rx="4.5" ry="4" fill="#b00cb4"/>
<circle cx="544.3" cy="104.5" r="1.6" fill="#c410c4"/>
<circle cx="542.9" cy="104.9" r="1.6" fill="#98069c"/>
<circle cx="538.9" cy="106.7" r="2" fill="#d020d0"/>
<circle cx="538.4" cy="104.1" r="1.9" fill="#c410c4"/>
<circle cx="541.2" cy="106.3" r="1.5" fill="#d020d0"/>
<circle cx="543.4" cy="107.6" r="2.1" fill="#b00cb4"/>
<circle cx="540.5" cy="109" r="1.5" fill="#bc0cbc"/>
<circle cx="542.5" cy="104.8" r="1.4" fill="#b00cb4"/>
<circle cx="541" cy="105.9" r="1.6" fill="#bc0cbc"/>
<circle cx="538" cy="104.8" r="1.4" fill="#98069c"/>
</g>
<g opacity="0.8">
<ellipse cx="547.5" cy="103.5" rx="4.5" ry="4" fill="#b00cb4"/>
<circle cx="550.4" cy="104.2" r="2" fill="#c410c4"/>
<circle cx="546.9" cy="102" r="2.2" fill="#d020d0"/>
<circle cx="547.7" cy="101.9" r="1.6" fill="#c410c4"/>
<circle cx="544.7" cy="102" r="2" fill="#b00cb4"/>
<circle cx="547.5" cy="103" r="1.8" fill="#d020d0"/>
<circle cx="548.1" cy="102.6" r="1.9" fill="#b00cb4"/>
<circle cx="550.8" cy="102.1" r="2" fill="#98069c"/>
<circle cx="545.5" cy="100.6" r="1.9" fill="#c410c4"/>
<circle cx="546" cy="103.4" r="1.7" fill="#bc0cbc"/>
<circle cx="546.4" cy="102.1" r="1.5" fill="#c410c4"/>
</g>
<g opacity="0.8">
<ellipse cx="571" cy="97.5" rx="4.5" ry="4" fill="#b00cb4"/>
<circle cx="570.5" cy="97.6" r="1.4" fill="#b00cb4"/>
<circle cx="568" cy="96.7" r="2.1" fill="#98069c"/>
<circle cx="573.2" cy="95.3" r="2.2" fill="#b00cb4"/>
<circle cx="568.3" cy="99.1" r="2" fill="#c410c4"/>
<circle cx="570.9" cy="94.4" r="2.1" fill="#bc0cbc"/>
<circle cx="571.8" cy="100.3" r="2" fill="#bc0cbc"/>
<circle cx="568.4" cy="98" r="1.8" fill="#bc0cbc"/>
<circle cx="570.2" cy="95.7" r="1.5" fill="#d020d0"/>
<circle cx="573.2" cy="97.4" r="1.6" fill="#d020d0"/>
<circle cx="568.7" cy="94.7" r="1.7" fill="#d020d0"/>
</g>
<g opacity="0.8">
<ellipse cx="579" cy="95.5" rx="4.5" ry="4" fill="#b00cb4"/>
<circle cx="578.1" cy="96.1" r="2.2" fill="#b00cb4"/>
<circle cx="577.9" cy="94.4" r="1.6" fill="#c410c4"/>
<circle cx="580.2" cy="98.8" r="1.6" fill="#b00cb4"/>
<circle cx="576.9" cy="97.2" r="1.6" fill="#d020d0"/>
<circle cx="579.5" cy="93.3" r="2.2" fill="#b00cb4"/>
<circle cx="577.5" cy="97.6" r="2.1" fill="#d020d0"/>
<circle cx="580.9" cy="98" r="1.5" fill="#c410c4"/>
<circle cx="577.4" cy="97.1" r="1.5" fill="#c410c4"/>
<circle cx="576.8" cy="92.9" r="1.4" fill="#98069c"/>
<circle cx="578.7" cy="95" r="2.2" fill="#b00cb4"/>
</g>
<g opacity="0.8">
<ellipse cx="587" cy="88" rx="4.5" ry="4" fill="#b00cb4"/>
<circle cx="587.6" cy="90" r="2" fill="#d020d0"/>
<circle cx="586.6" cy="84.9" r="2.2" fill="#98069c"/>
<circle cx="587.5" cy="87.4" r="1.9" fill="#c410c4"/>
<circle cx="587.6" cy="91.2" r="1.6" fill="#b00cb4"/>
<circle cx="585.4" cy="85.9" r="2.1" fill="#bc0cbc"/>
<circle cx="589.3" cy="88.6" r="1.7" fill="#b00cb4"/>
<circle cx="584" cy="89.4" r="1.8" fill="#b00cb4"/>
<circle cx="583.7" cy="89.8" r="1.5" fill="#d020d0"/>
<circle cx="589.3" cy="88.3" r="1.6" fill="#bc0cbc"/>
<circle cx="583.9" cy="88.6" r="2.1" fill="#d020d0"/>
</g>
<g opacity="0.8">
<ellipse cx="594" cy="85" rx="4.5" ry="4" fill="#b00cb4"/>
<circle cx="596.7" cy="83.6" r="2.1" fill="#d020d0"/>
<circle cx="595.1" cy="85.6" r="1.6" fill="#bc0cbc"/>
<circle cx="595.8" cy="83.7" r="2.1" fill="#bc0cbc"/>
<circle cx="596.2" cy="82.3" r="1.3" fill="#c410c4"/>
<circle cx="592.6" cy="86.7" r="1.3" fill="#98069c"/>
<circle cx="597.3" cy="85.8" r="1.4" fill="#98069c"/>
<circle cx="592.4" cy="87.1" r="1.9" fill="#bc0cbc"/>
<circle cx="597.7" cy="84.9" r="2" fill="#b00cb4"/>
<circle cx="594.4" cy="81.7" r="1.8" fill="#c410c4"/>
<circle cx="595.2" cy="84.9" r="1.4" fill="#c410c4"/>
</g>
<g opacity="0.8">
<ellipse cx="516" cy="100.5" rx="5" ry="5.9" fill="#30a8b0"/>
<circle cx="517.6" cy="96" r="1.5" fill="#38c0c0"/>
<circle cx="516.5" cy="101.6" r="1.1" fill="#30a8b0"/>
<circle cx="517.2" cy="97" r="1.5" fill="#50d0d0"/>
<circle cx="517.4" cy="96.3" r="1.5" fill="#289aa0"/>
<circle cx="518.6" cy="104.5" r="1.4" fill="#38c0c0"/>
<circle cx="515.8" cy="97.6" r="1.2" fill="#289aa0"/>
<circle cx="518.8" cy="101.3" r="1.8" fill="#289aa0"/>
<circle cx="519" cy="100.8" r="1.4" fill="#50d0d0"/>
<circle cx="514.9" cy="103.9" r="1.1" fill="#289aa0"/>
<circle cx="515.2" cy="105.3" r="1.2" fill="#289aa0"/>
<circle cx="515" cy="96.7" r="1.7" fill="#38c0c0"/>
<circle cx="518.5" cy="101.3" r="1.4" fill="#38c0c0"/>
<circle cx="515.3" cy="105.3" r="1.2" fill="#38c0c0"/>
<circle cx="519.2" cy="99.7" r="1.8" fill="#38c0c0"/>
<circle cx="514.8" cy="103.8" r="1.1" fill="#30a8b0"/>
<circle cx="512.8" cy="96.9" r="1.1" fill="#38c0c0"/>
<circle cx="517.7" cy="101.5" r="1.1" fill="#50d0d0"/>
<circle cx="517.2" cy="103.8" r="1.9" fill="#50d0d0"/>
<circle cx="518.8" cy="102.2" r="1.7" fill="#38c0c0"/>
<circle cx="515.6" cy="98.3" r="1.3" fill="#38c0c0"/>
</g>
<polyline points="517.9,84.2 514.3,85.6 517.9,87.1 514.1,88.4 517.6,90.2 514.5,91.5 517.7,92.9 514.4,94.4 517.5,95.8" fill="none" stroke="#c43c30" stroke-width="1.7" stroke-linejoin="round" stroke-linecap="round"/>
<polyline points="517.3,85 514.7,87.1 517.5,89 514.7,91 517.2,93 514.4,95.2" fill="none" stroke="#909090" stroke-width="0.9" stroke-linejoin="round" stroke-linecap="round"/>
<g opacity="0.8">
<ellipse cx="533" cy="94.5" rx="5" ry="5.9" fill="#30a8b0"/>
<circle cx="530.3" cy="97.6" r="1.3" fill="#289aa0"/>
<circle cx="531.5" cy="91.2" r="1.3" fill="#289aa0"/>
<circle cx="535.5" cy="98.1" r="1.7" fill="#50d0d0"/>
<circle cx="535.4" cy="93.8" r="1.7" fill="#30a8b0"/>
<circle cx="530.3" cy="91.5" r="1.5" fill="#50d0d0"/>
<circle cx="534.3" cy="95.6" r="1.1" fill="#30a8b0"/>
<circle cx="530.4" cy="90.7" r="1.6" fill="#38c0c0"/>
<circle cx="530.5" cy="90.8" r="1.8" fill="#289aa0"/>
<circle cx="532.7" cy="94.2" r="1.3" fill="#38c0c0"/>
<circle cx="533.5" cy="97.1" r="1.6" fill="#289aa0"/>
<circle cx="536.2" cy="97" r="1.4" fill="#30a8b0"/>
<circle cx="531.7" cy="94.7" r="1.5" fill="#38c0c0"/>
<circle cx="533.5" cy="90.1" r="1.2" fill="#38c0c0"/>
<circle cx="530.3" cy="96.5" r="1.9" fill="#50d0d0"/>
<circle cx="533.3" cy="99.7" r="1.4" fill="#50d0d0"/>
<circle cx="534" cy="95.9" r="1.6" fill="#50d0d0"/>
<circle cx="533.2" cy="93.3" r="1.4" fill="#289aa0"/>
<circle cx="530.3" cy="92.9" r="1.7" fill="#38c0c0"/>
<circle cx="528.9" cy="94.1" r="1.4" fill="#289aa0"/>
<circle cx="532.4" cy="98.5" r="1.3" fill="#50d0d0"/>
</g>
<polyline points="534.6,78.1 531.2,79.5 534.5,80.9 531.1,82.4 534.7,84.2 531.1,85.7 534.6,87.1 531.2,88.5 534.5,90.2" fill="none" stroke="#c43c30" stroke-width="1.7" stroke-linejoin="round" stroke-linecap="round"/>
<polyline points="534.4,78.8 531.5,81 534.2,83 531.8,85 534.5,87.2 531.4,88.8" fill="none" stroke="#909090" stroke-width="0.9" stroke-linejoin="round" stroke-linecap="round"/>
<g opacity="0.8">
<ellipse cx="554.5" cy="87" rx="5" ry="5.9" fill="#30a8b0"/>
<circle cx="555.1" cy="89" r="1.5" fill="#38c0c0"/>
<circle cx="556.1" cy="89.8" r="1.5" fill="#50d0d0"/>
<circle cx="554" cy="86.6" r="1.2" fill="#38c0c0"/>
<circle cx="556.7" cy="84.7" r="1.2" fill="#38c0c0"/>
<circle cx="557.5" cy="89.1" r="1.7" fill="#289aa0"/>
<circle cx="551" cy="84.1" r="1.2" fill="#38c0c0"/>
<circle cx="554.6" cy="82.6" r="1.1" fill="#30a8b0"/>
<circle cx="553.8" cy="91.7" r="1.2" fill="#30a8b0"/>
<circle cx="555.6" cy="82" r="1.7" fill="#38c0c0"/>
<circle cx="554.5" cy="91.8" r="1.3" fill="#50d0d0"/>
<circle cx="554.2" cy="89.5" r="1.2" fill="#50d0d0"/>
<circle cx="552.5" cy="87.3" r="1.2" fill="#50d0d0"/>
<circle cx="552.8" cy="82.8" r="1.9" fill="#289aa0"/>
<circle cx="551.6" cy="89.2" r="1.9" fill="#289aa0"/>
<circle cx="557.9" cy="88.3" r="1.8" fill="#30a8b0"/>
<circle cx="553.7" cy="91.9" r="1.7" fill="#38c0c0"/>
<circle cx="557.1" cy="85.4" r="1.2" fill="#30a8b0"/>
<circle cx="555.6" cy="84.4" r="1.2" fill="#289aa0"/>
<circle cx="551.2" cy="83.9" r="1.8" fill="#38c0c0"/>
<circle cx="551.6" cy="85.5" r="1.3" fill="#30a8b0"/>
</g>
<polyline points="556,70.3 552.8,72.2 556,73.5 552.8,75.1 556.2,76.3 552.6,77.8 556.2,79.3 552.9,80.8 556.1,82.5" fill="none" stroke="#c43c30" stroke-width="1.7" stroke-linejoin="round" stroke-linecap="round"/>
<polyline points="556,71.3 553.2,73.4 555.7,75.3 553.1,77.6 556,79.6 552.9,81.6" fill="none" stroke="#909090" stroke-width="0.9" stroke-linejoin="round" stroke-linecap="round"/>
<g opacity="0.8">
<ellipse cx="578" cy="79.5" rx="5" ry="5.9" fill="#30a8b0"/>
<circle cx="578.2" cy="77.4" r="1.6" fill="#289aa0"/>
<circle cx="576.3" cy="82" r="1.8" fill="#30a8b0"/>
<circle cx="580.4" cy="78.4" r="1.6" fill="#38c0c0"/>
<circle cx="575.2" cy="79.4" r="1.1" fill="#38c0c0"/>
<circle cx="578.2" cy="75.5" r="1.2" fill="#50d0d0"/>
<circle cx="581.1" cy="76.3" r="1.2" fill="#38c0c0"/>
<circle cx="577.3" cy="79.5" r="1.3" fill="#30a8b0"/>
<circle cx="577.4" cy="83.7" r="1.6" fill="#289aa0"/>
<circle cx="579.5" cy="79.4" r="1.7" fill="#30a8b0"/>
<circle cx="580.4" cy="81.8" r="1.6" fill="#289aa0"/>
<circle cx="575.1" cy="78.1" r="1.8" fill="#50d0d0"/>
<circle cx="577.9" cy="75.2" r="1.3" fill="#38c0c0"/>
<circle cx="576.1" cy="82.5" r="1.4" fill="#289aa0"/>
<circle cx="579.1" cy="78.2" r="1.4" fill="#30a8b0"/>
<circle cx="574.8" cy="79.1" r="1.5" fill="#38c0c0"/>
<circle cx="576.4" cy="74.6" r="1.2" fill="#289aa0"/>
<circle cx="576.1" cy="84.1" r="1.3" fill="#50d0d0"/>
<circle cx="575.7" cy="83.9" r="1.7" fill="#30a8b0"/>
<circle cx="578.9" cy="77.5" r="1.3" fill="#38c0c0"/>
<circle cx="580.4" cy="79.9" r="1.2" fill="#38c0c0"/>
</g>
<polyline points="579.8,61.3 576.3,63.1 579.6,64.4 576.5,66.2 579.5,67.6 576.4,69 579.9,70.5 576.2,71.8 579.8,73.3" fill="none" stroke="#c43c30" stroke-width="1.7" stroke-linejoin="round" stroke-linecap="round"/>
<polyline points="579.3,62.4 576.5,64.4 579.5,66.4 576.5,68.4 579.6,70.5 576.5,72.5" fill="none" stroke="#909090" stroke-width="0.9" stroke-linejoin="round" stroke-linecap="round"/>
<g opacity="0.8">
<ellipse cx="597" cy="71.5" rx="5" ry="5.9" fill="#30a8b0"/>
<circle cx="598.4" cy="72.7" r="1.4" fill="#38c0c0"/>
<circle cx="594.8" cy="70.9" r="1.3" fill="#289aa0"/>
<circle cx="594.8" cy="69.5" r="1.5" fill="#30a8b0"/>
<circle cx="593" cy="71.3" r="1.8" fill="#50d0d0"/>
<circle cx="596.6" cy="75.6" r="1.7" fill="#38c0c0"/>
<circle cx="597" cy="70.7" r="1.2" fill="#289aa0"/>
<circle cx="597.9" cy="68.4" r="1.6" fill="#30a8b0"/>
<circle cx="595.5" cy="72.1" r="1.1" fill="#50d0d0"/>
<circle cx="601.2" cy="71.5" r="1.5" fill="#289aa0"/>
<circle cx="600.2" cy="71.1" r="1.4" fill="#50d0d0"/>
<circle cx="601.2" cy="72.4" r="1.7" fill="#50d0d0"/>
<circle cx="599.8" cy="71.5" r="1.3" fill="#30a8b0"/>
<circle cx="595.7" cy="70.9" r="1.3" fill="#289aa0"/>
<circle cx="594.5" cy="72.5" r="1.7" fill="#50d0d0"/>
<circle cx="596.4" cy="76.2" r="1.3" fill="#50d0d0"/>
<circle cx="599.1" cy="76.1" r="1.4" fill="#289aa0"/>
<circle cx="598.1" cy="74.3" r="1.5" fill="#50d0d0"/>
<circle cx="598.7" cy="69.8" r="1.7" fill="#30a8b0"/>
<circle cx="600.2" cy="71.2" r="1.4" fill="#30a8b0"/>
<circle cx="595.4" cy="69.8" r="1.7" fill="#289aa0"/>
</g>
<polyline points="598.5,54.8 595.3,56.7 598.7,57.9 595.2,59.5 598.9,61 595.5,62.5 598.8,64.2 595.4,65.4 598.8,67.1" fill="none" stroke="#c43c30" stroke-width="1.7" stroke-linejoin="round" stroke-linecap="round"/>
<polyline points="598.3,56 595.4,58.2 598.5,60.2 595.5,61.9 598.2,63.9 595.4,66.1" fill="none" stroke="#909090" stroke-width="0.9" stroke-linejoin="round" stroke-linecap="round"/>
<g opacity="0.8">
<ellipse cx="614" cy="65.5" rx="5" ry="5.9" fill="#30a8b0"/>
<circle cx="613.9" cy="69.6" r="1.3" fill="#38c0c0"/>
<circle cx="613.3" cy="65.1" r="1.2" fill="#30a8b0"/>
<circle cx="611.6" cy="67.6" r="1.4" fill="#50d0d0"/>
<circle cx="611.4" cy="68.8" r="1.5" fill="#289aa0"/>
<circle cx="613.8" cy="63.1" r="1.2" fill="#30a8b0"/>
<circle cx="611.7" cy="68.3" r="1.3" fill="#289aa0"/>
<circle cx="617.1" cy="68.2" r="1.4" fill="#289aa0"/>
<circle cx="614.9" cy="63.9" r="1.5" fill="#30a8b0"/>
<circle cx="614.7" cy="68" r="1.2" fill="#289aa0"/>
<circle cx="614.4" cy="63.9" r="1.4" fill="#289aa0"/>
<circle cx="612.6" cy="64.8" r="1.6" fill="#289aa0"/>
<circle cx="615.8" cy="62.7" r="1.1" fill="#50d0d0"/>
<circle cx="612.5" cy="66.2" r="1.6" fill="#30a8b0"/>
<circle cx="609.5" cy="65" r="1.4" fill="#50d0d0"/>
<circle cx="614.7" cy="68.8" r="1.9" fill="#289aa0"/>
<circle cx="610.8" cy="62.2" r="1.6" fill="#30a8b0"/>
<circle cx="615.2" cy="70.3" r="1.4" fill="#30a8b0"/>
<circle cx="617" cy="65.5" r="1.6" fill="#30a8b0"/>
<circle cx="615.9" cy="62.5" r="1.6" fill="#30a8b0"/>
<circle cx="610.5" cy="64.5" r="1.3" fill="#38c0c0"/>
</g>
<polyline points="615.6,49.1 612.1,50.5 615.7,51.8 612.1,53.7 615.7,54.8 612.5,56.3 615.7,57.9 612.4,59.5 615.6,60.9" fill="none" stroke="#c43c30" stroke-width="1.7" stroke-linejoin="round" stroke-linecap="round"/>
<polyline points="615.4,49.9 612.7,52 615.4,54 612.5,56.1 615.6,57.8 612.6,59.9" fill="none" stroke="#909090" stroke-width="0.9" stroke-linejoin="round" stroke-linecap="round"/>
<g>
<ellipse cx="521" cy="108" rx="2.3" ry="3.1" fill="#30a8b0"/>
<circle cx="522.7" cy="106.6" r="1.4" fill="#50d0d0"/>
<circle cx="520.3" cy="109.5" r="1.3" fill="#30a8b0"/>
<circle cx="519.2" cy="109" r="1.3" fill="#30a8b0"/>
<circle cx="519.8" cy="110" r="1.5" fill="#30a8b0"/>
<circle cx="522.4" cy="107.3" r="1.2" fill="#30a8b0"/>
</g>
<g>
<ellipse cx="539" cy="101" rx="2.3" ry="3.1" fill="#30a8b0"/>
<circle cx="539.9" cy="99.1" r="1.2" fill="#50d0d0"/>
<circle cx="539" cy="103.2" r="1.6" fill="#30a8b0"/>
<circle cx="538" cy="103.2" r="1.6" fill="#30a8b0"/>
<circle cx="539.7" cy="103.1" r="1.5" fill="#50d0d0"/>
<circle cx="537" cy="101.2" r="1.3" fill="#30a8b0"/>
</g>
<g>
<ellipse cx="560" cy="93" rx="2.3" ry="3.1" fill="#30a8b0"/>
<circle cx="559.7" cy="94.5" r="1.3" fill="#50d0d0"/>
<circle cx="561.8" cy="92.3" r="1" fill="#50d0d0"/>
<circle cx="560.8" cy="93.8" r="1.3" fill="#38c0c0"/>
<circle cx="559.4" cy="91.8" r="1.5" fill="#38c0c0"/>
<circle cx="560.6" cy="94" r="1.4" fill="#289aa0"/>
</g>
<g>
<ellipse cx="584" cy="85" rx="2.3" ry="3.1" fill="#30a8b0"/>
<circle cx="584.4" cy="87.6" r="1.1" fill="#30a8b0"/>
<circle cx="582.4" cy="84.8" r="1.6" fill="#30a8b0"/>
<circle cx="585" cy="84.6" r="1.6" fill="#30a8b0"/>
<circle cx="584.1" cy="83.7" r="1.4" fill="#50d0d0"/>
<circle cx="584.8" cy="84.7" r="1.2" fill="#38c0c0"/>
</g>
<g>
<ellipse cx="602" cy="77" rx="2.3" ry="3.1" fill="#30a8b0"/>
<circle cx="603.9" cy="78.1" r="1.2" fill="#30a8b0"/>
<circle cx="601.4" cy="75.7" r="1.4" fill="#38c0c0"/>
<circle cx="600.5" cy="75.9" r="1.4" fill="#289aa0"/>
<circle cx="603.3" cy="77.8" r="1.1" fill="#30a8b0"/>
<circle cx="601.8" cy="74.9" r="1.4" fill="#30a8b0"/>
</g>
<g>
<circle cx="493.6" cy="116.7" r="1.7" fill="#30b428"/>
<circle cx="492.3" cy="117" r="1.2" fill="#30b428"/>
<circle cx="494.4" cy="112" r="1.1" fill="#70f060"/>
<circle cx="502.5" cy="118.6" r="1.7" fill="#50e048"/>
<circle cx="495.1" cy="113.6" r="1.4" fill="#38cc30"/>
<circle cx="494" cy="112" r="1.1" fill="#50e048"/>
<circle cx="500.4" cy="118" r="1" fill="#30b428"/>
<circle cx="496.3" cy="119.2" r="1.2" fill="#38cc30"/>
<circle cx="495.6" cy="112.5" r="1.5" fill="#30b428"/>
<circle cx="496.3" cy="112.6" r="1.4" fill="#50e048"/>
<circle cx="497.9" cy="112.6" r="1.2" fill="#70f060"/>
<circle cx="504.6" cy="116.3" r="1.1" fill="#50e048"/>
<circle cx="501.7" cy="112.7" r="1.8" fill="#50e048"/>
<circle cx="500.7" cy="120.6" r="1" fill="#30b428"/>
<circle cx="503.8" cy="115.1" r="1.1" fill="#38cc30"/>
<circle cx="499.7" cy="112.7" r="1.1" fill="#70f060"/>
<circle cx="503.8" cy="115.8" r="1.7" fill="#38cc30"/>
<circle cx="499.1" cy="117.2" r="1" fill="#30b428"/>
<circle cx="501.5" cy="119.2" r="1.4" fill="#38cc30"/>
<circle cx="505.6" cy="115.1" r="1.3" fill="#30b428"/>
<circle cx="502.7" cy="117.9" r="1.2" fill="#70f060"/>
<circle cx="503.9" cy="111.5" r="1.5" fill="#50e048"/>
<circle cx="500.2" cy="118.8" r="1.7" fill="#50e048"/>
<circle cx="501.8" cy="116" r="1.4" fill="#50e048"/>
<circle cx="499.6" cy="112.4" r="1.2" fill="#50e048"/>
<circle cx="502.1" cy="116.6" r="1.5" fill="#50e048"/>
<circle cx="495.3" cy="113.5" r="1.4" fill="#30b428"/>
<circle cx="500.4" cy="113.8" r="1.3" fill="#38cc30"/>
<circle cx="497.6" cy="117.9" r="1.5" fill="#38cc30"/>
<circle cx="502.3" cy="119.1" r="1.4" fill="#30b428"/>
<circle cx="503.4" cy="112.6" r="1.3" fill="#50e048"/>
<circle cx="503.2" cy="118" r="1.2" fill="#30b428"/>
<circle cx="498.7" cy="120.4" r="1.5" fill="#70f060"/>
<circle cx="491.7" cy="114.8" r="1.8" fill="#38cc30"/>
<circle cx="499.8" cy="119.5" r="1.7" fill="#50e048"/>
<circle cx="497.6" cy="120.6" r="1.2" fill="#50e048"/>
<circle cx="503.4" cy="117" r="1.2" fill="#50e048"/>
<circle cx="501.1" cy="118.5" r="1.5" fill="#38cc30"/>
<circle cx="501.4" cy="116.6" r="1.4" fill="#70f060"/>
<circle cx="495.5" cy="111.7" r="1.5" fill="#38cc30"/>
<circle cx="492.8" cy="112.7" r="1.4" fill="#70f060"/>
<circle cx="496.7" cy="110.4" r="1" fill="#50e048"/>
<circle cx="492.5" cy="116" r="1.3" fill="#50e048"/>
<circle cx="504" cy="117.3" r="1.6" fill="#38cc30"/>
<circle cx="501" cy="110.5" r="1.3" fill="#30b428"/>
<circle cx="504.8" cy="112.5" r="1.3" fill="#50e048"/>
<circle cx="502.8" cy="112.4" r="1.5" fill="#30b428"/>
<circle cx="498.4" cy="115.9" r="1.1" fill="#50e048"/>
<circle cx="494.1" cy="111.3" r="1.7" fill="#70f060"/>
<circle cx="494" cy="118.5" r="1.5" fill="#30b428"/>
<circle cx="493.6" cy="116.4" r="1.4" fill="#50e048"/>
<circle cx="498.2" cy="117" r="1" fill="#50e048"/>
<circle cx="493" cy="115.6" r="1.7" fill="#70f060"/>
<circle cx="502.7" cy="113.5" r="1.1" fill="#38cc30"/>
<circle cx="492.4" cy="115" r="1.3" fill="#30b428"/>
<circle cx="495.3" cy="115.5" r="1.3" fill="#70f060"/>
<circle cx="500.6" cy="118.9" r="1.6" fill="#38cc30"/>
<circle cx="502.4" cy="113.2" r="1.5" fill="#70f060"/>
<circle cx="499.7" cy="117.4" r="1.3" fill="#50e048"/>
<circle cx="497.2" cy="110.4" r="1.2" fill="#38cc30"/>
<circle cx="503" cy="117.9" r="1.7" fill="#30b428"/>
<circle cx="494.9" cy="118.1" r="1.5" fill="#30b428"/>
</g>
<g>
<circle cx="622.2" cy="68.9" r="1.5" fill="#38cc30"/>
<circle cx="619.4" cy="62.7" r="1.7" fill="#38cc30"/>
<circle cx="625.8" cy="67.7" r="1.2" fill="#70f060"/>
<circle cx="624.8" cy="65.8" r="1.5" fill="#50e048"/>
<circle cx="628.5" cy="65.3" r="1.1" fill="#70f060"/>
<circle cx="625.1" cy="62.3" r="1.8" fill="#70f060"/>
<circle cx="620.5" cy="67.1" r="1.7" fill="#30b428"/>
<circle cx="619.5" cy="62.1" r="1.5" fill="#50e048"/>
<circle cx="619.6" cy="68.1" r="1.5" fill="#70f060"/>
<circle cx="620.7" cy="62.6" r="1.6" fill="#38cc30"/>
<circle cx="617.3" cy="66.8" r="1.4" fill="#70f060"/>
<circle cx="623.9" cy="68.4" r="1.2" fill="#30b428"/>
<circle cx="622.2" cy="67.7" r="1.7" fill="#30b428"/>
<circle cx="617.8" cy="64.5" r="1.7" fill="#70f060"/>
<circle cx="625.4" cy="67.5" r="1.5" fill="#30b428"/>
<circle cx="618.2" cy="67.8" r="1.7" fill="#50e048"/>
<circle cx="623.2" cy="68.4" r="1.6" fill="#30b428"/>
<circle cx="620.8" cy="64.2" r="1.3" fill="#70f060"/>
<circle cx="626.9" cy="63.1" r="1.2" fill="#70f060"/>
<circle cx="617.2" cy="65.1" r="1.7" fill="#38cc30"/>
<circle cx="622" cy="63.6" r="1.5" fill="#50e048"/>
<circle cx="619" cy="68.2" r="1.3" fill="#70f060"/>
<circle cx="624.5" cy="69" r="1.4" fill="#38cc30"/>
<circle cx="624.6" cy="67.9" r="1.5" fill="#50e048"/>
<circle cx="628.4" cy="64.8" r="1.5" fill="#50e048"/>
<circle cx="625.1" cy="67.2" r="1.3" fill="#70f060"/>
<circle cx="617.5" cy="64.1" r="1.8" fill="#70f060"/>
<circle cx="623.2" cy="64.9" r="1.3" fill="#38cc30"/>
<circle cx="616" cy="65.6" r="1.4" fill="#30b428"/>
<circle cx="623" cy="67.4" r="1.6" fill="#30b428"/>
<circle cx="616.2" cy="65.5" r="1.6" fill="#70f060"/>
<circle cx="617.2" cy="67.2" r="1.2" fill="#30b428"/>
<circle cx="619.2" cy="64.2" r="1.2" fill="#70f060"/>
<circle cx="617.8" cy="67" r="1.3" fill="#70f060"/>
<circle cx="621" cy="66.2" r="1.6" fill="#50e048"/>
<circle cx="620.4" cy="63.6" r="1.4" fill="#30b428"/>
<circle cx="620.7" cy="67.4" r="1.3" fill="#38cc30"/>
<circle cx="623.4" cy="66.3" r="1.3" fill="#38cc30"/>
<circle cx="623.2" cy="67.7" r="1.3" fill="#50e048"/>
<circle cx="621.3" cy="66.6" r="1.4" fill="#30b428"/>
<circle cx="627.1" cy="66.3" r="1.1" fill="#50e048"/>
<circle cx="619.8" cy="69" r="1.4" fill="#38cc30"/>
<circle cx="627.6" cy="63.2" r="1.7" fill="#38cc30"/>
<circle cx="627.9" cy="67.6" r="1.1" fill="#70f060"/>
<circle cx="623.5" cy="63.7" r="1.6" fill="#38cc30"/>
<circle cx="616.3" cy="65" r="1.4" fill="#30b428"/>
</g>
<polyline points="476.3,54.5 475,58.5 477,60.5 473.5,62 474,66 471.5,67.5 472,70.5" fill="none" stroke="#48c0c8" stroke-width="1.6" stroke-linejoin="round" stroke-linecap="round"/>
<polyline points="495.5,63.5 493,62 490.5,64.5 487.5,63.5 485.5,66.5 482.5,65.5 480,68.5 477,68 474.5,70.5 472,70.5" fill="none" stroke="#48c0c8" stroke-width="1.6" stroke-linejoin="round" stroke-linecap="round"/>
<polyline points="472,70.5 469,71 469.5,74 466.5,74.5 466,77.5 463.5,77.5" fill="none" stroke="#48c0c8" stroke-width="1.6" stroke-linejoin="round" stroke-linecap="round"/>
<polyline points="468,73 466,76 464,76.5 462.5,79" fill="none" stroke="#a03838" stroke-width="1.2" stroke-linejoin="round"/>
<ellipse cx="461" cy="80.6" rx="2.3" ry="1.6" fill="none" stroke="#505860" stroke-width="1.1"/>
<circle cx="476.3" cy="54.5" r="0.8" fill="#2a6a78"/>
<circle cx="474" cy="66" r="0.8" fill="#2a6a78"/>
<circle cx="487.5" cy="63.5" r="0.8" fill="#2a6a78"/>
<circle cx="480" cy="68.5" r="0.8" fill="#2a6a78"/>
<circle cx="469.5" cy="74" r="0.8" fill="#2a6a78"/>
<path d="M487.5 75.6 L486.9 81.2 L483.1 84.4 L478.8 86.9 L478.5 91.2 L480 95.6 L483.8 98.1 L490 97.2 L491.2 93.8 L490.2 88.8 L493.1 86.2 L496.2 85.2 L499.4 82.5 L501.2 80 L504 79" fill="none" stroke="#48cc2c" stroke-width="2.3" stroke-linecap="round" stroke-linejoin="round"/>
<path d="M487.5 75.6 L486.9 81.2 L483.1 84.4 L478.8 86.9 L478.5 91.2 L480 95.6 L483.8 98.1 L490 97.2 L491.2 93.8 L490.2 88.8 L493.1 86.2 L496.2 85.2 L499.4 82.5 L501.2 80 L504 79" fill="none" stroke="#80ec58" stroke-width="1.265" stroke-linecap="round" stroke-dasharray="1.5 2.5"/>
<path d="M487.5 75.6 L486.9 81.2 L483.1 84.4 L478.8 86.9 L478.5 91.2 L480 95.6 L483.8 98.1 L490 97.2 L491.2 93.8 L490.2 88.8 L493.1 86.2 L496.2 85.2 L499.4 82.5 L501.2 80 L504 79" fill="none" stroke="#2c9c18" stroke-width="1.6099999999999999" stroke-linecap="round" stroke-dasharray="1 4.3" stroke-dashoffset="2"/>
<circle cx="488.2" cy="79.7" r="1" fill="#38b828"/>
<circle cx="487.5" cy="79.2" r="1.3" fill="#50d040"/>
<circle cx="486.2" cy="78.7" r="1.2" fill="#70e050"/>
<circle cx="484.7" cy="82.3" r="0.9" fill="#50d040"/>
<circle cx="486.7" cy="83.5" r="1.2" fill="#38b828"/>
<circle cx="484" cy="81.7" r="1.1" fill="#38b828"/>
<circle cx="480.5" cy="85.7" r="1.3" fill="#2ea020"/>
<circle cx="480.3" cy="87.5" r="1.4" fill="#70e050"/>
<circle cx="482.5" cy="85.2" r="1.6" fill="#2ea020"/>
<circle cx="478.5" cy="90.1" r="1.2" fill="#2ea020"/>
<circle cx="479.6" cy="88.6" r="1.5" fill="#2ea020"/>
<circle cx="479.3" cy="88.6" r="1.2" fill="#38b828"/>
<circle cx="480.8" cy="96.3" r="1.5" fill="#70e050"/>
<circle cx="479.6" cy="94.1" r="1.5" fill="#2ea020"/>
<circle cx="478.1" cy="92.6" r="1.6" fill="#50d040"/>
<circle cx="482.5" cy="96.2" r="1.5" fill="#50d040"/>
<circle cx="480.7" cy="95.1" r="1.1" fill="#50d040"/>
<circle cx="481.8" cy="96.8" r="1.5" fill="#50d040"/>
<circle cx="487" cy="96.4" r="1.2" fill="#38b828"/>
<circle cx="484" cy="96.8" r="0.9" fill="#50d040"/>
<circle cx="487" cy="96.8" r="1.5" fill="#38b828"/>
<circle cx="490.9" cy="93.3" r="1.3" fill="#38b828"/>
<circle cx="488.9" cy="96.2" r="1.3" fill="#50d040"/>
<circle cx="490.3" cy="95.7" r="1.3" fill="#50d040"/>
<circle cx="491" cy="90.3" r="1.4" fill="#2ea020"/>
<circle cx="489.1" cy="89.5" r="1.5" fill="#50d040"/>
<circle cx="491.8" cy="90.5" r="1.3" fill="#2ea020"/>
<circle cx="491.1" cy="88.6" r="1.1" fill="#70e050"/>
<circle cx="491.7" cy="85.9" r="1.3" fill="#38b828"/>
<circle cx="491.5" cy="86" r="1" fill="#2ea020"/>
<circle cx="495.1" cy="86.9" r="1.6" fill="#38b828"/>
<circle cx="493.7" cy="85.3" r="1.3" fill="#70e050"/>
<circle cx="493.7" cy="86" r="0.9" fill="#50d040"/>
<circle cx="496.5" cy="84.2" r="1" fill="#50d040"/>
<circle cx="495.6" cy="84.2" r="1.1" fill="#2ea020"/>
<circle cx="497.8" cy="83.6" r="1.4" fill="#38b828"/>
<circle cx="500.5" cy="80.7" r="1.3" fill="#50d040"/>
<circle cx="502.2" cy="80.5" r="1.5" fill="#2ea020"/>
<circle cx="500.1" cy="82.8" r="1.3" fill="#70e050"/>
<circle cx="504.3" cy="78.8" r="1.5" fill="#2ea020"/>
<circle cx="500.9" cy="80.9" r="1.4" fill="#50d040"/>
<circle cx="502.2" cy="79.6" r="1.2" fill="#50d040"/>
<g>
<ellipse cx="505.6" cy="78.6" rx="5.6" ry="3.4" fill="#38cc30"/>
<circle cx="508.9" cy="80.2" r="1.5" fill="#38cc30"/>
<circle cx="505.3" cy="80.1" r="1.6" fill="#30b428"/>
<circle cx="504.3" cy="81" r="1.3" fill="#50e048"/>
<circle cx="505.2" cy="81.4" r="1.3" fill="#70f060"/>
<circle cx="503.1" cy="80.5" r="1.4" fill="#38cc30"/>
<circle cx="501.8" cy="77.8" r="1.1" fill="#50e048"/>
<circle cx="507.7" cy="79.8" r="1.1" fill="#38cc30"/>
<circle cx="507.5" cy="77.1" r="1.5" fill="#30b428"/>
<circle cx="506.8" cy="78" r="1.5" fill="#50e048"/>
<circle cx="502.1" cy="77.4" r="1.3" fill="#50e048"/>
<circle cx="505.5" cy="76.5" r="1.5" fill="#70f060"/>
<circle cx="503.4" cy="79" r="1.6" fill="#70f060"/>
<circle cx="509.2" cy="80.2" r="1.1" fill="#70f060"/>
<circle cx="507.1" cy="79.4" r="1.3" fill="#50e048"/>
<circle cx="501.2" cy="80" r="1.1" fill="#30b428"/>
<circle cx="502.3" cy="79.2" r="1.3" fill="#50e048"/>
<circle cx="505.5" cy="80.5" r="1.4" fill="#30b428"/>
<circle cx="507.3" cy="79.1" r="1.6" fill="#30b428"/>
<circle cx="509.7" cy="78.9" r="1.8" fill="#30b428"/>
<circle cx="509.7" cy="78.9" r="1.3" fill="#30b428"/>
</g>
<circle cx="73.4" cy="266.2" r="4.1" fill="#707070"/>
<ellipse cx="74.6" cy="265.6" rx="6.2" ry="5.8" fill="#30b8b0" opacity="0.72"/>
<circle cx="80.8" cy="270.7" r="4.1" fill="#707070"/>
<circle cx="86.7" cy="277" r="4.1" fill="#707070"/>
<circle cx="90.5" cy="284.8" r="4.1" fill="#707070"/>
<circle cx="92" cy="293.3" r="4.1" fill="#707070"/>
<circle cx="91" cy="301.9" r="4.1" fill="#707070"/>
<circle cx="87.7" cy="309.8" r="4.1" fill="#707070"/>
<circle cx="82.3" cy="316.6" r="4.1" fill="#707070"/>
<circle cx="75.3" cy="321.5" r="4.1" fill="#707070"/>
<circle cx="67.1" cy="324.3" r="4.1" fill="#707070"/>
<circle cx="58.5" cy="324.6" r="4.1" fill="#707070"/>
<circle cx="50.1" cy="322.6" r="4.1" fill="#707070"/>
<circle cx="42.6" cy="318.2" r="4.1" fill="#707070"/>
<circle cx="36.7" cy="312" r="4.1" fill="#707070"/>
<circle cx="32.7" cy="304.3" r="4.1" fill="#707070"/>
<circle cx="31" cy="295.8" r="4.1" fill="#707070"/>
<circle cx="31.8" cy="287.2" r="4.1" fill="#707070"/>
<circle cx="35" cy="279.2" r="4.1" fill="#707070"/>
<circle cx="40.3" cy="272.4" r="4.1" fill="#707070"/>
<circle cx="47.3" cy="267.3" r="4.1" fill="#707070"/>
<ellipse cx="46.3" cy="266.7" rx="6.2" ry="5.8" fill="#30b8b0" opacity="0.72"/>
<line x1="63.3" y1="209" x2="60.7" y2="209" stroke="#48ccc0" stroke-width="1.1"/>
<line x1="64.9" y1="210.6" x2="59.1" y2="210.6" stroke="#48ccc0" stroke-width="1.1"/>
<line x1="65.7" y1="212.1" x2="58.3" y2="212.1" stroke="#48ccc0" stroke-width="1.1"/>
<line x1="65.4" y1="213.6" x2="58.6" y2="213.6" stroke="#48ccc0" stroke-width="1.1"/>
<line x1="64.1" y1="215.2" x2="59.9" y2="215.2" stroke="#48ccc0" stroke-width="1.1"/>
<line x1="62.3" y1="216.7" x2="61.7" y2="216.7" stroke="#48ccc0" stroke-width="1.1"/>
<line x1="60.3" y1="218.2" x2="63.7" y2="218.2" stroke="#48ccc0" stroke-width="1.1"/>
<line x1="58.9" y1="219.8" x2="65.1" y2="219.8" stroke="#48ccc0" stroke-width="1.1"/>
<line x1="58.3" y1="221.3" x2="65.7" y2="221.3" stroke="#48ccc0" stroke-width="1.1"/>
<line x1="58.8" y1="222.9" x2="65.2" y2="222.9" stroke="#48ccc0" stroke-width="1.1"/>
<line x1="60.2" y1="224.4" x2="63.8" y2="224.4" stroke="#48ccc0" stroke-width="1.1"/>
<line x1="62.1" y1="225.9" x2="61.9" y2="225.9" stroke="#48ccc0" stroke-width="1.1"/>
<line x1="64" y1="227.5" x2="60" y2="227.5" stroke="#48ccc0" stroke-width="1.1"/>
<line x1="65.3" y1="229" x2="58.7" y2="229" stroke="#48ccc0" stroke-width="1.1"/>
<line x1="65.7" y1="230.6" x2="58.3" y2="230.6" stroke="#48ccc0" stroke-width="1.1"/>
<line x1="65" y1="232.1" x2="59" y2="232.1" stroke="#48ccc0" stroke-width="1.1"/>
<line x1="63.4" y1="233.6" x2="60.6" y2="233.6" stroke="#48ccc0" stroke-width="1.1"/>
<line x1="61.4" y1="235.2" x2="62.6" y2="235.2" stroke="#48ccc0" stroke-width="1.1"/>
<line x1="59.6" y1="236.7" x2="64.4" y2="236.7" stroke="#48ccc0" stroke-width="1.1"/>
<line x1="58.5" y1="238.2" x2="65.5" y2="238.2" stroke="#48ccc0" stroke-width="1.1"/>
<line x1="58.4" y1="239.8" x2="65.6" y2="239.8" stroke="#48ccc0" stroke-width="1.1"/>
<line x1="59.3" y1="241.3" x2="64.7" y2="241.3" stroke="#48ccc0" stroke-width="1.1"/>
<line x1="61" y1="242.8" x2="63" y2="242.8" stroke="#48ccc0" stroke-width="1.1"/>
<line x1="62.9" y1="244.4" x2="61.1" y2="244.4" stroke="#48ccc0" stroke-width="1.1"/>
<line x1="64.7" y1="245.9" x2="59.3" y2="245.9" stroke="#48ccc0" stroke-width="1.1"/>
<line x1="65.6" y1="247.5" x2="58.4" y2="247.5" stroke="#48ccc0" stroke-width="1.1"/>
<polyline points="62,208 61.3,208.5 60.7,209 60.1,209.5 59.6,210.1 59.1,210.6 58.7,211.1 58.5,211.6 58.3,212.1 58.3,212.6 58.4,213.1 58.6,213.6 58.9,214.2 59.4,214.7 59.9,215.2 60.5,215.7 61.1,216.2 61.7,216.7 62.4,217.2 63.1,217.7 63.7,218.2 64.2,218.8 64.7,219.3 65.1,219.8 65.4,220.3 65.6,220.8 65.7,221.3 65.6,221.8 65.5,222.3 65.2,222.9 64.8,223.4 64.3,223.9 63.8,224.4 63.2,224.9 62.5,225.4 61.9,225.9 61.2,226.4 60.6,227 60,227.5 59.4,228 59,228.5 58.7,229 58.4,229.5 58.3,230 58.3,230.6 58.4,231.1 58.7,231.6 59,232.1 59.5,232.6 60,233.1 60.6,233.6 61.2,234.1 61.9,234.7 62.6,235.2 63.2,235.7 63.8,236.2 64.4,236.7 64.8,237.2 65.2,237.7 65.5,238.2 65.7,238.8 65.7,239.3 65.6,239.8 65.4,240.3 65.1,240.8 64.7,241.3 64.2,241.8 63.7,242.3 63,242.8 62.4,243.4 61.7,243.9 61.1,244.4 60.4,244.9 59.8,245.4 59.3,245.9 58.9,246.4 58.6,246.9 58.4,247.5 58.3,248 58.3,248.5 58.5,249" fill="none" stroke="#a82840" stroke-width="1.6" stroke-linejoin="round"/>
<polyline points="62,208 62.7,208.5 63.3,209 63.9,209.5 64.4,210.1 64.9,210.6 65.3,211.1 65.5,211.6 65.7,212.1 65.7,212.6 65.6,213.1 65.4,213.6 65.1,214.2 64.6,214.7 64.1,215.2 63.5,215.7 62.9,216.2 62.3,216.7 61.6,217.2 60.9,217.7 60.3,218.2 59.8,218.8 59.3,219.3 58.9,219.8 58.6,220.3 58.4,220.8 58.3,221.3 58.4,221.8 58.5,222.3 58.8,222.9 59.2,223.4 59.7,223.9 60.2,224.4 60.8,224.9 61.5,225.4 62.1,225.9 62.8,226.4 63.4,227 64,227.5 64.6,228 65,228.5 65.3,229 65.6,229.5 65.7,230 65.7,230.6 65.6,231.1 65.3,231.6 65,232.1 64.5,232.6 64,233.1 63.4,233.6 62.8,234.1 62.1,234.7 61.4,235.2 60.8,235.7 60.2,236.2 59.6,236.7 59.2,237.2 58.8,237.7 58.5,238.2 58.3,238.8 58.3,239.3 58.4,239.8 58.6,240.3 58.9,240.8 59.3,241.3 59.8,241.8 60.3,242.3 61,242.8 61.6,243.4 62.3,243.9 62.9,244.4 63.6,244.9 64.2,245.4 64.7,245.9 65.1,246.4 65.4,246.9 65.6,247.5 65.7,248 65.7,248.5 65.5,249" fill="none" stroke="#2cb4ac" stroke-width="2.1" stroke-linejoin="round"/>
<path d="M61.5 249 C58 252 53 250 52 254 C51 259 54 262 48.5 266" fill="none" stroke="#2cb4ac" stroke-width="2.4" stroke-linecap="round"/>
<path d="M62.5 249 C66 252 71 250 72 254 C73 259 70 262 74.5 266" fill="none" stroke="#2cb4ac" stroke-width="2.4" stroke-linecap="round"/>
<path d="M62 246 L62 250" stroke="#b82838" stroke-width="1.6"/>
<g>
<ellipse cx="110" cy="243.5" rx="9.5" ry="7.9" fill="#1ca4dc"/>
<circle cx="113.6" cy="248.5" r="2.1" fill="#1890c8"/>
<circle cx="114.6" cy="237.7" r="2" fill="#34bcf0"/>
<circle cx="112.5" cy="248.2" r="2.3" fill="#2cb4e8"/>
<circle cx="105.6" cy="247.4" r="1.6" fill="#1ca4dc"/>
<circle cx="116.2" cy="240.7" r="1.9" fill="#1890c8"/>
<circle cx="108.8" cy="242.6" r="1.8" fill="#1890c8"/>
<circle cx="107.7" cy="238.2" r="2.4" fill="#2cb4e8"/>
<circle cx="114.3" cy="248.8" r="1.6" fill="#2cb4e8"/>
<circle cx="104" cy="245" r="1.8" fill="#1890c8"/>
<circle cx="114" cy="248.2" r="2" fill="#1ca4dc"/>
<circle cx="113.3" cy="244.9" r="2.2" fill="#34bcf0"/>
<circle cx="112.2" cy="243.4" r="2.1" fill="#34bcf0"/>
<circle cx="111.8" cy="240.7" r="2.4" fill="#34bcf0"/>
<circle cx="105.7" cy="245.8" r="2" fill="#1890c8"/>
<circle cx="107.6" cy="248" r="1.8" fill="#2cb4e8"/>
<circle cx="113.8" cy="248.5" r="2.5" fill="#2cb4e8"/>
<circle cx="103.8" cy="243.8" r="2.2" fill="#1ca4dc"/>
<circle cx="105.7" cy="241.8" r="2.5" fill="#2cb4e8"/>
<circle cx="111.5" cy="246.1" r="1.8" fill="#44c4f4"/>
<circle cx="106.3" cy="248" r="1.8" fill="#2cb4e8"/>
<circle cx="113.9" cy="249.4" r="1.7" fill="#1890c8"/>
<circle cx="105.1" cy="247.6" r="2.2" fill="#1ca4dc"/>
<circle cx="103" cy="247.4" r="2.5" fill="#34bcf0"/>
<circle cx="114.9" cy="243.9" r="2" fill="#1ca4dc"/>
<circle cx="113.8" cy="242.1" r="2.1" fill="#1890c8"/>
<circle cx="112.5" cy="237.7" r="2" fill="#44c4f4"/>
<circle cx="114" cy="244.7" r="1.8" fill="#1890c8"/>
<circle cx="110" cy="247.9" r="2.4" fill="#1ca4dc"/>
<circle cx="117.2" cy="242.9" r="2" fill="#44c4f4"/>
<circle cx="114.3" cy="247.9" r="2.4" fill="#1890c8"/>
<circle cx="113.8" cy="244.1" r="2.3" fill="#1ca4dc"/>
<circle cx="114.8" cy="239.8" r="1.9" fill="#34bcf0"/>
<circle cx="114.7" cy="240.7" r="1.6" fill="#34bcf0"/>
<circle cx="108.8" cy="249.6" r="1.5" fill="#1ca4dc"/>
<circle cx="111.2" cy="243.2" r="2.1" fill="#1ca4dc"/>
<circle cx="113.8" cy="239.2" r="1.8" fill="#1890c8"/>
<circle cx="110.1" cy="237.2" r="1.6" fill="#1ca4dc"/>
<circle cx="112.1" cy="244.7" r="1.5" fill="#1890c8"/>
<circle cx="110.5" cy="241.7" r="1.6" fill="#44c4f4"/>
<circle cx="114.3" cy="247.2" r="1.8" fill="#1890c8"/>
<circle cx="115" cy="239.9" r="1.7" fill="#1890c8"/>
<circle cx="112.2" cy="249.3" r="2.3" fill="#34bcf0"/>
<circle cx="108.1" cy="237.1" r="2.3" fill="#2cb4e8"/>
<circle cx="104.1" cy="247.7" r="1.9" fill="#34bcf0"/>
<circle cx="113.2" cy="248.8" r="1.8" fill="#34bcf0"/>
<circle cx="109.3" cy="244.8" r="1.9" fill="#44c4f4"/>
</g>
<circle cx="115.5" cy="246.3" r="0.7" fill="#0e5c98" opacity="0.75"/>
<circle cx="115.7" cy="240.7" r="0.7" fill="#0e5c98" opacity="0.75"/>
<circle cx="114.2" cy="242.1" r="0.8" fill="#0e5c98" opacity="0.75"/>
<circle cx="103.9" cy="246.2" r="0.9" fill="#0e5c98" opacity="0.75"/>
<circle cx="112.3" cy="238.4" r="0.8" fill="#0e5c98" opacity="0.75"/>
<circle cx="115.4" cy="244.2" r="0.8" fill="#0e5c98" opacity="0.75"/>
<circle cx="110.1" cy="238.8" r="0.6" fill="#0e5c98" opacity="0.75"/>
<circle cx="106.8" cy="247.3" r="0.5" fill="#0e5c98" opacity="0.75"/>
<circle cx="116.2" cy="241.3" r="0.7" fill="#0e5c98" opacity="0.75"/>
<circle cx="112" cy="247.1" r="0.7" fill="#0e5c98" opacity="0.75"/>
<circle cx="113" cy="246.7" r="0.6" fill="#0e5c98" opacity="0.75"/>
<line x1="90" y1="272.3" x2="119.2" y2="272.3" stroke="#000" stroke-width="2.4"/>
<path d="M129.2 272.3 L116.2 268 L118.7 272.3 L116.2 276.6 Z" fill="#000"/>
<g>
<ellipse cx="132.3" cy="303.8" rx="9.2" ry="9.2" fill="#1ca4dc"/>
<circle cx="135.3" cy="303" r="1.5" fill="#1890c8"/>
<circle cx="133.4" cy="306.4" r="2.2" fill="#44c4f4"/>
<circle cx="132.9" cy="301.6" r="1.8" fill="#2cb4e8"/>
<circle cx="129.6" cy="309.5" r="2.4" fill="#1890c8"/>
<circle cx="131.8" cy="302.1" r="2.4" fill="#34bcf0"/>
<circle cx="131.8" cy="309.1" r="1.7" fill="#2cb4e8"/>
<circle cx="125.4" cy="299.9" r="2.3" fill="#34bcf0"/>
<circle cx="136.6" cy="305.5" r="1.8" fill="#1ca4dc"/>
<circle cx="136.7" cy="302.6" r="2.3" fill="#34bcf0"/>
<circle cx="136.9" cy="309.6" r="2.2" fill="#1ca4dc"/>
<circle cx="128" cy="305.8" r="2.4" fill="#1890c8"/>
<circle cx="137.5" cy="301.2" r="2" fill="#1890c8"/>
<circle cx="126" cy="308.5" r="1.7" fill="#34bcf0"/>
<circle cx="127.9" cy="308.2" r="1.8" fill="#34bcf0"/>
<circle cx="126.8" cy="301.6" r="2.3" fill="#34bcf0"/>
<circle cx="130.1" cy="304.9" r="1.9" fill="#2cb4e8"/>
<circle cx="127.6" cy="306" r="2.4" fill="#1ca4dc"/>
<circle cx="127.1" cy="303.4" r="1.6" fill="#1ca4dc"/>
<circle cx="135.2" cy="309.1" r="1.8" fill="#44c4f4"/>
<circle cx="137.8" cy="300.3" r="1.9" fill="#2cb4e8"/>
<circle cx="125.2" cy="302.2" r="2.1" fill="#1ca4dc"/>
<circle cx="130.9" cy="301.6" r="1.7" fill="#2cb4e8"/>
<circle cx="136" cy="296.9" r="2" fill="#2cb4e8"/>
<circle cx="126.4" cy="303.9" r="2.1" fill="#1890c8"/>
<circle cx="130.2" cy="304.1" r="2.2" fill="#2cb4e8"/>
<circle cx="135" cy="298" r="2.4" fill="#2cb4e8"/>
<circle cx="134.2" cy="308.3" r="1.6" fill="#2cb4e8"/>
<circle cx="135.5" cy="309.8" r="1.9" fill="#44c4f4"/>
<circle cx="133.3" cy="305.8" r="1.7" fill="#2cb4e8"/>
<circle cx="138.3" cy="303.5" r="2" fill="#2cb4e8"/>
<circle cx="134.1" cy="307.7" r="1.6" fill="#1890c8"/>
<circle cx="128.5" cy="300.3" r="1.6" fill="#34bcf0"/>
<circle cx="133.1" cy="302.4" r="1.9" fill="#34bcf0"/>
<circle cx="135.9" cy="304.6" r="2" fill="#1890c8"/>
<circle cx="138.8" cy="305.9" r="1.9" fill="#44c4f4"/>
<circle cx="132.3" cy="307.7" r="1.8" fill="#2cb4e8"/>
<circle cx="137.9" cy="301.2" r="1.7" fill="#44c4f4"/>
<circle cx="137.7" cy="305.8" r="2.1" fill="#2cb4e8"/>
<circle cx="136.2" cy="298.2" r="1.8" fill="#2cb4e8"/>
<circle cx="133.9" cy="311" r="2" fill="#1ca4dc"/>
<circle cx="127.3" cy="305.7" r="1.9" fill="#44c4f4"/>
<circle cx="137.1" cy="298.2" r="1.5" fill="#1890c8"/>
<circle cx="130.2" cy="302.1" r="2.3" fill="#34bcf0"/>
<circle cx="127.6" cy="302.2" r="2.3" fill="#34bcf0"/>
<circle cx="132" cy="307.9" r="2" fill="#44c4f4"/>
<circle cx="135.4" cy="298.9" r="2.2" fill="#1ca4dc"/>
</g>
<circle cx="126" cy="303.4" r="0.6" fill="#0e5c98" opacity="0.75"/>
<circle cx="138.6" cy="300.8" r="0.8" fill="#0e5c98" opacity="0.75"/>
<circle cx="125.1" cy="305.7" r="0.8" fill="#0e5c98" opacity="0.75"/>
<circle cx="130.1" cy="302.3" r="0.7" fill="#0e5c98" opacity="0.75"/>
<circle cx="138.3" cy="302.7" r="0.7" fill="#0e5c98" opacity="0.75"/>
<circle cx="130.2" cy="301.6" r="0.6" fill="#0e5c98" opacity="0.75"/>
<circle cx="133.3" cy="298.3" r="0.7" fill="#0e5c98" opacity="0.75"/>
<circle cx="138.1" cy="302.8" r="0.7" fill="#0e5c98" opacity="0.75"/>
<circle cx="137.8" cy="306.9" r="0.7" fill="#0e5c98" opacity="0.75"/>
<circle cx="130.7" cy="311.5" r="0.7" fill="#0e5c98" opacity="0.75"/>
<circle cx="125" cy="301.9" r="0.7" fill="#0e5c98" opacity="0.75"/>
<path d="M124 301 Q132 309 140 300" fill="none" stroke="#b82838" stroke-width="1.5"/>
<path d="M125 306 Q132 300 139 305" fill="none" stroke="#203880" stroke-width="0.9" opacity="0.7"/>
<polyline points="135,295 135.9,294.5 136.7,293.9 137.3,293.2 137.7,292.5 137.8,291.6 137.6,290.6 137.4,289.6 137.1,288.5 137.1,287.3 137.3,286.5 137.8,285.7 138.5,285.2 139.4,284.8 140.4,284.5 141.5,284.1 142.4,283.8 143.2,283.2 143.7,282.6 143.9,281.8 144.1,280.8 144.1,279.7 144.2,278.6 144.3,277.6 144.7,276.7 145.2,276.1 146,275.6 147,275.3 148,275" fill="none" stroke="#c02838" stroke-width="2.1" stroke-linejoin="round" stroke-linecap="round" />
<polyline points="148,275 149.1,274.8 150.1,274.6 150.9,274.2 151.5,273.5 151.9,272.7 152.1,271.6 152.3,270.5 152.6,269.3 153.1,268.5 153.7,267.9 154.4,267.5 155.2,267.4 156.2,267.4 157.2,267.5 158.2,267.7 159.1,267.7 160,267.6 160.8,267.2 161.4,266.7 161.8,265.9 162.2,265 162.5,264 162.9,263.1 163.3,262.3 163.8,261.7 164.5,261.2 166,262" fill="none" stroke="#30b0b0" stroke-width="2.2" stroke-linejoin="round" stroke-linecap="round" />
<circle cx="168" cy="263.6" r="3.7" fill="#707070"/>
<ellipse cx="168.5" cy="263.6" rx="5.8" ry="5.2" fill="#30b8b0" opacity="0.7"/>
<circle cx="174.4" cy="260.5" r="3.7" fill="#707070"/>
<circle cx="180.9" cy="257.6" r="3.7" fill="#707070"/>
<circle cx="187.6" cy="255.1" r="3.7" fill="#707070"/>
<circle cx="194.4" cy="252.9" r="3.7" fill="#707070"/>
<circle cx="201.2" cy="251.1" r="3.7" fill="#707070"/>
<circle cx="208.2" cy="249.5" r="3.7" fill="#707070"/>
<circle cx="215.2" cy="248.3" r="3.7" fill="#707070"/>
<circle cx="222.3" cy="247.5" r="3.7" fill="#707070"/>
<circle cx="229.4" cy="247" r="3.7" fill="#707070"/>
<circle cx="236.5" cy="246.8" r="3.7" fill="#707070"/>
<circle cx="243.6" cy="247" r="3.7" fill="#707070"/>
<circle cx="250.7" cy="247.5" r="3.7" fill="#707070"/>
<circle cx="257.8" cy="248.3" r="3.7" fill="#707070"/>
<circle cx="264.8" cy="249.5" r="3.7" fill="#707070"/>
<circle cx="271.8" cy="251.1" r="3.7" fill="#707070"/>
<circle cx="278.6" cy="252.9" r="3.7" fill="#707070"/>
<circle cx="285.4" cy="255.1" r="3.7" fill="#707070"/>
<circle cx="292.1" cy="257.6" r="3.7" fill="#707070"/>
<circle cx="298.6" cy="260.5" r="3.7" fill="#707070"/>
<circle cx="305" cy="263.6" r="3.7" fill="#707070"/>
<ellipse cx="305" cy="263.6" rx="5.8" ry="5.2" fill="#30b8b0" opacity="0.7"/>
<polyline points="306,264.5 306.1,265.5 306.3,266.5 306.6,267.4 307.1,268.1 307.7,268.7 308.4,269.1 309.3,269.4 310.3,269.5 311.3,269.6 312.5,269.8 313.4,270.3 314.2,270.8 314.8,271.5 315.2,272.2 315.3,273 315.3,273.9 315.2,274.9 314.9,275.9 314.6,276.9 314.4,277.9 314.2,278.9 314.4,280.1 314.8,280.8 315.4,281.4 316.1,281.9 317.1,282.3 318.1,282.6 319.1,282.9 320.1,283.3 321,283.7 321.7,284.2 322.3,284.8 322.6,285.6 322.8,286.5 322.8,287.5 322.7,288.6 322.5,289.7 322.3,290.8 322.3,291.8 322.4,292.7 322.8,293.5 323.3,294.1 324.1,294.7 325.1,295.1 326.1,295.5 327.1,296 328,296.3 328.8,296.7 329.5,297.2 330,297.8 330.3,298.6 330.5,299.4 330.5,300.4 330.4,301.4 330.4,302.5 330.3,303.5 330.4,304.4 330.5,305.3 330.9,306 333,305.5" fill="none" stroke="#30b0b0" stroke-width="2.3" stroke-linejoin="round" stroke-linecap="round" />
<polyline points="448.8,280.9 451.3,276.9 447,276.3 449.2,272.9 444.8,271.6 447.3,268.3 443.2,267.2 445.1,264 440.9,263.4" fill="none" stroke="#34aab0" stroke-width="2.15" stroke-linejoin="round" stroke-linecap="round"/>
<polyline points="444.8,271.1 442.5,267.4 439.2,268" fill="none" stroke="#34aab0" stroke-width="1.75" stroke-linejoin="round" stroke-linecap="round"/>
<polyline points="468.8,272.7 471,269.2 467,268 468.8,264.9 464.8,263.7 467.3,260.3 463.2,259.5 465.1,255.7" fill="none" stroke="#34aab0" stroke-width="2.15" stroke-linejoin="round" stroke-linecap="round"/>
<polyline points="465.8,264.6 464.5,261.4 460.7,261.8" fill="none" stroke="#34aab0" stroke-width="1.75" stroke-linejoin="round" stroke-linecap="round"/>
<polyline points="509.8,258.9 511.2,255.3 507.3,254.7 508.3,250.7 505,250.2 506.3,246.2 502.2,245.6" fill="none" stroke="#34aab0" stroke-width="1.95" stroke-linejoin="round" stroke-linecap="round"/>
<polyline points="522.9,256.8 524,252.7 519.9,251.7 521.5,248 517.7,246.8" fill="none" stroke="#34aab0" stroke-width="1.8499999999999999" stroke-linejoin="round" stroke-linecap="round"/>
<polygon points="451.2,286.9 452.7,284.6 455.6,284.7 457.1,282.3 459.9,282.4 461.4,280 464.2,280.1 465.7,277.7 468.5,277.9 470.1,275.5 472.9,275.7 474.4,273.3 477.2,273.5 478.8,271.2 481.6,271.4 483.2,269.1 486,269.3 487.7,267 490.5,267.3 492.1,265 494.9,265.3 496.6,263.1 499.4,263.4 501.1,261.2 503.9,261.6 505.6,259.4 508.4,259.8 510.2,257.6 512.9,258 514.7,255.9 517.5,256.4 519.3,254.2 522.1,254.8 523.9,252.6 526.7,253.2 528.6,251.1 531.3,251.7 533.2,249.6 536,250.2 537.9,248.1 540.6,248.7 542.5,246.7 545.3,247.3 547.2,245.3 550,245.9 551.9,243.8 554.2,244.4 556.8,244.5 557.8,246.9 560.4,247 561.3,249.4 563.9,249.5 564.9,251.9 567.5,252 568.5,254.4 571,254.5 572,256.9 574.6,257 575.6,259.4 578.2,259.5 579.1,261.9 581.7,262 582.7,264.4 585.3,264.5 586.3,266.9 588.9,267 589.8,269.4 592.4,269.5 593.4,271.9 596,272 597,274.4 599.5,274.5 600.6,276.1 599,278.6 596,278.7 594.5,281.2 591.5,281.2 590,283.7 587,283.8 585.5,286.3 582.5,286.4 580.9,288.9 578,289 576.4,291.5 573.5,291.6 571.9,294.1 569,294.2 567.4,296.7 564.4,296.8 562.9,299.3 559.9,299.3 558.4,301.9 555.4,301.9 553.9,304.4 550.9,304.5 549.3,307 546.4,307.1 544.8,309.6 541.9,309.7 540.3,312.2 537.4,312.3 535.8,314.8 532.9,314.9 531.3,317.4 528.3,317.5 526.8,320 523.8,320 522.3,322.6 519.3,322.6 517.8,325.1 514.8,325.2 513.2,327.7 510.3,327.8 508.7,330.3 505.8,330.4 504.2,332.9 501.3,333 499.7,335.5 497.4,335.7 494.6,334.7 493.8,331.9 491,330.9 490.3,328 487.5,327.1 486.8,324.2 484,323.3 483.2,320.4 480.4,319.5 479.7,316.6 476.9,315.7 476.1,312.8 473.3,311.9 472.6,309 469.8,308.1 469.1,305.2 466.3,304.2 465.5,301.4 462.7,300.4 462,297.6 459.2,296.6 458.4,293.8 455.6,292.8 454.9,290 452.1,289" fill="#868686"/>
<polyline points="451.5,287 459.7,282.6 468.1,278.3 476.4,274.1 484.8,270 493.3,266.1 501.9,262.5 510.6,259 519.3,255.8 528.2,252.7 537.1,249.8 546,247.1 555,244.3" fill="none" stroke="#6c6c6c" stroke-width="0.7" opacity="0.7"/>
<polyline points="454.5,290.3 462.8,285.9 471.2,281.5 479.6,277.2 488,273.1 496.5,269.2 505.1,265.4 513.7,261.9 522.5,258.5 531.3,255.3 540.2,252.3 549.1,249.4 558.1,246.5" fill="none" stroke="#6c6c6c" stroke-width="0.7" opacity="0.7"/>
<polyline points="458.1,294.1 466.4,289.6 474.8,285.2 483.2,280.9 491.6,276.7 500.1,272.7 508.7,268.8 517.4,265.2 526.1,261.7 534.9,258.3 543.8,255.1 552.7,252.1 561.6,249" fill="none" stroke="#6c6c6c" stroke-width="0.7" opacity="0.7"/>
<polyline points="461.6,297.9 470,293.4 478.4,288.9 486.8,284.6 495.3,280.3 503.8,276.2 512.4,272.2 521,268.4 529.8,264.8 538.6,261.3 547.4,258 556.3,254.7 565.2,251.5" fill="none" stroke="#6c6c6c" stroke-width="0.7" opacity="0.7"/>
<polyline points="465.2,301.7 473.5,297.2 482,292.7 490.4,288.2 498.9,283.9 507.4,279.7 516,275.6 524.7,271.7 533.4,268 542.2,264.3 551,260.8 559.9,257.4 568.7,254" fill="none" stroke="#6c6c6c" stroke-width="0.7" opacity="0.7"/>
<polyline points="468.7,305.5 477.1,300.9 485.6,296.4 494,291.9 502.5,287.5 511.1,283.2 519.7,279 528.3,275 537.1,271.1 545.8,267.4 554.6,263.7 563.5,260.1 572.3,256.5" fill="none" stroke="#6c6c6c" stroke-width="0.7" opacity="0.7"/>
<polyline points="472.2,309.3 480.7,304.7 489.1,300.1 497.6,295.5 506.2,291.1 514.7,286.7 523.3,282.4 532,278.3 540.7,274.3 549.5,270.4 558.2,266.5 567,262.7 575.9,259" fill="none" stroke="#6c6c6c" stroke-width="0.7" opacity="0.7"/>
<polyline points="475.8,313.2 484.2,308.5 492.7,303.8 501.3,299.2 509.8,294.6 518.4,290.2 527,285.8 535.6,281.6 544.3,277.4 553.1,273.4 561.8,269.4 570.6,265.4 579.4,261.5" fill="none" stroke="#6c6c6c" stroke-width="0.7" opacity="0.7"/>
<polyline points="479.3,317 487.8,312.2 496.3,307.5 504.9,302.8 513.4,298.2 522,293.7 530.6,289.2 539.3,284.9 548,280.6 556.7,276.4 565.5,272.2 574.2,268.1 583,264" fill="none" stroke="#6c6c6c" stroke-width="0.7" opacity="0.7"/>
<polyline points="482.8,320.8 491.4,316 499.9,311.2 508.5,306.5 517.1,301.8 525.7,297.2 534.3,292.6 542.9,288.1 551.6,283.7 560.3,279.4 569.1,275 577.8,270.8 586.6,266.5" fill="none" stroke="#6c6c6c" stroke-width="0.7" opacity="0.7"/>
<polyline points="486.4,324.6 494.9,319.8 503.5,314.9 512.1,310.2 520.7,305.4 529.3,300.7 537.9,296 546.6,291.4 555.3,286.9 564,282.4 572.7,277.9 581.4,273.4 590.1,269" fill="none" stroke="#6c6c6c" stroke-width="0.7" opacity="0.7"/>
<polyline points="489.9,328.4 498.5,323.5 507.1,318.7 515.7,313.8 524.3,309 533,304.2 541.6,299.4 550.2,294.7 558.9,290 567.6,285.4 576.3,280.7 585,276.1 593.7,271.5" fill="none" stroke="#6c6c6c" stroke-width="0.7" opacity="0.7"/>
<polyline points="493.5,332.2 502.1,327.3 510.7,322.4 519.3,317.5 528,312.6 536.6,307.7 545.2,302.8 553.9,298 562.6,293.2 571.2,288.4 579.9,283.6 588.6,278.8 597.2,274" fill="none" stroke="#6c6c6c" stroke-width="0.7" opacity="0.7"/>
<polyline points="496.5,335.5 505.2,330.6 513.8,325.6 522.5,320.6 531.1,315.7 539.8,310.8 548.4,305.8 557.1,300.9 565.7,295.9 574.4,291 583,286 591.7,281.1 600.3,276.2" fill="none" stroke="#6c6c6c" stroke-width="0.7" opacity="0.7"/>
<path d="M481.2 272.7h0M494.5 266h0M499.1 263.9h0M503.3 262.8h0M512.8 258.6h0M521.3 255.8h0M526.1 254.3h0M536 250.9h0M545.3 248h0M455.5 289.5h0M459.6 287.3h0M468.8 282.7h0M473.2 280.6h0M477.3 278.5h0M482.1 275.8h0M495.2 269.7h0M503.6 265.6h0M513.2 262.5h0M522 258.7h0M531.5 255.6h0M540.9 251.9h0M545.3 251h0M550.2 249.2h0M554.4 247.4h0M461.1 292.5h0M469.7 288.1h0M474.3 285.2h0M487.5 278.3h0M496.4 274.7h0M501.1 272.7h0M514.3 266.1h0M523.4 263.1h0M537.2 257.7h0M541.7 255.8h0M546.4 254.6h0M560.3 249.1h0M462.9 297.6h0M467.3 295.2h0M484.7 285.5h0M489.2 283.6h0M493.8 281.3h0M502.3 276.7h0M511.5 272.8h0M520.4 268.9h0M529.7 265.3h0M547.8 257.6h0M561.9 252.9h0M473 297.6h0M481.7 293.1h0M494.6 285.9h0M503.9 281.6h0M508.2 279.1h0M512.4 277h0M516.9 274.7h0M521.6 273.2h0M531.1 268.7h0M535.1 267.1h0M540.2 265.2h0M544.6 263.1h0M549 261.7h0M563.2 256.3h0M567.3 254.5h0M487.7 295h0M491.9 293.1h0M496.3 291h0M500.6 288.2h0M505.5 286.1h0M523.4 277.4h0M527.4 275.7h0M532 273.3h0M536.8 271.2h0M541.5 269.6h0M545.9 267.2h0M559.4 261.4h0M568.9 257.9h0M489 300.1h0M493.1 297.7h0M497.6 295.4h0M510.8 288.5h0M524.1 282.1h0M529 279.9h0M538.4 275.4h0M542.9 273.2h0M547.4 271h0M560.7 265.6h0M570.1 261.5h0M574.6 259.2h0M485.5 307.9h0M499.2 300.8h0M512.7 293.1h0M530.2 284.5h0M535 281.9h0M539.5 279.4h0M543.9 277.3h0M548.6 275.7h0M557.6 271.1h0M567.2 267h0M571.6 264.8h0M483 315.2h0M491.6 310h0M500.1 305.1h0M505.1 302.6h0M518.4 295.3h0M522.8 293.1h0M531.6 288.9h0M536.5 286h0M541.2 284.3h0M545 282.3h0M559.1 275.2h0M563.4 273.2h0M568 270.7h0M484.2 320.2h0M501.5 309.8h0M505.9 308h0M510.9 304.9h0M515.5 302.9h0M519.6 300.1h0M523.9 297.9h0M529 295.3h0M533 293h0M537.5 290.9h0M542.5 288.4h0M560.7 279.1h0M569.6 275h0M573.8 272.2h0M578.2 270.3h0M489.6 322.7h0M494.4 320.3h0M498.5 317.8h0M512.5 309.8h0M516.8 307.6h0M521.1 305.6h0M525.4 302.4h0M530.4 300.3h0M538.9 295.1h0M543.2 292.8h0M547.9 290.3h0M553 288h0M557.1 285.9h0M561.5 283.2h0M566.6 281.3h0M574.9 276.6h0M579.9 274.1h0M495.5 325.5h0M499.7 322.5h0M504.7 320.4h0M508.7 317.3h0M513.1 315h0M522.1 310.2h0M526.7 307.4h0M531.1 305h0M536.2 302.6h0M558.8 290.4h0M576.9 280.4h0M580.8 277.9h0M585.9 275.5h0M590.5 273.3h0M496.5 330h0M501.6 328.1h0M510.3 322.5h0M514.4 320.1h0M528.4 312.1h0M537.7 307.5h0M541.7 305.1h0M546.3 302.2h0M560.3 294.7h0M564.7 292.1h0M569.3 289.3h0M578.3 284.5h0M582.4 281.9h0M591.8 276.9h0M595.9 275h0M510.4 326.9h0M514.9 323.8h0M519.9 321.8h0M524.5 318.7h0M546.4 306h0M555.8 300.7h0M560.2 298.2h0M565 295.6h0M592.2 280.2h0" stroke="#585858" stroke-width="1.5" stroke-linecap="round" opacity="0.7" fill="none"/>
<ellipse cx="454" cy="287.8" rx="1.8" ry="1.1" fill="#ffffff" transform="rotate(-8.6 454 287.8)"/>
<ellipse cx="458.3" cy="285.8" rx="2.4" ry="1.7" fill="#ffffff" transform="rotate(-33.6 458.3 285.8)"/>
<ellipse cx="462.7" cy="282.9" rx="2.1" ry="1.6" fill="#ebebeb" transform="rotate(-2.5 462.7 282.9)"/>
<ellipse cx="467" cy="281.2" rx="2.2" ry="1.7" fill="#f4f4f4" transform="rotate(-23.2 467 281.2)"/>
<ellipse cx="470.9" cy="278.5" rx="1.9" ry="1.5" fill="#f8f8f8" transform="rotate(-27.7 470.9 278.5)"/>
<ellipse cx="475.2" cy="276.4" rx="1.8" ry="1.4" fill="#f4f4f4" transform="rotate(-1.8 475.2 276.4)"/>
<ellipse cx="480" cy="274.3" rx="1.7" ry="1.3" fill="#dcdcdc" transform="rotate(-12.9 480 274.3)"/>
<ellipse cx="484.7" cy="272" rx="1.5" ry="1" fill="#ebebeb" transform="rotate(-7.5 484.7 272)"/>
<ellipse cx="488.4" cy="270.4" rx="1.8" ry="1.3" fill="#f4f4f4" transform="rotate(-36.1 488.4 270.4)"/>
<ellipse cx="492.9" cy="268.1" rx="2.4" ry="2" fill="#f8f8f8" transform="rotate(-26.5 492.9 268.1)"/>
<ellipse cx="497.6" cy="266.1" rx="2.3" ry="1.6" fill="#ebebeb" transform="rotate(-43.1 497.6 266.1)"/>
<ellipse cx="502.4" cy="264.1" rx="1.8" ry="1.2" fill="#ebebeb" transform="rotate(-19.2 502.4 264.1)"/>
<ellipse cx="506.7" cy="262.1" rx="1.7" ry="1.3" fill="#ebebeb" transform="rotate(-10.9 506.7 262.1)"/>
<ellipse cx="510.9" cy="260.5" rx="2.4" ry="2" fill="#ebebeb" transform="rotate(-37.9 510.9 260.5)"/>
<ellipse cx="515.7" cy="258.7" rx="2.3" ry="1.9" fill="#dcdcdc" transform="rotate(-5.3 515.7 258.7)"/>
<ellipse cx="520.3" cy="256.8" rx="1.7" ry="1.1" fill="#ffffff" transform="rotate(-30.5 520.3 256.8)"/>
<ellipse cx="524.8" cy="255.6" rx="2.1" ry="1.5" fill="#ebebeb" transform="rotate(-6.5 524.8 255.6)"/>
<ellipse cx="529.7" cy="254" rx="2.3" ry="1.9" fill="#ffffff" transform="rotate(-29.1 529.7 254)"/>
<ellipse cx="534.4" cy="252.1" rx="1.8" ry="1.1" fill="#ffffff" transform="rotate(-35 534.4 252.1)"/>
<ellipse cx="539.1" cy="250.7" rx="1.5" ry="1.3" fill="#ebebeb" transform="rotate(-40.7 539.1 250.7)"/>
<ellipse cx="543.1" cy="249.2" rx="2" ry="1.6" fill="#f8f8f8" transform="rotate(-9.3 543.1 249.2)"/>
<ellipse cx="548.3" cy="247.7" rx="1.6" ry="1.2" fill="#ebebeb" transform="rotate(-9.8 548.3 247.7)"/>
<ellipse cx="552.6" cy="246.2" rx="1.8" ry="1.5" fill="#ffffff" transform="rotate(-18.5 552.6 246.2)"/>
<ellipse cx="459.4" cy="290.4" rx="2.3" ry="1.7" fill="#ffffff" transform="rotate(-36.3 459.4 290.4)"/>
<ellipse cx="464.2" cy="288" rx="2" ry="1.3" fill="#ffffff" transform="rotate(-19.7 464.2 288)"/>
<ellipse cx="468.2" cy="285.6" rx="2.3" ry="1.8" fill="#f4f4f4" transform="rotate(-42.7 468.2 285.6)"/>
<ellipse cx="472.5" cy="283.8" rx="1.7" ry="1.3" fill="#ebebeb" transform="rotate(-6.8 472.5 283.8)"/>
<ellipse cx="476.6" cy="281.3" rx="2.5" ry="2.1" fill="#ffffff" transform="rotate(-44.7 476.6 281.3)"/>
<ellipse cx="481.2" cy="279.4" rx="2.1" ry="1.5" fill="#ffffff" transform="rotate(0.5 481.2 279.4)"/>
<ellipse cx="485.8" cy="277.1" rx="2" ry="1.2" fill="#f4f4f4" transform="rotate(-27.7 485.8 277.1)"/>
<ellipse cx="490.4" cy="274.7" rx="2" ry="1.7" fill="#dcdcdc" transform="rotate(-15.5 490.4 274.7)"/>
<ellipse cx="494.3" cy="272.3" rx="2.3" ry="1.6" fill="#f8f8f8" transform="rotate(-1.6 494.3 272.3)"/>
<ellipse cx="499" cy="270.9" rx="2.3" ry="1.9" fill="#f4f4f4" transform="rotate(-32.2 499 270.9)"/>
<ellipse cx="503.3" cy="268.8" rx="1.8" ry="1.2" fill="#f8f8f8" transform="rotate(-26.3 503.3 268.8)"/>
<ellipse cx="507.9" cy="266.6" rx="1.9" ry="1.4" fill="#ffffff" transform="rotate(-8.9 507.9 266.6)"/>
<ellipse cx="512.7" cy="264.4" rx="2" ry="1.2" fill="#f8f8f8" transform="rotate(-3.1 512.7 264.4)"/>
<ellipse cx="516.9" cy="262.6" rx="2.3" ry="1.9" fill="#dcdcdc" transform="rotate(-24.4 516.9 262.6)"/>
<ellipse cx="521.6" cy="260.8" rx="1.9" ry="1.4" fill="#ffffff" transform="rotate(-38.1 521.6 260.8)"/>
<ellipse cx="526.2" cy="259.2" rx="2.2" ry="1.5" fill="#f4f4f4" transform="rotate(-39.7 526.2 259.2)"/>
<ellipse cx="530.8" cy="258" rx="2.2" ry="1.4" fill="#ffffff" transform="rotate(-42 530.8 258)"/>
<ellipse cx="535.4" cy="255.9" rx="2.3" ry="1.7" fill="#f8f8f8" transform="rotate(1 535.4 255.9)"/>
<ellipse cx="539.9" cy="254.4" rx="1.9" ry="1.4" fill="#f8f8f8" transform="rotate(-40.6 539.9 254.4)"/>
<ellipse cx="544.7" cy="252.9" rx="1.6" ry="1.3" fill="#f8f8f8" transform="rotate(-35.7 544.7 252.9)"/>
<ellipse cx="549.5" cy="251" rx="1.8" ry="1.4" fill="#f4f4f4" transform="rotate(-45.4 549.5 251)"/>
<ellipse cx="553.9" cy="249.6" rx="1.6" ry="1.1" fill="#f8f8f8" transform="rotate(-42.2 553.9 249.6)"/>
<ellipse cx="558.4" cy="248.4" rx="2.2" ry="1.5" fill="#dcdcdc" transform="rotate(-0.5 558.4 248.4)"/>
<ellipse cx="461.2" cy="295.8" rx="1.8" ry="1.2" fill="#ffffff" transform="rotate(-15.1 461.2 295.8)"/>
<ellipse cx="465" cy="292.9" rx="2.2" ry="1.4" fill="#dcdcdc" transform="rotate(-32.4 465 292.9)"/>
<ellipse cx="469.7" cy="291" rx="1.8" ry="1.2" fill="#f8f8f8" transform="rotate(-47.1 469.7 291)"/>
<ellipse cx="474.1" cy="288.5" rx="1.6" ry="1.3" fill="#ffffff" transform="rotate(-30.2 474.1 288.5)"/>
<ellipse cx="478.1" cy="286.5" rx="2" ry="1.3" fill="#f4f4f4" transform="rotate(-10.3 478.1 286.5)"/>
<ellipse cx="482.6" cy="284.1" rx="2.2" ry="1.6" fill="#f4f4f4" transform="rotate(-12.2 482.6 284.1)"/>
<ellipse cx="487.2" cy="281.9" rx="2.4" ry="1.9" fill="#dcdcdc" transform="rotate(-40.5 487.2 281.9)"/>
<ellipse cx="491.3" cy="279.6" rx="2.2" ry="1.3" fill="#ffffff" transform="rotate(-12.6 491.3 279.6)"/>
<ellipse cx="496.1" cy="277.4" rx="2.1" ry="1.3" fill="#f8f8f8" transform="rotate(-41.5 496.1 277.4)"/>
<ellipse cx="500.6" cy="275.2" rx="2.1" ry="1.4" fill="#ffffff" transform="rotate(-12 500.6 275.2)"/>
<ellipse cx="505.1" cy="273.1" rx="1.6" ry="1.3" fill="#ebebeb" transform="rotate(-14.9 505.1 273.1)"/>
<ellipse cx="509.7" cy="271.2" rx="1.6" ry="1.2" fill="#ebebeb" transform="rotate(-41.3 509.7 271.2)"/>
<ellipse cx="514.1" cy="268.9" rx="1.8" ry="1.1" fill="#ebebeb" transform="rotate(-21.5 514.1 268.9)"/>
<ellipse cx="518.7" cy="267.1" rx="1.6" ry="1.1" fill="#ebebeb" transform="rotate(-31.6 518.7 267.1)"/>
<ellipse cx="523.1" cy="265.2" rx="1.7" ry="1.4" fill="#f8f8f8" transform="rotate(-25.4 523.1 265.2)"/>
<ellipse cx="527.6" cy="263.3" rx="1.8" ry="1.5" fill="#f4f4f4" transform="rotate(-13 527.6 263.3)"/>
<ellipse cx="532.1" cy="261.6" rx="2.4" ry="1.5" fill="#ebebeb" transform="rotate(-19.2 532.1 261.6)"/>
<ellipse cx="536.8" cy="260.2" rx="1.8" ry="1.2" fill="#f4f4f4" transform="rotate(-26.3 536.8 260.2)"/>
<ellipse cx="541.6" cy="258.4" rx="1.8" ry="1.1" fill="#ebebeb" transform="rotate(-26.1 541.6 258.4)"/>
<ellipse cx="546.2" cy="256.4" rx="1.9" ry="1.5" fill="#ffffff" transform="rotate(0.5 546.2 256.4)"/>
<ellipse cx="550.4" cy="255" rx="2" ry="1.3" fill="#ebebeb" transform="rotate(-5.1 550.4 255)"/>
<ellipse cx="555.3" cy="252.8" rx="2.3" ry="1.6" fill="#ebebeb" transform="rotate(-11.1 555.3 252.8)"/>
<ellipse cx="559.7" cy="251.4" rx="1.9" ry="1.2" fill="#ffffff" transform="rotate(-32.7 559.7 251.4)"/>
<ellipse cx="466.5" cy="298.4" rx="2.1" ry="1.3" fill="#ffffff" transform="rotate(-38.3 466.5 298.4)"/>
<ellipse cx="471.3" cy="295.9" rx="2.3" ry="1.7" fill="#ffffff" transform="rotate(-24.2 471.3 295.9)"/>
<ellipse cx="475.1" cy="293.3" rx="2.5" ry="1.8" fill="#ffffff" transform="rotate(-13.2 475.1 293.3)"/>
<ellipse cx="479.7" cy="290.9" rx="1.7" ry="1.2" fill="#f4f4f4" transform="rotate(-8.9 479.7 290.9)"/>
<ellipse cx="483.9" cy="288.7" rx="1.8" ry="1.5" fill="#dcdcdc" transform="rotate(-28.3 483.9 288.7)"/>
<ellipse cx="488.3" cy="286.2" rx="2.1" ry="1.7" fill="#ffffff" transform="rotate(-36.9 488.3 286.2)"/>
<ellipse cx="493" cy="284.4" rx="2" ry="1.5" fill="#f4f4f4" transform="rotate(-31 493 284.4)"/>
<ellipse cx="497.7" cy="281.9" rx="1.7" ry="1" fill="#f8f8f8" transform="rotate(-32 497.7 281.9)"/>
<ellipse cx="501.9" cy="279.9" rx="2.2" ry="1.4" fill="#f4f4f4" transform="rotate(-10.1 501.9 279.9)"/>
<ellipse cx="506.2" cy="277.6" rx="2.3" ry="1.7" fill="#f4f4f4" transform="rotate(-17.5 506.2 277.6)"/>
<ellipse cx="510.8" cy="275.8" rx="2.3" ry="1.6" fill="#f4f4f4" transform="rotate(-40.7 510.8 275.8)"/>
<ellipse cx="515.1" cy="273.1" rx="2" ry="1.5" fill="#f4f4f4" transform="rotate(-7.2 515.1 273.1)"/>
<ellipse cx="519.8" cy="271.3" rx="2.3" ry="1.8" fill="#ffffff" transform="rotate(-20.2 519.8 271.3)"/>
<ellipse cx="524.4" cy="269.2" rx="1.6" ry="1.2" fill="#f8f8f8" transform="rotate(-15.4 524.4 269.2)"/>
<ellipse cx="528.9" cy="267.8" rx="2.4" ry="1.6" fill="#ebebeb" transform="rotate(-44.4 528.9 267.8)"/>
<ellipse cx="533.4" cy="265.6" rx="1.9" ry="1.3" fill="#f4f4f4" transform="rotate(-32.8 533.4 265.6)"/>
<ellipse cx="537.9" cy="264.1" rx="1.8" ry="1.3" fill="#f4f4f4" transform="rotate(-31.7 537.9 264.1)"/>
<ellipse cx="542.9" cy="262.1" rx="1.9" ry="1.5" fill="#f8f8f8" transform="rotate(-30.3 542.9 262.1)"/>
<ellipse cx="547.5" cy="260.2" rx="2.1" ry="1.6" fill="#ffffff" transform="rotate(-39.4 547.5 260.2)"/>
<ellipse cx="551.9" cy="258" rx="2.2" ry="1.8" fill="#ebebeb" transform="rotate(-45.2 551.9 258)"/>
<ellipse cx="556.6" cy="256.6" rx="1.7" ry="1.1" fill="#f4f4f4" transform="rotate(-4.7 556.6 256.6)"/>
<ellipse cx="561" cy="255.1" rx="2.3" ry="1.6" fill="#f4f4f4" transform="rotate(-15 561 255.1)"/>
<ellipse cx="566.1" cy="253" rx="1.7" ry="1" fill="#dcdcdc" transform="rotate(-28.7 566.1 253)"/>
<ellipse cx="468.1" cy="302.8" rx="1.7" ry="1.2" fill="#dcdcdc" transform="rotate(-9.4 468.1 302.8)"/>
<ellipse cx="472.4" cy="300.8" rx="1.7" ry="1.1" fill="#ffffff" transform="rotate(-40 472.4 300.8)"/>
<ellipse cx="476.5" cy="297.9" rx="2.3" ry="1.5" fill="#f8f8f8" transform="rotate(-2.9 476.5 297.9)"/>
<ellipse cx="481.5" cy="295.9" rx="1.8" ry="1.1" fill="#dcdcdc" transform="rotate(-16.1 481.5 295.9)"/>
<ellipse cx="485.8" cy="293.6" rx="2.1" ry="1.7" fill="#dcdcdc" transform="rotate(-37.1 485.8 293.6)"/>
<ellipse cx="490.1" cy="291.2" rx="2" ry="1.7" fill="#ebebeb" transform="rotate(-37.3 490.1 291.2)"/>
<ellipse cx="494.4" cy="289.2" rx="1.8" ry="1.3" fill="#ffffff" transform="rotate(-25.9 494.4 289.2)"/>
<ellipse cx="498.7" cy="286.8" rx="2" ry="1.3" fill="#ffffff" transform="rotate(-2.6 498.7 286.8)"/>
<ellipse cx="503.4" cy="284.2" rx="1.9" ry="1.3" fill="#f8f8f8" transform="rotate(0.7 503.4 284.2)"/>
<ellipse cx="507.6" cy="282.2" rx="1.8" ry="1.4" fill="#ebebeb" transform="rotate(-9.2 507.6 282.2)"/>
<ellipse cx="512.5" cy="280.3" rx="2.2" ry="1.6" fill="#dcdcdc" transform="rotate(-3.2 512.5 280.3)"/>
<ellipse cx="516.9" cy="277.8" rx="1.7" ry="1.2" fill="#ebebeb" transform="rotate(-11.5 516.9 277.8)"/>
<ellipse cx="521.5" cy="275.4" rx="2.1" ry="1.8" fill="#f4f4f4" transform="rotate(-29 521.5 275.4)"/>
<ellipse cx="525.5" cy="273.8" rx="2" ry="1.3" fill="#ebebeb" transform="rotate(-38.2 525.5 273.8)"/>
<ellipse cx="530.3" cy="271.8" rx="2.4" ry="1.9" fill="#dcdcdc" transform="rotate(-24 530.3 271.8)"/>
<ellipse cx="535.1" cy="270" rx="2.2" ry="1.8" fill="#f8f8f8" transform="rotate(-39.8 535.1 270)"/>
<ellipse cx="539.1" cy="267.5" rx="2.2" ry="1.7" fill="#f8f8f8" transform="rotate(-34.1 539.1 267.5)"/>
<ellipse cx="544.1" cy="266.1" rx="1.9" ry="1.6" fill="#f8f8f8" transform="rotate(-38.8 544.1 266.1)"/>
<ellipse cx="548.6" cy="263.9" rx="2.3" ry="1.5" fill="#ebebeb" transform="rotate(-41.9 548.6 263.9)"/>
<ellipse cx="553.2" cy="262.3" rx="2" ry="1.3" fill="#dcdcdc" transform="rotate(-31.6 553.2 262.3)"/>
<ellipse cx="557.5" cy="260.1" rx="1.9" ry="1.3" fill="#ffffff" transform="rotate(-31.8 557.5 260.1)"/>
<ellipse cx="562.6" cy="258.2" rx="2" ry="1.2" fill="#ffffff" transform="rotate(-45.3 562.6 258.2)"/>
<ellipse cx="567.1" cy="256.6" rx="2" ry="1.3" fill="#ebebeb" transform="rotate(-16.5 567.1 256.6)"/>
<ellipse cx="473.8" cy="306" rx="2.1" ry="1.7" fill="#ffffff" transform="rotate(-17.8 473.8 306)"/>
<ellipse cx="477.9" cy="303.1" rx="2.1" ry="1.3" fill="#f8f8f8" transform="rotate(-42.9 477.9 303.1)"/>
<ellipse cx="482.5" cy="300.6" rx="2.2" ry="1.6" fill="#ffffff" transform="rotate(-5.8 482.5 300.6)"/>
<ellipse cx="487" cy="298.1" rx="2.4" ry="1.8" fill="#ffffff" transform="rotate(-17.6 487 298.1)"/>
<ellipse cx="491.7" cy="295.9" rx="1.9" ry="1.6" fill="#dcdcdc" transform="rotate(-30 491.7 295.9)"/>
<ellipse cx="495.8" cy="293.9" rx="2.2" ry="1.5" fill="#f4f4f4" transform="rotate(-16.6 495.8 293.9)"/>
<ellipse cx="500.2" cy="291.3" rx="1.8" ry="1.2" fill="#ffffff" transform="rotate(-32 500.2 291.3)"/>
<ellipse cx="504.6" cy="289.1" rx="2.2" ry="1.4" fill="#f8f8f8" transform="rotate(-40.2 504.6 289.1)"/>
<ellipse cx="509" cy="286.8" rx="2.2" ry="1.7" fill="#ffffff" transform="rotate(-43.9 509 286.8)"/>
<ellipse cx="513.4" cy="284.7" rx="2" ry="1.5" fill="#ffffff" transform="rotate(-25.6 513.4 284.7)"/>
<ellipse cx="518" cy="282.5" rx="2.1" ry="1.8" fill="#dcdcdc" transform="rotate(-4.7 518 282.5)"/>
<ellipse cx="522.9" cy="280.3" rx="2.2" ry="1.4" fill="#f8f8f8" transform="rotate(2.5 522.9 280.3)"/>
<ellipse cx="527.4" cy="277.8" rx="1.9" ry="1.2" fill="#ebebeb" transform="rotate(-0.2 527.4 277.8)"/>
<ellipse cx="532" cy="275.9" rx="2.2" ry="1.9" fill="#f4f4f4" transform="rotate(-40.1 532 275.9)"/>
<ellipse cx="536.4" cy="273.9" rx="1.9" ry="1.2" fill="#f8f8f8" transform="rotate(-46.8 536.4 273.9)"/>
<ellipse cx="540.9" cy="271.7" rx="1.7" ry="1.1" fill="#dcdcdc" transform="rotate(-21.5 540.9 271.7)"/>
<ellipse cx="545.1" cy="269.8" rx="1.9" ry="1.2" fill="#f8f8f8" transform="rotate(-35.1 545.1 269.8)"/>
<ellipse cx="549.9" cy="267.9" rx="2.1" ry="1.7" fill="#dcdcdc" transform="rotate(-32 549.9 267.9)"/>
<ellipse cx="554.4" cy="266" rx="1.8" ry="1.5" fill="#ffffff" transform="rotate(-37.5 554.4 266)"/>
<ellipse cx="558.8" cy="264" rx="1.9" ry="1.6" fill="#ebebeb" transform="rotate(-7.9 558.8 264)"/>
<ellipse cx="563.5" cy="262" rx="1.7" ry="1.1" fill="#f4f4f4" transform="rotate(-41.9 563.5 262)"/>
<ellipse cx="568.5" cy="259.9" rx="2.3" ry="1.7" fill="#dcdcdc" transform="rotate(-1.3 568.5 259.9)"/>
<ellipse cx="573.2" cy="258.4" rx="1.8" ry="1.2" fill="#ebebeb" transform="rotate(-32 573.2 258.4)"/>
<ellipse cx="475" cy="310.5" rx="2.4" ry="2" fill="#ebebeb" transform="rotate(-23.8 475 310.5)"/>
<ellipse cx="479.3" cy="307.9" rx="2.3" ry="1.8" fill="#dcdcdc" transform="rotate(-36.4 479.3 307.9)"/>
<ellipse cx="484.1" cy="305.5" rx="2" ry="1.5" fill="#ffffff" transform="rotate(-24.4 484.1 305.5)"/>
<ellipse cx="488.1" cy="303.1" rx="1.9" ry="1.3" fill="#dcdcdc" transform="rotate(-23 488.1 303.1)"/>
<ellipse cx="493" cy="301.1" rx="2.1" ry="1.4" fill="#f8f8f8" transform="rotate(-29.7 493 301.1)"/>
<ellipse cx="497.1" cy="298.3" rx="2.4" ry="1.8" fill="#f8f8f8" transform="rotate(-39.8 497.1 298.3)"/>
<ellipse cx="501.3" cy="296.2" rx="2" ry="1.2" fill="#ebebeb" transform="rotate(-42.9 501.3 296.2)"/>
<ellipse cx="505.9" cy="293.7" rx="2.2" ry="1.5" fill="#f4f4f4" transform="rotate(-37 505.9 293.7)"/>
<ellipse cx="510.9" cy="291.2" rx="2" ry="1.5" fill="#dcdcdc" transform="rotate(-23 510.9 291.2)"/>
<ellipse cx="515.3" cy="289.3" rx="2.1" ry="1.3" fill="#f4f4f4" transform="rotate(-17.8 515.3 289.3)"/>
<ellipse cx="519.7" cy="287" rx="2.1" ry="1.6" fill="#dcdcdc" transform="rotate(-23.6 519.7 287)"/>
<ellipse cx="524" cy="284.9" rx="1.9" ry="1.4" fill="#dcdcdc" transform="rotate(-39.3 524 284.9)"/>
<ellipse cx="528.7" cy="282.4" rx="2.2" ry="1.8" fill="#dcdcdc" transform="rotate(-15.1 528.7 282.4)"/>
<ellipse cx="532.8" cy="280.3" rx="2.2" ry="1.4" fill="#ffffff" transform="rotate(-16.8 532.8 280.3)"/>
<ellipse cx="537.8" cy="278.4" rx="1.8" ry="1.3" fill="#f4f4f4" transform="rotate(-33.8 537.8 278.4)"/>
<ellipse cx="541.9" cy="276" rx="2.5" ry="1.5" fill="#ebebeb" transform="rotate(-31.7 541.9 276)"/>
<ellipse cx="546.4" cy="273.7" rx="2.2" ry="1.9" fill="#f8f8f8" transform="rotate(-25.2 546.4 273.7)"/>
<ellipse cx="551.1" cy="271.8" rx="2.1" ry="1.3" fill="#f8f8f8" transform="rotate(-0.4 551.1 271.8)"/>
<ellipse cx="555.5" cy="270.1" rx="2.1" ry="1.6" fill="#f4f4f4" transform="rotate(-22.1 555.5 270.1)"/>
<ellipse cx="560.5" cy="267.7" rx="2.1" ry="1.5" fill="#dcdcdc" transform="rotate(-6.9 560.5 267.7)"/>
<ellipse cx="565.1" cy="265.5" rx="1.9" ry="1.5" fill="#f4f4f4" transform="rotate(-19 565.1 265.5)"/>
<ellipse cx="569.8" cy="263.9" rx="1.8" ry="1.5" fill="#f8f8f8" transform="rotate(-22.7 569.8 263.9)"/>
<ellipse cx="574.2" cy="261.9" rx="2.3" ry="1.6" fill="#f8f8f8" transform="rotate(-25.2 574.2 261.9)"/>
<ellipse cx="480.9" cy="313.6" rx="2" ry="1.5" fill="#f4f4f4" transform="rotate(-43.1 480.9 313.6)"/>
<ellipse cx="485.5" cy="310.9" rx="2.1" ry="1.6" fill="#f4f4f4" transform="rotate(-46.6 485.5 310.9)"/>
<ellipse cx="489.9" cy="308.4" rx="1.8" ry="1.1" fill="#ffffff" transform="rotate(-5.9 489.9 308.4)"/>
<ellipse cx="493.9" cy="305.8" rx="2.5" ry="2.1" fill="#ffffff" transform="rotate(-30.6 493.9 305.8)"/>
<ellipse cx="498.8" cy="303.4" rx="2.1" ry="1.6" fill="#ebebeb" transform="rotate(-11.6 498.8 303.4)"/>
<ellipse cx="503.4" cy="301" rx="1.9" ry="1.5" fill="#dcdcdc" transform="rotate(-31.2 503.4 301)"/>
<ellipse cx="507.7" cy="298.7" rx="1.6" ry="1.4" fill="#f4f4f4" transform="rotate(-37.8 507.7 298.7)"/>
<ellipse cx="512.3" cy="296.1" rx="1.8" ry="1.4" fill="#f4f4f4" transform="rotate(-25.2 512.3 296.1)"/>
<ellipse cx="516.2" cy="293.9" rx="2.5" ry="1.7" fill="#f8f8f8" transform="rotate(-34.4 516.2 293.9)"/>
<ellipse cx="520.8" cy="291.2" rx="1.7" ry="1.1" fill="#ebebeb" transform="rotate(-33 520.8 291.2)"/>
<ellipse cx="525.2" cy="289.5" rx="2.4" ry="2.1" fill="#ffffff" transform="rotate(-15.9 525.2 289.5)"/>
<ellipse cx="529.9" cy="286.7" rx="2" ry="1.4" fill="#f4f4f4" transform="rotate(-14 529.9 286.7)"/>
<ellipse cx="534.7" cy="284.4" rx="1.8" ry="1.1" fill="#f4f4f4" transform="rotate(-31.5 534.7 284.4)"/>
<ellipse cx="539.3" cy="282.2" rx="2.2" ry="1.5" fill="#ffffff" transform="rotate(-41.6 539.3 282.2)"/>
<ellipse cx="543.8" cy="280.3" rx="1.9" ry="1.2" fill="#ffffff" transform="rotate(-47 543.8 280.3)"/>
<ellipse cx="547.9" cy="278.1" rx="2.5" ry="2" fill="#f4f4f4" transform="rotate(-29.2 547.9 278.1)"/>
<ellipse cx="552.9" cy="276.2" rx="1.8" ry="1.3" fill="#dcdcdc" transform="rotate(-47 552.9 276.2)"/>
<ellipse cx="557.2" cy="274" rx="2.5" ry="1.6" fill="#dcdcdc" transform="rotate(-8.4 557.2 274)"/>
<ellipse cx="561.6" cy="271.6" rx="1.8" ry="1.2" fill="#dcdcdc" transform="rotate(-16.3 561.6 271.6)"/>
<ellipse cx="566.3" cy="269.7" rx="2.2" ry="1.6" fill="#ebebeb" transform="rotate(-37.2 566.3 269.7)"/>
<ellipse cx="571" cy="267.1" rx="2" ry="1.4" fill="#f8f8f8" transform="rotate(-30.5 571 267.1)"/>
<ellipse cx="575.3" cy="265.2" rx="2.1" ry="1.4" fill="#f8f8f8" transform="rotate(-23.2 575.3 265.2)"/>
<ellipse cx="579.8" cy="263" rx="2.5" ry="1.8" fill="#ebebeb" transform="rotate(2.1 579.8 263)"/>
<ellipse cx="482.1" cy="318.4" rx="2.1" ry="1.3" fill="#f4f4f4" transform="rotate(-44.8 482.1 318.4)"/>
<ellipse cx="486.6" cy="316" rx="2.2" ry="1.5" fill="#f4f4f4" transform="rotate(-13 486.6 316)"/>
<ellipse cx="491.3" cy="313.2" rx="1.8" ry="1.5" fill="#f8f8f8" transform="rotate(-18.7 491.3 313.2)"/>
<ellipse cx="495.8" cy="310.8" rx="1.7" ry="1.2" fill="#ffffff" transform="rotate(-3 495.8 310.8)"/>
<ellipse cx="499.8" cy="308.7" rx="2" ry="1.7" fill="#dcdcdc" transform="rotate(-0.6 499.8 308.7)"/>
<ellipse cx="504.6" cy="305.6" rx="1.8" ry="1.4" fill="#ebebeb" transform="rotate(-13.3 504.6 305.6)"/>
<ellipse cx="508.6" cy="303.3" rx="2" ry="1.3" fill="#f4f4f4" transform="rotate(-28.3 508.6 303.3)"/>
<ellipse cx="513.3" cy="301.1" rx="2.1" ry="1.7" fill="#f4f4f4" transform="rotate(-17.5 513.3 301.1)"/>
<ellipse cx="518" cy="298.9" rx="1.7" ry="1.4" fill="#ffffff" transform="rotate(-8.5 518 298.9)"/>
<ellipse cx="522.6" cy="296.2" rx="2" ry="1.6" fill="#ffffff" transform="rotate(-25.9 522.6 296.2)"/>
<ellipse cx="526.6" cy="293.7" rx="1.8" ry="1.1" fill="#ebebeb" transform="rotate(0.2 526.6 293.7)"/>
<ellipse cx="531.2" cy="291.5" rx="1.9" ry="1.5" fill="#f8f8f8" transform="rotate(-31 531.2 291.5)"/>
<ellipse cx="535.7" cy="289.5" rx="2.5" ry="2" fill="#ebebeb" transform="rotate(-36.3 535.7 289.5)"/>
<ellipse cx="540.5" cy="286.8" rx="1.9" ry="1.3" fill="#dcdcdc" transform="rotate(-30.9 540.5 286.8)"/>
<ellipse cx="545" cy="284.8" rx="1.8" ry="1.2" fill="#f8f8f8" transform="rotate(-25.4 545 284.8)"/>
<ellipse cx="549.6" cy="282.6" rx="2.2" ry="1.6" fill="#dcdcdc" transform="rotate(-37.7 549.6 282.6)"/>
<ellipse cx="553.9" cy="279.9" rx="1.7" ry="1.3" fill="#ebebeb" transform="rotate(-12.4 553.9 279.9)"/>
<ellipse cx="558.7" cy="278.1" rx="2.4" ry="1.7" fill="#f8f8f8" transform="rotate(-13 558.7 278.1)"/>
<ellipse cx="563.4" cy="275.4" rx="1.9" ry="1.5" fill="#f4f4f4" transform="rotate(-12.8 563.4 275.4)"/>
<ellipse cx="568" cy="273.3" rx="2.1" ry="1.4" fill="#f8f8f8" transform="rotate(-11.8 568 273.3)"/>
<ellipse cx="572" cy="271.5" rx="2" ry="1.5" fill="#f8f8f8" transform="rotate(-31.2 572 271.5)"/>
<ellipse cx="576.6" cy="268.9" rx="2.5" ry="1.9" fill="#f8f8f8" transform="rotate(-16.9 576.6 268.9)"/>
<ellipse cx="581.5" cy="266.7" rx="2.2" ry="1.8" fill="#ffffff" transform="rotate(-18.2 581.5 266.7)"/>
<ellipse cx="488" cy="321.1" rx="2.2" ry="1.8" fill="#f4f4f4" transform="rotate(-22.5 488 321.1)"/>
<ellipse cx="492.4" cy="318.3" rx="2" ry="1.6" fill="#dcdcdc" transform="rotate(-34.5 492.4 318.3)"/>
<ellipse cx="497.1" cy="316.1" rx="2.3" ry="1.8" fill="#f4f4f4" transform="rotate(-17.9 497.1 316.1)"/>
<ellipse cx="501.4" cy="313" rx="1.7" ry="1.3" fill="#ebebeb" transform="rotate(-33.3 501.4 313)"/>
<ellipse cx="505.9" cy="310.9" rx="1.9" ry="1.1" fill="#ffffff" transform="rotate(-40.7 505.9 310.9)"/>
<ellipse cx="510.5" cy="308.1" rx="2.1" ry="1.6" fill="#ebebeb" transform="rotate(-9.9 510.5 308.1)"/>
<ellipse cx="514.5" cy="305.9" rx="1.9" ry="1.5" fill="#f4f4f4" transform="rotate(-18.2 514.5 305.9)"/>
<ellipse cx="519.5" cy="303.4" rx="2" ry="1.2" fill="#f4f4f4" transform="rotate(-19.9 519.5 303.4)"/>
<ellipse cx="523.8" cy="301.3" rx="2.2" ry="1.6" fill="#f4f4f4" transform="rotate(-15.9 523.8 301.3)"/>
<ellipse cx="528.2" cy="298.4" rx="2.2" ry="1.6" fill="#ffffff" transform="rotate(-26.5 528.2 298.4)"/>
<ellipse cx="533.1" cy="296.2" rx="1.9" ry="1.4" fill="#f8f8f8" transform="rotate(-6.5 533.1 296.2)"/>
<ellipse cx="537.1" cy="293.6" rx="2.3" ry="1.8" fill="#f8f8f8" transform="rotate(-41.3 537.1 293.6)"/>
<ellipse cx="541.9" cy="291.7" rx="2.3" ry="1.8" fill="#ffffff" transform="rotate(-37.7 541.9 291.7)"/>
<ellipse cx="546.5" cy="289" rx="2.4" ry="1.6" fill="#f8f8f8" transform="rotate(2.2 546.5 289)"/>
<ellipse cx="550.7" cy="286.6" rx="1.8" ry="1.4" fill="#ffffff" transform="rotate(-13.7 550.7 286.6)"/>
<ellipse cx="555.4" cy="284" rx="2.3" ry="1.9" fill="#f8f8f8" transform="rotate(-9.6 555.4 284)"/>
<ellipse cx="559.8" cy="281.8" rx="2" ry="1.7" fill="#f4f4f4" transform="rotate(-43.1 559.8 281.8)"/>
<ellipse cx="564.5" cy="280" rx="2" ry="1.2" fill="#f8f8f8" transform="rotate(-2.1 564.5 280)"/>
<ellipse cx="569" cy="277.2" rx="2.1" ry="1.8" fill="#dcdcdc" transform="rotate(-17.2 569 277.2)"/>
<ellipse cx="573.2" cy="275.1" rx="1.9" ry="1.6" fill="#ebebeb" transform="rotate(-8.1 573.2 275.1)"/>
<ellipse cx="578.1" cy="272.9" rx="2" ry="1.3" fill="#ebebeb" transform="rotate(-38.6 578.1 272.9)"/>
<ellipse cx="582.9" cy="270.3" rx="2.2" ry="1.4" fill="#ffffff" transform="rotate(-19.1 582.9 270.3)"/>
<ellipse cx="587.4" cy="268" rx="1.7" ry="1.3" fill="#ffffff" transform="rotate(-20.5 587.4 268)"/>
<ellipse cx="489.1" cy="325.8" rx="1.8" ry="1.2" fill="#ebebeb" transform="rotate(-41.6 489.1 325.8)"/>
<ellipse cx="493.9" cy="323.5" rx="2" ry="1.4" fill="#ebebeb" transform="rotate(1.1 493.9 323.5)"/>
<ellipse cx="498.3" cy="320.9" rx="1.9" ry="1.2" fill="#f4f4f4" transform="rotate(-3.2 498.3 320.9)"/>
<ellipse cx="502.4" cy="318.3" rx="2.3" ry="1.4" fill="#ebebeb" transform="rotate(-0.7 502.4 318.3)"/>
<ellipse cx="507.2" cy="315.4" rx="1.7" ry="1.3" fill="#f4f4f4" transform="rotate(-40.2 507.2 315.4)"/>
<ellipse cx="512" cy="313.1" rx="1.8" ry="1.2" fill="#ebebeb" transform="rotate(-34.2 512 313.1)"/>
<ellipse cx="515.9" cy="310.8" rx="2.2" ry="1.7" fill="#ebebeb" transform="rotate(-38.1 515.9 310.8)"/>
<ellipse cx="520.6" cy="308" rx="1.9" ry="1.3" fill="#f4f4f4" transform="rotate(1.2 520.6 308)"/>
<ellipse cx="525.4" cy="305.8" rx="2.4" ry="1.9" fill="#ffffff" transform="rotate(-1.9 525.4 305.8)"/>
<ellipse cx="530" cy="303" rx="1.6" ry="1.3" fill="#ebebeb" transform="rotate(-34 530 303)"/>
<ellipse cx="534.4" cy="301.1" rx="2.4" ry="1.6" fill="#f8f8f8" transform="rotate(-8.3 534.4 301.1)"/>
<ellipse cx="538.5" cy="298.1" rx="1.8" ry="1.5" fill="#ebebeb" transform="rotate(-15.3 538.5 298.1)"/>
<ellipse cx="542.9" cy="296" rx="2.6" ry="1.6" fill="#ebebeb" transform="rotate(-26.5 542.9 296)"/>
<ellipse cx="547.6" cy="293.5" rx="1.7" ry="1.2" fill="#dcdcdc" transform="rotate(0.3 547.6 293.5)"/>
<ellipse cx="552.3" cy="291.2" rx="2.2" ry="1.8" fill="#f8f8f8" transform="rotate(-12 552.3 291.2)"/>
<ellipse cx="556.6" cy="288.8" rx="1.8" ry="1.4" fill="#dcdcdc" transform="rotate(-22.9 556.6 288.8)"/>
<ellipse cx="561.6" cy="286.6" rx="2.5" ry="2.1" fill="#ffffff" transform="rotate(-2 561.6 286.6)"/>
<ellipse cx="565.7" cy="283.8" rx="2" ry="1.7" fill="#f4f4f4" transform="rotate(-42.3 565.7 283.8)"/>
<ellipse cx="570.1" cy="281.2" rx="1.8" ry="1.4" fill="#f4f4f4" transform="rotate(-43.4 570.1 281.2)"/>
<ellipse cx="574.8" cy="278.8" rx="2.4" ry="1.8" fill="#dcdcdc" transform="rotate(-3.4 574.8 278.8)"/>
<ellipse cx="579.6" cy="276.9" rx="1.9" ry="1.3" fill="#f8f8f8" transform="rotate(-33.1 579.6 276.9)"/>
<ellipse cx="584.3" cy="274.3" rx="1.8" ry="1.5" fill="#ffffff" transform="rotate(-40.9 584.3 274.3)"/>
<ellipse cx="588.8" cy="271.9" rx="2.2" ry="1.6" fill="#ebebeb" transform="rotate(-28.5 588.8 271.9)"/>
<ellipse cx="495" cy="328.3" rx="2.5" ry="1.9" fill="#ebebeb" transform="rotate(-12.6 495 328.3)"/>
<ellipse cx="499.3" cy="325.7" rx="2.3" ry="1.9" fill="#dcdcdc" transform="rotate(-2.4 499.3 325.7)"/>
<ellipse cx="504.1" cy="323.2" rx="2.1" ry="1.6" fill="#f4f4f4" transform="rotate(-45.9 504.1 323.2)"/>
<ellipse cx="508.6" cy="320.7" rx="1.7" ry="1.2" fill="#ffffff" transform="rotate(-15.3 508.6 320.7)"/>
<ellipse cx="512.9" cy="318" rx="2.2" ry="1.6" fill="#ebebeb" transform="rotate(-39.4 512.9 318)"/>
<ellipse cx="517.2" cy="315.8" rx="2.1" ry="1.6" fill="#dcdcdc" transform="rotate(-39.9 517.2 315.8)"/>
<ellipse cx="522.3" cy="312.9" rx="2.1" ry="1.3" fill="#f4f4f4" transform="rotate(-12.2 522.3 312.9)"/>
<ellipse cx="526.3" cy="310.5" rx="2.3" ry="1.8" fill="#f4f4f4" transform="rotate(-26.6 526.3 310.5)"/>
<ellipse cx="531" cy="308.3" rx="1.9" ry="1.5" fill="#dcdcdc" transform="rotate(-37.6 531 308.3)"/>
<ellipse cx="535.7" cy="305.9" rx="1.9" ry="1.5" fill="#f8f8f8" transform="rotate(-16.1 535.7 305.9)"/>
<ellipse cx="540.4" cy="303.1" rx="2.2" ry="1.3" fill="#f8f8f8" transform="rotate(-34.6 540.4 303.1)"/>
<ellipse cx="544.8" cy="300.8" rx="2.3" ry="1.6" fill="#ebebeb" transform="rotate(-14.8 544.8 300.8)"/>
<ellipse cx="548.8" cy="298.2" rx="2.7" ry="2.1" fill="#f8f8f8" transform="rotate(-37.7 548.8 298.2)"/>
<ellipse cx="553.7" cy="295.4" rx="2" ry="1.5" fill="#ebebeb" transform="rotate(-11.8 553.7 295.4)"/>
<ellipse cx="558.4" cy="292.8" rx="1.6" ry="1.3" fill="#f8f8f8" transform="rotate(-4.1 558.4 292.8)"/>
<ellipse cx="562.4" cy="290.9" rx="2.6" ry="2" fill="#f8f8f8" transform="rotate(-25.8 562.4 290.9)"/>
<ellipse cx="567.1" cy="288" rx="2.1" ry="1.4" fill="#f8f8f8" transform="rotate(-46.9 567.1 288)"/>
<ellipse cx="572" cy="285.8" rx="1.6" ry="1.3" fill="#ebebeb" transform="rotate(-30.1 572 285.8)"/>
<ellipse cx="576.5" cy="283.5" rx="1.7" ry="1.3" fill="#f8f8f8" transform="rotate(-36.1 576.5 283.5)"/>
<ellipse cx="580.4" cy="280.8" rx="2.3" ry="1.9" fill="#f8f8f8" transform="rotate(-34.9 580.4 280.8)"/>
<ellipse cx="585.5" cy="278.2" rx="1.8" ry="1.4" fill="#dcdcdc" transform="rotate(-4.6 585.5 278.2)"/>
<ellipse cx="590.1" cy="275.6" rx="2" ry="1.2" fill="#ebebeb" transform="rotate(-15.3 590.1 275.6)"/>
<ellipse cx="594.3" cy="273.6" rx="1.9" ry="1.2" fill="#ebebeb" transform="rotate(-34.1 594.3 273.6)"/>
<ellipse cx="496.5" cy="333.5" rx="2" ry="1.5" fill="#f8f8f8" transform="rotate(-40.6 496.5 333.5)"/>
<ellipse cx="501" cy="330.9" rx="2.4" ry="2" fill="#ffffff" transform="rotate(-30.9 501 330.9)"/>
<ellipse cx="505.1" cy="328.6" rx="2.7" ry="1.9" fill="#f4f4f4" transform="rotate(-30.5 505.1 328.6)"/>
<ellipse cx="509.8" cy="325.6" rx="2.2" ry="1.8" fill="#f4f4f4" transform="rotate(-21 509.8 325.6)"/>
<ellipse cx="514.5" cy="323.3" rx="2.4" ry="1.8" fill="#dcdcdc" transform="rotate(-32.3 514.5 323.3)"/>
<ellipse cx="519.2" cy="320.9" rx="2.2" ry="1.5" fill="#dcdcdc" transform="rotate(-30.4 519.2 320.9)"/>
<ellipse cx="523.7" cy="318" rx="2.2" ry="1.7" fill="#f8f8f8" transform="rotate(-9.7 523.7 318)"/>
<ellipse cx="527.8" cy="315.2" rx="2" ry="1.7" fill="#ffffff" transform="rotate(-38.8 527.8 315.2)"/>
<ellipse cx="532.7" cy="313.1" rx="1.7" ry="1" fill="#dcdcdc" transform="rotate(-42.1 532.7 313.1)"/>
<ellipse cx="536.6" cy="310.2" rx="2.4" ry="1.7" fill="#ebebeb" transform="rotate(-21.7 536.6 310.2)"/>
<ellipse cx="541.3" cy="307.7" rx="1.8" ry="1.5" fill="#ffffff" transform="rotate(-39 541.3 307.7)"/>
<ellipse cx="545.9" cy="305.4" rx="2.1" ry="1.2" fill="#f4f4f4" transform="rotate(-40 545.9 305.4)"/>
<ellipse cx="550.7" cy="302.4" rx="1.7" ry="1.3" fill="#dcdcdc" transform="rotate(-32.2 550.7 302.4)"/>
<ellipse cx="554.9" cy="300.2" rx="2" ry="1.4" fill="#f4f4f4" transform="rotate(-40.8 554.9 300.2)"/>
<ellipse cx="559.8" cy="297.8" rx="2.5" ry="1.6" fill="#f4f4f4" transform="rotate(-10.9 559.8 297.8)"/>
<ellipse cx="564.1" cy="294.8" rx="2.2" ry="1.6" fill="#dcdcdc" transform="rotate(-22.8 564.1 294.8)"/>
<ellipse cx="568.5" cy="292.7" rx="1.9" ry="1.2" fill="#dcdcdc" transform="rotate(-6.8 568.5 292.7)"/>
<ellipse cx="572.8" cy="290" rx="2.6" ry="2.1" fill="#ebebeb" transform="rotate(-20.7 572.8 290)"/>
<ellipse cx="577.4" cy="287.2" rx="2.5" ry="1.9" fill="#ffffff" transform="rotate(-3.2 577.4 287.2)"/>
<ellipse cx="581.8" cy="284.8" rx="2" ry="1.6" fill="#ffffff" transform="rotate(-15.8 581.8 284.8)"/>
<ellipse cx="586.7" cy="282.2" rx="2.4" ry="2" fill="#ffffff" transform="rotate(-11.1 586.7 282.2)"/>
<ellipse cx="591.3" cy="279.5" rx="2" ry="1.3" fill="#f4f4f4" transform="rotate(-39.5 591.3 279.5)"/>
<ellipse cx="595.8" cy="276.9" rx="1.9" ry="1.2" fill="#f8f8f8" transform="rotate(-46.1 595.8 276.9)"/>
<g>
<circle cx="440.5" cy="289.4" r="1.3" fill="#50e048"/>
<circle cx="439.1" cy="290.7" r="1.2" fill="#38cc30"/>
<circle cx="442.7" cy="292.9" r="1.5" fill="#38cc30"/>
<circle cx="437.7" cy="293.8" r="1.4" fill="#38cc30"/>
<circle cx="440.2" cy="289.3" r="1" fill="#30b428"/>
<circle cx="433.5" cy="291.3" r="1.3" fill="#48dc40"/>
<circle cx="441.8" cy="288.6" r="1.2" fill="#48dc40"/>
<circle cx="435" cy="288.2" r="1" fill="#38cc30"/>
<circle cx="433.2" cy="291.2" r="1.7" fill="#30b428"/>
<circle cx="446.6" cy="290.2" r="1.7" fill="#38cc30"/>
<circle cx="438.6" cy="292.7" r="1.3" fill="#70f060"/>
<circle cx="432.9" cy="287.4" r="1" fill="#70f060"/>
<circle cx="434.1" cy="293.1" r="1.4" fill="#70f060"/>
<circle cx="448" cy="288" r="1.8" fill="#70f060"/>
<circle cx="443.6" cy="286.9" r="1.7" fill="#70f060"/>
<circle cx="440.9" cy="290.6" r="1.7" fill="#48dc40"/>
<circle cx="428.2" cy="293" r="1.5" fill="#70f060"/>
<circle cx="444.7" cy="287" r="1.8" fill="#38cc30"/>
<circle cx="440.6" cy="290.9" r="1.3" fill="#30b428"/>
<circle cx="438.7" cy="285.5" r="1.1" fill="#50e048"/>
<circle cx="443.2" cy="286.3" r="1.8" fill="#38cc30"/>
<circle cx="431.3" cy="293.1" r="1.7" fill="#30b428"/>
<circle cx="445.3" cy="290.8" r="1.4" fill="#70f060"/>
<circle cx="444.8" cy="288.9" r="1.5" fill="#50e048"/>
<circle cx="425.8" cy="289.7" r="1.5" fill="#30b428"/>
<circle cx="446.9" cy="288.5" r="1.2" fill="#30b428"/>
<circle cx="435.8" cy="289.8" r="1.3" fill="#70f060"/>
<circle cx="425.2" cy="291.1" r="1.1" fill="#48dc40"/>
<circle cx="438.3" cy="288.4" r="1.5" fill="#38cc30"/>
<circle cx="439.3" cy="284.3" r="1.7" fill="#38cc30"/>
<circle cx="428.1" cy="288" r="1.4" fill="#48dc40"/>
<circle cx="429.4" cy="291.5" r="1.6" fill="#30b428"/>
<circle cx="432.6" cy="293.8" r="1.3" fill="#70f060"/>
<circle cx="444.1" cy="292.6" r="1.6" fill="#70f060"/>
<circle cx="433.1" cy="285.6" r="1.1" fill="#50e048"/>
<circle cx="435.9" cy="286.9" r="1.2" fill="#70f060"/>
<circle cx="439.7" cy="294.1" r="1.2" fill="#48dc40"/>
<circle cx="437" cy="294" r="1.6" fill="#50e048"/>
<circle cx="445.7" cy="290.2" r="1.7" fill="#70f060"/>
<circle cx="428.8" cy="288.5" r="1.6" fill="#38cc30"/>
<circle cx="427.7" cy="292.1" r="1.3" fill="#38cc30"/>
<circle cx="436.9" cy="292.3" r="1.2" fill="#70f060"/>
<circle cx="440.7" cy="290.9" r="1.8" fill="#48dc40"/>
<circle cx="432.6" cy="284.6" r="1.4" fill="#70f060"/>
<circle cx="432.3" cy="286.4" r="1.1" fill="#38cc30"/>
<circle cx="434.1" cy="292.8" r="1" fill="#50e048"/>
<circle cx="435.4" cy="292" r="1.2" fill="#38cc30"/>
<circle cx="429.8" cy="287.7" r="1.6" fill="#38cc30"/>
<circle cx="436.8" cy="291.3" r="1.5" fill="#70f060"/>
<circle cx="442.3" cy="285.8" r="1.6" fill="#50e048"/>
<circle cx="430.3" cy="292.1" r="1.8" fill="#30b428"/>
<circle cx="425.5" cy="288.7" r="1.2" fill="#30b428"/>
<circle cx="432.1" cy="290.8" r="1.7" fill="#30b428"/>
<circle cx="445.2" cy="290.5" r="1.8" fill="#38cc30"/>
<circle cx="447.7" cy="290.8" r="1.5" fill="#70f060"/>
<circle cx="435.9" cy="291" r="1.4" fill="#70f060"/>
<circle cx="436.6" cy="293" r="1.8" fill="#38cc30"/>
<circle cx="437.2" cy="286.4" r="1.6" fill="#30b428"/>
<circle cx="438.2" cy="294.1" r="1.4" fill="#50e048"/>
<circle cx="447.1" cy="290" r="1.4" fill="#30b428"/>
<circle cx="437" cy="285" r="1" fill="#70f060"/>
<circle cx="437.6" cy="294.5" r="1.4" fill="#70f060"/>
<circle cx="445" cy="290.7" r="1.7" fill="#70f060"/>
<circle cx="432.5" cy="287.7" r="1.2" fill="#50e048"/>
<circle cx="432.1" cy="284.9" r="1" fill="#30b428"/>
<circle cx="429.3" cy="290.3" r="1.7" fill="#48dc40"/>
<circle cx="443.1" cy="287.4" r="1.4" fill="#50e048"/>
<circle cx="432.2" cy="289.9" r="1.5" fill="#38cc30"/>
<circle cx="441.7" cy="291.6" r="1.2" fill="#70f060"/>
<circle cx="430.3" cy="293.6" r="1.6" fill="#70f060"/>
<circle cx="427.6" cy="286.5" r="1.3" fill="#50e048"/>
<circle cx="438.7" cy="291.6" r="1.2" fill="#38cc30"/>
<circle cx="444.7" cy="292.6" r="1.6" fill="#70f060"/>
<circle cx="435.4" cy="293.9" r="1.3" fill="#50e048"/>
<circle cx="429.6" cy="289.1" r="1.7" fill="#30b428"/>
<circle cx="432" cy="289.6" r="1.3" fill="#38cc30"/>
<circle cx="445.1" cy="290.9" r="1.3" fill="#70f060"/>
<circle cx="426.4" cy="287.9" r="1.1" fill="#48dc40"/>
<circle cx="440.6" cy="285.3" r="1.2" fill="#48dc40"/>
<circle cx="427.7" cy="286.8" r="1.2" fill="#48dc40"/>
<circle cx="434" cy="292.4" r="1.4" fill="#70f060"/>
<circle cx="443.8" cy="285.2" r="1.2" fill="#50e048"/>
<circle cx="433.5" cy="287.6" r="1.6" fill="#38cc30"/>
<circle cx="427.8" cy="289.9" r="1.7" fill="#38cc30"/>
<circle cx="426" cy="291.6" r="1.1" fill="#48dc40"/>
<circle cx="444" cy="293" r="1.3" fill="#30b428"/>
<circle cx="431.2" cy="289.5" r="1.4" fill="#50e048"/>
<circle cx="426.7" cy="289.3" r="1.2" fill="#38cc30"/>
<circle cx="429.9" cy="289.6" r="1.2" fill="#50e048"/>
<circle cx="435.8" cy="285.3" r="1.3" fill="#38cc30"/>
<circle cx="437.2" cy="287.9" r="1.7" fill="#48dc40"/>
<circle cx="435.3" cy="291.4" r="1.1" fill="#50e048"/>
<circle cx="440.6" cy="286.8" r="1.1" fill="#50e048"/>
<circle cx="431.2" cy="291.8" r="1.4" fill="#70f060"/>
<circle cx="433.5" cy="290.3" r="1.1" fill="#38cc30"/>
</g>
<g>
<circle cx="559.1" cy="244.4" r="1.7" fill="#70f060"/>
<circle cx="557.1" cy="246.6" r="1.4" fill="#48dc40"/>
<circle cx="569" cy="249.6" r="1.5" fill="#48dc40"/>
<circle cx="562.6" cy="249.6" r="1.4" fill="#70f060"/>
<circle cx="573.2" cy="244.7" r="1.2" fill="#70f060"/>
<circle cx="557" cy="245.5" r="1.6" fill="#30b428"/>
<circle cx="568" cy="243.7" r="1.3" fill="#38cc30"/>
<circle cx="567.7" cy="246.8" r="1.8" fill="#70f060"/>
<circle cx="575.6" cy="245.9" r="1.1" fill="#70f060"/>
<circle cx="569.9" cy="247.9" r="1.2" fill="#70f060"/>
<circle cx="563.6" cy="248.6" r="1.5" fill="#48dc40"/>
<circle cx="562.7" cy="247.3" r="1.1" fill="#50e048"/>
<circle cx="561" cy="248.9" r="1.5" fill="#50e048"/>
<circle cx="568.7" cy="246.6" r="1.6" fill="#50e048"/>
<circle cx="570.7" cy="246.9" r="1.2" fill="#38cc30"/>
<circle cx="563.3" cy="243.3" r="1.5" fill="#70f060"/>
<circle cx="560.5" cy="244.3" r="1.7" fill="#30b428"/>
<circle cx="572" cy="247.4" r="1.3" fill="#70f060"/>
<circle cx="572.9" cy="248.9" r="1" fill="#48dc40"/>
<circle cx="560.6" cy="242.9" r="1.7" fill="#38cc30"/>
<circle cx="572.9" cy="243.8" r="1.4" fill="#50e048"/>
<circle cx="573" cy="243" r="1.2" fill="#70f060"/>
<circle cx="560" cy="247.6" r="1.2" fill="#48dc40"/>
<circle cx="572.5" cy="245.2" r="1" fill="#30b428"/>
<circle cx="562.1" cy="250.3" r="1.1" fill="#38cc30"/>
<circle cx="570.7" cy="244.6" r="1.8" fill="#48dc40"/>
<circle cx="569.8" cy="249.6" r="1.3" fill="#30b428"/>
<circle cx="558.1" cy="247.7" r="1.7" fill="#70f060"/>
<circle cx="566" cy="242.3" r="1.4" fill="#50e048"/>
<circle cx="566.4" cy="247.4" r="1.2" fill="#48dc40"/>
<circle cx="568.9" cy="246.8" r="1.7" fill="#38cc30"/>
<circle cx="568.4" cy="245.6" r="1.7" fill="#50e048"/>
<circle cx="557.4" cy="243.9" r="1.5" fill="#50e048"/>
<circle cx="568.4" cy="244.5" r="1" fill="#50e048"/>
<circle cx="567.4" cy="244.4" r="1" fill="#50e048"/>
<circle cx="562.3" cy="244.8" r="1.4" fill="#50e048"/>
<circle cx="564.6" cy="247.2" r="1.7" fill="#30b428"/>
<circle cx="572.3" cy="242.5" r="1.6" fill="#50e048"/>
<circle cx="568.3" cy="242.8" r="1.2" fill="#70f060"/>
<circle cx="564.4" cy="247.5" r="1.3" fill="#70f060"/>
<circle cx="559.7" cy="248.7" r="1.2" fill="#50e048"/>
<circle cx="557.3" cy="245.2" r="1.2" fill="#38cc30"/>
<circle cx="563" cy="246.9" r="1.6" fill="#48dc40"/>
<circle cx="560.7" cy="246.6" r="1.6" fill="#50e048"/>
<circle cx="568.7" cy="246.2" r="1.3" fill="#70f060"/>
<circle cx="565.6" cy="243.7" r="1.5" fill="#50e048"/>
<circle cx="558.6" cy="246.1" r="1.5" fill="#70f060"/>
<circle cx="566.3" cy="247" r="1.1" fill="#50e048"/>
<circle cx="564.1" cy="247.4" r="1.8" fill="#30b428"/>
<circle cx="561.8" cy="249.8" r="1" fill="#38cc30"/>
<circle cx="564.4" cy="244.5" r="1.1" fill="#30b428"/>
<circle cx="559.8" cy="243.2" r="1.7" fill="#30b428"/>
<circle cx="567.6" cy="248" r="1.7" fill="#30b428"/>
<circle cx="571.1" cy="242.8" r="1.2" fill="#30b428"/>
<circle cx="572.4" cy="243.9" r="1.2" fill="#30b428"/>
<circle cx="568" cy="243" r="1.3" fill="#50e048"/>
<circle cx="561.7" cy="248.3" r="1.2" fill="#50e048"/>
<circle cx="569.3" cy="247.3" r="1.3" fill="#38cc30"/>
<circle cx="567.8" cy="244.5" r="1.2" fill="#38cc30"/>
<circle cx="571.8" cy="245" r="1.1" fill="#48dc40"/>
<circle cx="557.4" cy="246" r="1.3" fill="#50e048"/>
<circle cx="571.6" cy="243.9" r="1.3" fill="#48dc40"/>
<circle cx="573.8" cy="248.7" r="1.4" fill="#38cc30"/>
<circle cx="560.7" cy="245.9" r="1.4" fill="#48dc40"/>
<circle cx="559.2" cy="247.5" r="1.7" fill="#38cc30"/>
<circle cx="565" cy="246.3" r="1.1" fill="#30b428"/>
<circle cx="563.1" cy="250.1" r="1.7" fill="#70f060"/>
<circle cx="567.4" cy="244" r="1.4" fill="#38cc30"/>
<circle cx="565.9" cy="249.2" r="1.4" fill="#70f060"/>
<circle cx="564" cy="247.3" r="1" fill="#70f060"/>
</g>
<g>
<circle cx="600.9" cy="273.8" r="1.7" fill="#50e048"/>
<circle cx="613.8" cy="272.1" r="1.8" fill="#30b428"/>
<circle cx="615.1" cy="273.6" r="1.5" fill="#38cc30"/>
<circle cx="614.2" cy="276.6" r="1" fill="#38cc30"/>
<circle cx="609.1" cy="272.8" r="1" fill="#70f060"/>
<circle cx="608.4" cy="269.5" r="1" fill="#30b428"/>
<circle cx="616.6" cy="272.7" r="1.5" fill="#70f060"/>
<circle cx="605.3" cy="276.5" r="1.4" fill="#38cc30"/>
<circle cx="602.6" cy="271.7" r="1.3" fill="#30b428"/>
<circle cx="609.8" cy="279.6" r="1.1" fill="#50e048"/>
<circle cx="611.2" cy="271.6" r="1.1" fill="#70f060"/>
<circle cx="613.1" cy="273.2" r="1.1" fill="#70f060"/>
<circle cx="599.2" cy="276.4" r="1.4" fill="#30b428"/>
<circle cx="602.6" cy="276.6" r="1.1" fill="#70f060"/>
<circle cx="611.7" cy="276.5" r="1.2" fill="#70f060"/>
<circle cx="600.8" cy="274.1" r="1.2" fill="#38cc30"/>
<circle cx="600.7" cy="277.7" r="1.6" fill="#70f060"/>
<circle cx="617.2" cy="273.6" r="1.7" fill="#50e048"/>
<circle cx="611.2" cy="275.2" r="1.3" fill="#38cc30"/>
<circle cx="610.1" cy="269.4" r="1.3" fill="#70f060"/>
<circle cx="608.7" cy="274.4" r="1.6" fill="#70f060"/>
<circle cx="599.4" cy="274.2" r="1.1" fill="#50e048"/>
<circle cx="598.3" cy="274.5" r="1.7" fill="#48dc40"/>
<circle cx="605" cy="275.2" r="1.5" fill="#38cc30"/>
<circle cx="604.5" cy="275.1" r="1.5" fill="#30b428"/>
<circle cx="613.1" cy="274.4" r="1.4" fill="#48dc40"/>
<circle cx="610.8" cy="276.5" r="1.6" fill="#30b428"/>
<circle cx="606.1" cy="269.2" r="1.6" fill="#48dc40"/>
<circle cx="599.4" cy="272.1" r="1" fill="#30b428"/>
<circle cx="602.9" cy="271.2" r="1.1" fill="#50e048"/>
<circle cx="600.6" cy="278.1" r="1.2" fill="#38cc30"/>
<circle cx="612.6" cy="271" r="1.2" fill="#48dc40"/>
<circle cx="614.8" cy="273.7" r="1.5" fill="#48dc40"/>
<circle cx="606.3" cy="273.1" r="1.2" fill="#48dc40"/>
<circle cx="603.1" cy="270.9" r="1.2" fill="#50e048"/>
<circle cx="610.2" cy="270.4" r="1.7" fill="#70f060"/>
<circle cx="609.3" cy="280.4" r="1.3" fill="#50e048"/>
<circle cx="614.8" cy="273.2" r="1.6" fill="#70f060"/>
<circle cx="609.5" cy="268.6" r="1.3" fill="#50e048"/>
<circle cx="604.5" cy="279.9" r="1.3" fill="#30b428"/>
<circle cx="611.6" cy="274.9" r="1.1" fill="#48dc40"/>
<circle cx="600.9" cy="271.2" r="1.8" fill="#48dc40"/>
<circle cx="608.2" cy="280.6" r="1.7" fill="#50e048"/>
<circle cx="612.6" cy="278.1" r="1.1" fill="#30b428"/>
<circle cx="602.7" cy="270.2" r="1.2" fill="#38cc30"/>
<circle cx="619.3" cy="276.3" r="1.4" fill="#30b428"/>
<circle cx="606.1" cy="276.9" r="1.7" fill="#30b428"/>
<circle cx="601.6" cy="278.7" r="1.6" fill="#50e048"/>
<circle cx="606.4" cy="269.8" r="1.2" fill="#50e048"/>
<circle cx="608.5" cy="278.2" r="1.3" fill="#70f060"/>
<circle cx="602.2" cy="278.7" r="1.4" fill="#38cc30"/>
<circle cx="603.5" cy="273.3" r="1.4" fill="#48dc40"/>
<circle cx="606.7" cy="269" r="1.6" fill="#70f060"/>
<circle cx="605.8" cy="277" r="1" fill="#38cc30"/>
<circle cx="609.7" cy="278.3" r="1.6" fill="#50e048"/>
<circle cx="606.8" cy="272.1" r="1.4" fill="#70f060"/>
<circle cx="607.7" cy="273.3" r="1.4" fill="#70f060"/>
<circle cx="602.1" cy="272.3" r="1.5" fill="#70f060"/>
<circle cx="604.1" cy="277.1" r="1.7" fill="#70f060"/>
<circle cx="599.6" cy="274.2" r="1.3" fill="#38cc30"/>
<circle cx="600.5" cy="272" r="1.1" fill="#38cc30"/>
<circle cx="605.9" cy="270.3" r="1.7" fill="#50e048"/>
<circle cx="602.5" cy="279.2" r="1" fill="#50e048"/>
<circle cx="614.9" cy="274.6" r="1.7" fill="#70f060"/>
<circle cx="616" cy="276.1" r="1.8" fill="#48dc40"/>
<circle cx="610.2" cy="276.8" r="1.6" fill="#38cc30"/>
<circle cx="604.5" cy="276.5" r="1.2" fill="#70f060"/>
<circle cx="615" cy="276.4" r="1.7" fill="#70f060"/>
<circle cx="614.9" cy="269.9" r="1.5" fill="#48dc40"/>
<circle cx="611.6" cy="273.1" r="1.8" fill="#38cc30"/>
<circle cx="601.5" cy="275" r="1" fill="#48dc40"/>
<circle cx="614.6" cy="275.3" r="1.6" fill="#50e048"/>
<circle cx="612" cy="269.6" r="1.1" fill="#50e048"/>
<circle cx="600.4" cy="277.2" r="1.4" fill="#30b428"/>
<circle cx="611.3" cy="269.6" r="1.1" fill="#30b428"/>
<circle cx="605.9" cy="271.4" r="1.4" fill="#38cc30"/>
<circle cx="611" cy="273.2" r="1.7" fill="#30b428"/>
<circle cx="613.5" cy="274" r="1.4" fill="#38cc30"/>
<circle cx="616.8" cy="272.8" r="1.1" fill="#50e048"/>
<circle cx="608.6" cy="269.4" r="1.5" fill="#30b428"/>
<circle cx="616.5" cy="273.4" r="1.7" fill="#38cc30"/>
<circle cx="609.9" cy="271.6" r="1.7" fill="#70f060"/>
<circle cx="609.3" cy="274.7" r="1.3" fill="#30b428"/>
<circle cx="605.8" cy="277.9" r="1.6" fill="#38cc30"/>
<circle cx="615.1" cy="275.8" r="1.6" fill="#48dc40"/>
<circle cx="607" cy="273" r="1.7" fill="#30b428"/>
<circle cx="608.9" cy="270.2" r="1.2" fill="#50e048"/>
<circle cx="605.4" cy="277.6" r="1.5" fill="#38cc30"/>
<circle cx="613.7" cy="269.2" r="1.7" fill="#48dc40"/>
<circle cx="604.3" cy="278.3" r="1.5" fill="#38cc30"/>
</g>
<g>
<circle cx="459.3" cy="332.2" r="1.6" fill="#38cc30"/>
<circle cx="467.5" cy="340.6" r="1.5" fill="#48dc40"/>
<circle cx="470.9" cy="327.4" r="1.2" fill="#70f060"/>
<circle cx="474.9" cy="327.8" r="1.7" fill="#50e048"/>
<circle cx="461.8" cy="339.1" r="1" fill="#30b428"/>
<circle cx="469" cy="334.8" r="1.5" fill="#50e048"/>
<circle cx="483.8" cy="335" r="1.1" fill="#70f060"/>
<circle cx="472.4" cy="335.6" r="1.7" fill="#50e048"/>
<circle cx="467.7" cy="339" r="1.5" fill="#38cc30"/>
<circle cx="458.7" cy="332.2" r="1.8" fill="#30b428"/>
<circle cx="465.8" cy="338.9" r="1" fill="#48dc40"/>
<circle cx="471.6" cy="329.4" r="1.4" fill="#50e048"/>
<circle cx="480" cy="330" r="1.5" fill="#48dc40"/>
<circle cx="466.9" cy="334.3" r="1.3" fill="#38cc30"/>
<circle cx="460" cy="336" r="1.2" fill="#48dc40"/>
<circle cx="469.3" cy="330.6" r="1.5" fill="#38cc30"/>
<circle cx="481.5" cy="334.6" r="1.1" fill="#38cc30"/>
<circle cx="481.7" cy="334.9" r="1.4" fill="#48dc40"/>
<circle cx="479.8" cy="334.3" r="1.7" fill="#38cc30"/>
<circle cx="475.3" cy="329.6" r="1.4" fill="#30b428"/>
<circle cx="474.8" cy="328.7" r="1.7" fill="#48dc40"/>
<circle cx="468.9" cy="338.8" r="1.3" fill="#30b428"/>
<circle cx="467.3" cy="340.3" r="1.1" fill="#48dc40"/>
<circle cx="479.3" cy="336.6" r="1.3" fill="#30b428"/>
<circle cx="483.7" cy="333.2" r="1.3" fill="#30b428"/>
<circle cx="478.7" cy="330.3" r="1.1" fill="#70f060"/>
<circle cx="465.8" cy="329.5" r="1.8" fill="#50e048"/>
<circle cx="471" cy="340.2" r="1.2" fill="#38cc30"/>
<circle cx="467.5" cy="334.8" r="1.3" fill="#48dc40"/>
<circle cx="468.8" cy="331.2" r="1.6" fill="#50e048"/>
<circle cx="458.4" cy="334.3" r="1.7" fill="#50e048"/>
<circle cx="480.7" cy="331.4" r="1.2" fill="#48dc40"/>
<circle cx="482.1" cy="332.6" r="1.2" fill="#38cc30"/>
<circle cx="472.1" cy="337" r="1.6" fill="#48dc40"/>
<circle cx="472.6" cy="327.4" r="1.4" fill="#38cc30"/>
<circle cx="475.9" cy="337.7" r="1.4" fill="#48dc40"/>
<circle cx="464.4" cy="333.3" r="1.6" fill="#48dc40"/>
<circle cx="479.3" cy="330.1" r="1.7" fill="#70f060"/>
<circle cx="472.7" cy="340" r="1.3" fill="#70f060"/>
<circle cx="475.9" cy="334.8" r="1.4" fill="#70f060"/>
<circle cx="476.7" cy="337" r="1.6" fill="#30b428"/>
<circle cx="473.5" cy="333.5" r="1" fill="#30b428"/>
<circle cx="463.3" cy="335.8" r="1" fill="#38cc30"/>
<circle cx="467.5" cy="329.4" r="1.2" fill="#70f060"/>
<circle cx="466.1" cy="334.6" r="1.5" fill="#50e048"/>
<circle cx="476.2" cy="338" r="1.4" fill="#48dc40"/>
<circle cx="482.7" cy="335.6" r="1.7" fill="#70f060"/>
<circle cx="463.8" cy="336.9" r="1" fill="#48dc40"/>
<circle cx="471.9" cy="329.9" r="1" fill="#38cc30"/>
<circle cx="476.4" cy="332.6" r="1.7" fill="#70f060"/>
<circle cx="474.2" cy="333.9" r="1.3" fill="#70f060"/>
<circle cx="469.7" cy="330.5" r="1.4" fill="#38cc30"/>
<circle cx="473.6" cy="338.3" r="1.1" fill="#30b428"/>
<circle cx="471.9" cy="328.4" r="1.7" fill="#70f060"/>
<circle cx="477" cy="330.4" r="1.5" fill="#38cc30"/>
<circle cx="470.3" cy="330.9" r="1.2" fill="#38cc30"/>
<circle cx="476.4" cy="334" r="1.7" fill="#70f060"/>
<circle cx="459.4" cy="335.2" r="1.6" fill="#48dc40"/>
<circle cx="464.8" cy="340.1" r="1.6" fill="#30b428"/>
<circle cx="467.4" cy="330.4" r="1.7" fill="#48dc40"/>
<circle cx="461.8" cy="338.6" r="1.8" fill="#38cc30"/>
<circle cx="475.6" cy="333.7" r="1.3" fill="#38cc30"/>
<circle cx="471.9" cy="328.6" r="1.1" fill="#70f060"/>
<circle cx="472.6" cy="336.6" r="1.2" fill="#30b428"/>
<circle cx="475.2" cy="330.7" r="1.5" fill="#50e048"/>
<circle cx="461.3" cy="334.7" r="1.2" fill="#48dc40"/>
<circle cx="477.3" cy="336.7" r="1.4" fill="#70f060"/>
<circle cx="469.7" cy="335.6" r="1.4" fill="#38cc30"/>
<circle cx="471.8" cy="328.6" r="1.8" fill="#50e048"/>
<circle cx="475.9" cy="335.1" r="1.1" fill="#70f060"/>
<circle cx="459.6" cy="331.4" r="1.1" fill="#38cc30"/>
<circle cx="474.3" cy="328.3" r="1.3" fill="#48dc40"/>
<circle cx="466.3" cy="332.7" r="1.6" fill="#50e048"/>
<circle cx="467.4" cy="337.1" r="1.5" fill="#30b428"/>
<circle cx="465" cy="329.8" r="1.4" fill="#70f060"/>
<circle cx="465.3" cy="336.3" r="1.8" fill="#48dc40"/>
<circle cx="459.3" cy="334.4" r="1.2" fill="#48dc40"/>
<circle cx="463.6" cy="337.8" r="1.1" fill="#48dc40"/>
<circle cx="463" cy="332.6" r="1.4" fill="#48dc40"/>
<circle cx="460.8" cy="330.4" r="1.6" fill="#48dc40"/>
<circle cx="457.9" cy="331.8" r="1.6" fill="#30b428"/>
<circle cx="472.1" cy="332.3" r="1.5" fill="#48dc40"/>
<circle cx="474.7" cy="336.3" r="1.1" fill="#38cc30"/>
<circle cx="458" cy="332" r="1.6" fill="#38cc30"/>
<circle cx="466" cy="329" r="1.8" fill="#50e048"/>
<circle cx="466.4" cy="339.8" r="1.5" fill="#48dc40"/>
<circle cx="470.6" cy="340.5" r="1.7" fill="#48dc40"/>
<circle cx="465.8" cy="329.9" r="1.6" fill="#70f060"/>
<circle cx="473.2" cy="339.8" r="1.7" fill="#70f060"/>
<circle cx="482.7" cy="334.7" r="1.4" fill="#50e048"/>
<circle cx="474.3" cy="338.4" r="1.6" fill="#30b428"/>
<circle cx="467.8" cy="331.4" r="1.8" fill="#48dc40"/>
<circle cx="468.7" cy="331.5" r="1.7" fill="#48dc40"/>
<circle cx="461.4" cy="330.4" r="1.7" fill="#30b428"/>
<circle cx="471.6" cy="336.4" r="1.5" fill="#70f060"/>
<circle cx="480.6" cy="332.9" r="1.5" fill="#50e048"/>
<circle cx="477.1" cy="339.5" r="1.6" fill="#38cc30"/>
<circle cx="466.2" cy="334" r="1.2" fill="#30b428"/>
<circle cx="457.2" cy="335.2" r="1.4" fill="#50e048"/>
<circle cx="463.8" cy="329.3" r="1.5" fill="#38cc30"/>
<circle cx="475.1" cy="334.7" r="1.1" fill="#48dc40"/>
<circle cx="459.3" cy="335.5" r="1" fill="#30b428"/>
<circle cx="464" cy="337.9" r="1" fill="#30b428"/>
<circle cx="466.6" cy="333.3" r="1.5" fill="#50e048"/>
<circle cx="471.5" cy="334.9" r="1.2" fill="#30b428"/>
<circle cx="470.2" cy="333.1" r="1.6" fill="#70f060"/>
<circle cx="470.6" cy="338.2" r="1" fill="#50e048"/>
<circle cx="471.2" cy="328.1" r="1" fill="#48dc40"/>
<circle cx="480.7" cy="334.8" r="1.7" fill="#30b428"/>
<circle cx="470.3" cy="338.6" r="1.4" fill="#48dc40"/>
<circle cx="475.7" cy="337.9" r="1.1" fill="#70f060"/>
<circle cx="461.3" cy="330.8" r="1.6" fill="#48dc40"/>
<circle cx="482.4" cy="333.5" r="1.1" fill="#70f060"/>
<circle cx="462.7" cy="337" r="1.4" fill="#38cc30"/>
<circle cx="466.7" cy="338.8" r="1.4" fill="#48dc40"/>
<circle cx="477.5" cy="337" r="1.7" fill="#50e048"/>
<circle cx="461.9" cy="334.5" r="1.3" fill="#38cc30"/>
<circle cx="479.2" cy="339.3" r="1.6" fill="#30b428"/>
<circle cx="471.1" cy="335" r="1" fill="#48dc40"/>
<circle cx="461.1" cy="332.4" r="1.7" fill="#70f060"/>
<circle cx="468.4" cy="332" r="1.6" fill="#30b428"/>
<circle cx="463.2" cy="337.2" r="1.2" fill="#48dc40"/>
<circle cx="461.7" cy="332.2" r="1.1" fill="#38cc30"/>
<circle cx="458.7" cy="331.1" r="1" fill="#48dc40"/>
<circle cx="459.7" cy="335.7" r="1.5" fill="#30b428"/>
</g>
<polyline points="598.4,282.3 600.1,286 603.5,283.9 604.8,287.9 608.2,285.5 609.8,289.2 613.4,287.3 614.8,290.8 618.6,288.9 620.1,292.4 623.8,289.9 625.2,293.9 628.3,291.5" fill="none" stroke="#34aab0" stroke-width="2.15" stroke-linejoin="round" stroke-linecap="round"/>
<polyline points="610.2,288.5 613.9,287.9 615.1,284.1" fill="none" stroke="#34aab0" stroke-width="1.75" stroke-linejoin="round" stroke-linecap="round"/>
<polyline points="585.9,296 587.3,299.9 590.6,297.6 592.8,301 596,299.2 597.3,302.7 601.1,300.7 602.7,304.2 605.8,302.1 607.6,306.2" fill="none" stroke="#34aab0" stroke-width="2.0500000000000003" stroke-linejoin="round" stroke-linecap="round"/>
<polyline points="550.8,307.1 551.5,310.9 555.3,309.7 555.9,313.2 559.5,311.7 560,316.1 564.2,313.9 564.7,318.2 568.1,316.4 569,320.5 572.7,319 573,323.1" fill="none" stroke="#34aab0" stroke-width="2.15" stroke-linejoin="round" stroke-linecap="round"/>
<polyline points="521.6,321.7 523.1,325.5 526.7,324.1 527.7,328 531.7,326.6 532.6,330.2 536.4,329 538,332.5 541.9,331.5 542.9,335.2 546.4,333.4" fill="none" stroke="#34aab0" stroke-width="2.0500000000000003" stroke-linejoin="round" stroke-linecap="round"/>
<polyline points="497.7,273.1 494.9,276.1 498,277.7 495.5,280 498.9,281.7 495.9,284.6 499.5,286.4 496.7,288.5" fill="none" stroke="#e8b020" stroke-width="2.2" stroke-linejoin="round" stroke-linecap="round"/>
<polyline points="498.6,274.2 496,277.7 499.1,280.4 497.1,283.5 500.2,286.3 497.7,289.8" fill="none" stroke="#c030c0" stroke-width="1.3" stroke-linejoin="round" stroke-linecap="round"/>
<g>
<ellipse cx="495.6" cy="270.5" rx="6.9" ry="6.2" fill="#b00cb4"/>
<circle cx="495.1" cy="272.8" r="1.7" fill="#98069c"/>
<circle cx="494.1" cy="267.6" r="2.3" fill="#d020d0"/>
<circle cx="497" cy="267.7" r="1.9" fill="#b00cb4"/>
<circle cx="500.2" cy="272.9" r="1.7" fill="#98069c"/>
<circle cx="498.9" cy="273.5" r="1.9" fill="#b00cb4"/>
<circle cx="494.8" cy="273.7" r="1.6" fill="#98069c"/>
<circle cx="490.8" cy="271.9" r="2.2" fill="#d020d0"/>
<circle cx="499.2" cy="270.9" r="1.6" fill="#bc0cbc"/>
<circle cx="492.1" cy="271" r="1.5" fill="#bc0cbc"/>
<circle cx="500.2" cy="268.4" r="2.1" fill="#b00cb4"/>
<circle cx="493.4" cy="270.8" r="1.8" fill="#c410c4"/>
<circle cx="492.6" cy="267.3" r="2.1" fill="#98069c"/>
<circle cx="500.4" cy="271.8" r="2.6" fill="#bc0cbc"/>
<circle cx="490.8" cy="271.6" r="2.2" fill="#98069c"/>
<circle cx="495.5" cy="265" r="1.9" fill="#bc0cbc"/>
<circle cx="497.4" cy="267.7" r="1.7" fill="#bc0cbc"/>
<circle cx="493.7" cy="265.6" r="2.5" fill="#b00cb4"/>
<circle cx="491.9" cy="274.4" r="1.8" fill="#c410c4"/>
<circle cx="498.3" cy="267.3" r="1.6" fill="#b00cb4"/>
<circle cx="500.3" cy="271.9" r="2.6" fill="#bc0cbc"/>
<circle cx="495.8" cy="274" r="2.2" fill="#c410c4"/>
<circle cx="496.7" cy="268.8" r="1.7" fill="#c410c4"/>
</g>
<polyline points="542.4,256.2 539.3,258.5 542.8,260.3 540,263.2 543.2,264.7 541,267.2 544,268.8 541.1,271.6" fill="none" stroke="#e8b020" stroke-width="2.2" stroke-linejoin="round" stroke-linecap="round"/>
<polyline points="543.1,257.1 541.1,260.6 544.2,263 541.9,266.2 544.6,269 542.5,272.2" fill="none" stroke="#c030c0" stroke-width="1.3" stroke-linejoin="round" stroke-linecap="round"/>
<g>
<ellipse cx="540.3" cy="253.3" rx="6.9" ry="6.2" fill="#b00cb4"/>
<circle cx="538.9" cy="252.5" r="2.4" fill="#98069c"/>
<circle cx="542.3" cy="257.2" r="2.3" fill="#bc0cbc"/>
<circle cx="539.5" cy="251.1" r="1.9" fill="#98069c"/>
<circle cx="545" cy="252" r="2.4" fill="#bc0cbc"/>
<circle cx="542.3" cy="252.5" r="1.8" fill="#bc0cbc"/>
<circle cx="539.6" cy="251.9" r="1.6" fill="#d020d0"/>
<circle cx="545.5" cy="251.9" r="2.1" fill="#98069c"/>
<circle cx="542.3" cy="253.7" r="1.9" fill="#bc0cbc"/>
<circle cx="540.1" cy="255.8" r="2" fill="#b00cb4"/>
<circle cx="541.9" cy="257.2" r="2.5" fill="#c410c4"/>
<circle cx="540.6" cy="255.4" r="1.8" fill="#bc0cbc"/>
<circle cx="539.9" cy="248.2" r="1.5" fill="#d020d0"/>
<circle cx="537.1" cy="248.8" r="2.3" fill="#d020d0"/>
<circle cx="540.1" cy="249.4" r="2.2" fill="#bc0cbc"/>
<circle cx="538.6" cy="250.7" r="1.9" fill="#bc0cbc"/>
<circle cx="536.2" cy="249.4" r="2" fill="#98069c"/>
<circle cx="545.5" cy="252.1" r="2.4" fill="#bc0cbc"/>
<circle cx="538.4" cy="248.4" r="1.9" fill="#98069c"/>
<circle cx="544" cy="254.5" r="1.7" fill="#98069c"/>
<circle cx="539.2" cy="251.1" r="1.6" fill="#d020d0"/>
<circle cx="546.2" cy="252.1" r="2.6" fill="#d020d0"/>
<circle cx="537.9" cy="249.5" r="1.7" fill="#bc0cbc"/>
</g>
<polyline points="545.2,278.7 542.6,280.7 545.7,282.7 543.1,285.5 545.9,286.7 543.7,289.6 547,291.5 544.1,294" fill="none" stroke="#e8b020" stroke-width="2.2" stroke-linejoin="round" stroke-linecap="round"/>
<polyline points="545.9,279.6 543.7,282.7 546.5,285.2 544.3,288.8 547.6,291.5 545.1,294.7" fill="none" stroke="#c030c0" stroke-width="1.3" stroke-linejoin="round" stroke-linecap="round"/>
<g>
<ellipse cx="543" cy="275.6" rx="6.9" ry="6.2" fill="#b00cb4"/>
<circle cx="543" cy="278.9" r="2.5" fill="#c410c4"/>
<circle cx="541.4" cy="277.5" r="1.8" fill="#bc0cbc"/>
<circle cx="541.7" cy="277" r="2.4" fill="#b00cb4"/>
<circle cx="542" cy="273.5" r="1.8" fill="#b00cb4"/>
<circle cx="545.3" cy="275.2" r="2.6" fill="#bc0cbc"/>
<circle cx="544.1" cy="280.2" r="1.9" fill="#d020d0"/>
<circle cx="546.5" cy="275.1" r="2.3" fill="#c410c4"/>
<circle cx="542.3" cy="273.6" r="1.9" fill="#98069c"/>
<circle cx="545.7" cy="272.8" r="2.1" fill="#c410c4"/>
<circle cx="543.2" cy="276.1" r="1.9" fill="#d020d0"/>
<circle cx="540.1" cy="271.1" r="2.1" fill="#b00cb4"/>
<circle cx="541.7" cy="278.2" r="2.3" fill="#c410c4"/>
<circle cx="541.3" cy="277.8" r="1.8" fill="#98069c"/>
<circle cx="543.4" cy="279.5" r="2.1" fill="#b00cb4"/>
<circle cx="547.1" cy="278.3" r="2" fill="#98069c"/>
<circle cx="545.1" cy="276.8" r="1.9" fill="#c410c4"/>
<circle cx="539.5" cy="272.3" r="2.2" fill="#c410c4"/>
<circle cx="542.2" cy="274.3" r="2.4" fill="#d020d0"/>
<circle cx="544.7" cy="275.4" r="2.5" fill="#c410c4"/>
<circle cx="540.9" cy="273.1" r="1.7" fill="#bc0cbc"/>
<circle cx="539.8" cy="279.2" r="1.7" fill="#98069c"/>
<circle cx="544.8" cy="271.2" r="1.7" fill="#bc0cbc"/>
</g>
<polyline points="495.4,299.1 492.8,301.4 495.6,303.3 493.1,305.7 496.3,307.7 493.9,310.4 497,311.7 494.5,314.4" fill="none" stroke="#e8b020" stroke-width="2.2" stroke-linejoin="round" stroke-linecap="round"/>
<polyline points="495.7,300.3 493.7,303.5 496.9,306.3 494.6,309.2 497.4,311.8 495.6,315.2" fill="none" stroke="#c030c0" stroke-width="1.3" stroke-linejoin="round" stroke-linecap="round"/>
<g>
<ellipse cx="493.2" cy="296.2" rx="6.9" ry="6.2" fill="#b00cb4"/>
<circle cx="495.3" cy="296.2" r="1.7" fill="#d020d0"/>
<circle cx="488.5" cy="293.1" r="2" fill="#c410c4"/>
<circle cx="496.4" cy="296.6" r="1.6" fill="#bc0cbc"/>
<circle cx="493.1" cy="290.7" r="1.6" fill="#c410c4"/>
<circle cx="488.2" cy="298.9" r="2.5" fill="#b00cb4"/>
<circle cx="489.2" cy="294" r="2.5" fill="#c410c4"/>
<circle cx="489.9" cy="294.3" r="2.2" fill="#d020d0"/>
<circle cx="491.9" cy="291.4" r="1.7" fill="#b00cb4"/>
<circle cx="492.9" cy="300.2" r="1.9" fill="#98069c"/>
<circle cx="494.5" cy="295.9" r="2" fill="#c410c4"/>
<circle cx="493.4" cy="298.4" r="2.3" fill="#d020d0"/>
<circle cx="489.1" cy="299.9" r="1.6" fill="#d020d0"/>
<circle cx="497" cy="299.8" r="2.4" fill="#c410c4"/>
<circle cx="489.3" cy="297.4" r="2.4" fill="#bc0cbc"/>
<circle cx="492.8" cy="301.2" r="2.2" fill="#c410c4"/>
<circle cx="496.3" cy="300" r="2.4" fill="#d020d0"/>
<circle cx="491.5" cy="298.6" r="1.8" fill="#b00cb4"/>
<circle cx="496.6" cy="298.1" r="2" fill="#c410c4"/>
<circle cx="490.2" cy="295.8" r="2" fill="#c410c4"/>
<circle cx="498.6" cy="294.5" r="1.7" fill="#b00cb4"/>
<circle cx="492.1" cy="295" r="1.7" fill="#c410c4"/>
<circle cx="492.7" cy="298.8" r="2.2" fill="#d020d0"/>
</g>
<g>
<ellipse cx="497.3" cy="260" rx="5" ry="4" fill="#981818"/>
<circle cx="495.8" cy="260.9" r="1.4" fill="#cc3830"/>
<circle cx="499.3" cy="257" r="1.3" fill="#cc3830"/>
<circle cx="497.4" cy="258" r="1.2" fill="#981818"/>
<circle cx="495.6" cy="257.3" r="1.6" fill="#a82020"/>
<circle cx="494.5" cy="260.7" r="1.5" fill="#b82420"/>
<circle cx="500.6" cy="261" r="1.5" fill="#981818"/>
<circle cx="494.5" cy="258.2" r="1.6" fill="#a82020"/>
<circle cx="498.3" cy="262.9" r="1.7" fill="#a82020"/>
<circle cx="494.7" cy="260.8" r="1.3" fill="#b82420"/>
<circle cx="498.1" cy="258.1" r="1.7" fill="#a82020"/>
<circle cx="494.7" cy="260.2" r="1.9" fill="#cc3830"/>
<circle cx="500.2" cy="261" r="1.5" fill="#b82420"/>
<circle cx="494.1" cy="259" r="1.7" fill="#cc3830"/>
<circle cx="497.1" cy="258.4" r="1.5" fill="#981818"/>
</g>
<polyline points="491.4,261.5 493.7,264.1 496.2,262.1 498,264.7 501.1,262.9 503,265.5" fill="none" stroke="#a01c18" stroke-width="1.4" stroke-linejoin="round" stroke-linecap="round"/>
<polyline points="498.3,255.2 496.4,257.8 499.1,260.5 496.7,263.3 499.4,266.2" fill="none" stroke="#a01c18" stroke-width="1.3" stroke-linejoin="round" stroke-linecap="round"/>
<g>
<ellipse cx="492.2" cy="253.3" rx="4" ry="3.6" fill="#1c80d0"/>
<circle cx="493.8" cy="255.1" r="2.1" fill="#2898e8"/>
<circle cx="492" cy="256.3" r="1.9" fill="#2898e8"/>
<circle cx="495.3" cy="252.7" r="1.4" fill="#1c80d0"/>
<circle cx="492.9" cy="251.1" r="1.3" fill="#40a8f0"/>
<circle cx="489.9" cy="253.6" r="1.7" fill="#2898e8"/>
<circle cx="491.4" cy="255.3" r="1.9" fill="#40a8f0"/>
<circle cx="494.7" cy="254.6" r="1.4" fill="#2898e8"/>
<circle cx="493" cy="251.8" r="1.8" fill="#2898e8"/>
<circle cx="489.4" cy="252.3" r="1.4" fill="#1c80d0"/>
<circle cx="493.9" cy="252" r="1.7" fill="#1c80d0"/>
<circle cx="492.9" cy="252.1" r="1.4" fill="#1870c0"/>
<circle cx="495.3" cy="253.4" r="1.5" fill="#1c80d0"/>
</g>
<g>
<ellipse cx="530" cy="248.5" rx="5" ry="4" fill="#981818"/>
<circle cx="531.5" cy="248.8" r="1.9" fill="#981818"/>
<circle cx="531.4" cy="246.5" r="1.4" fill="#b82420"/>
<circle cx="531.7" cy="251" r="1.7" fill="#b82420"/>
<circle cx="528.9" cy="247.1" r="1.5" fill="#981818"/>
<circle cx="532.2" cy="245.4" r="1.4" fill="#b82420"/>
<circle cx="532.3" cy="251.1" r="1.7" fill="#cc3830"/>
<circle cx="528.1" cy="248.3" r="1.3" fill="#b82420"/>
<circle cx="530.9" cy="249" r="1.4" fill="#b82420"/>
<circle cx="529.9" cy="245.4" r="1.8" fill="#b82420"/>
<circle cx="527" cy="250" r="1.8" fill="#a82020"/>
<circle cx="533.9" cy="247.6" r="1.5" fill="#a82020"/>
<circle cx="531.4" cy="247.3" r="1.9" fill="#cc3830"/>
<circle cx="533.1" cy="246" r="1.8" fill="#a82020"/>
<circle cx="530.9" cy="245.7" r="1.7" fill="#cc3830"/>
</g>
<polyline points="524.4,249.5 526.4,252.9 529.2,250.5 531,253.4 533.5,251.4 536,254.3" fill="none" stroke="#a01c18" stroke-width="1.4" stroke-linejoin="round" stroke-linecap="round"/>
<polyline points="531.4,243.5 529.2,246.5 531.8,249 529.4,252.1 532.3,254.4" fill="none" stroke="#a01c18" stroke-width="1.3" stroke-linejoin="round" stroke-linecap="round"/>
<g>
<ellipse cx="523" cy="244.5" rx="4" ry="3.6" fill="#1c80d0"/>
<circle cx="522.7" cy="243.2" r="1.9" fill="#1870c0"/>
<circle cx="521.2" cy="245.5" r="1.7" fill="#40a8f0"/>
<circle cx="525.6" cy="245.1" r="1.8" fill="#40a8f0"/>
<circle cx="524.8" cy="244.6" r="1.7" fill="#1870c0"/>
<circle cx="522.8" cy="243.6" r="1.4" fill="#1870c0"/>
<circle cx="525.5" cy="246.7" r="1.5" fill="#40a8f0"/>
<circle cx="521.1" cy="244.1" r="1.3" fill="#2898e8"/>
<circle cx="524.3" cy="246.9" r="1.7" fill="#1c80d0"/>
<circle cx="520.9" cy="242.7" r="1.6" fill="#2898e8"/>
<circle cx="520.1" cy="243.2" r="1.9" fill="#1c80d0"/>
<circle cx="524.7" cy="244.7" r="1.9" fill="#1c80d0"/>
<circle cx="519.8" cy="244.5" r="1.9" fill="#40a8f0"/>
</g>
<g>
<ellipse cx="543.8" cy="243.5" rx="5" ry="4" fill="#981818"/>
<circle cx="542.6" cy="246.1" r="1.3" fill="#b82420"/>
<circle cx="543.6" cy="246.3" r="1.8" fill="#a82020"/>
<circle cx="544.7" cy="245" r="1.7" fill="#b82420"/>
<circle cx="545.5" cy="240.7" r="1.7" fill="#b82420"/>
<circle cx="546.8" cy="241.6" r="1.6" fill="#a82020"/>
<circle cx="541.9" cy="244.9" r="1.4" fill="#b82420"/>
<circle cx="544.3" cy="244.1" r="1.7" fill="#b82420"/>
<circle cx="548" cy="242.8" r="1.9" fill="#cc3830"/>
<circle cx="545.7" cy="243.2" r="1.6" fill="#981818"/>
<circle cx="545.5" cy="240.4" r="1.4" fill="#981818"/>
<circle cx="543.5" cy="243.2" r="1.4" fill="#cc3830"/>
<circle cx="546.7" cy="245.6" r="2" fill="#b82420"/>
<circle cx="540.9" cy="243" r="1.6" fill="#cc3830"/>
<circle cx="542.9" cy="246.5" r="1.5" fill="#981818"/>
</g>
<polyline points="538.2,245 540.3,247.4 543,245.6 545,248.7 547.4,246.1 549.9,249.3" fill="none" stroke="#a01c18" stroke-width="1.4" stroke-linejoin="round" stroke-linecap="round"/>
<polyline points="545.3,238.4 542.8,241.3 545.4,243.7 543.1,246.8 545.9,249.5" fill="none" stroke="#a01c18" stroke-width="1.3" stroke-linejoin="round" stroke-linecap="round"/>
<g>
<ellipse cx="538.6" cy="237.8" rx="4" ry="3.6" fill="#1c80d0"/>
<circle cx="537.9" cy="235.3" r="1.3" fill="#40a8f0"/>
<circle cx="540.7" cy="237.8" r="1.5" fill="#1870c0"/>
<circle cx="537" cy="237.7" r="1.4" fill="#40a8f0"/>
<circle cx="540.5" cy="236.4" r="1.6" fill="#2898e8"/>
<circle cx="537.2" cy="237.1" r="1.9" fill="#1c80d0"/>
<circle cx="540.9" cy="235.9" r="1.7" fill="#2898e8"/>
<circle cx="539.1" cy="238.8" r="1.7" fill="#1870c0"/>
<circle cx="537.5" cy="235.3" r="1.9" fill="#1870c0"/>
<circle cx="539.6" cy="234.9" r="1.7" fill="#2898e8"/>
<circle cx="538.8" cy="237.2" r="1.7" fill="#1c80d0"/>
<circle cx="538.3" cy="237.2" r="1.5" fill="#1870c0"/>
<circle cx="538" cy="237.2" r="2.1" fill="#1870c0"/>
</g>
<g>
<ellipse cx="566" cy="299.7" rx="5" ry="4" fill="#981818"/>
<circle cx="563.3" cy="301.2" r="1.9" fill="#a82020"/>
<circle cx="563.6" cy="297.2" r="1.9" fill="#cc3830"/>
<circle cx="570.5" cy="300" r="1.6" fill="#981818"/>
<circle cx="564.4" cy="298" r="2" fill="#981818"/>
<circle cx="566.1" cy="302" r="1.6" fill="#cc3830"/>
<circle cx="564.8" cy="296.3" r="1.4" fill="#981818"/>
<circle cx="562" cy="300.3" r="1.3" fill="#cc3830"/>
<circle cx="563.2" cy="299.2" r="1.2" fill="#cc3830"/>
<circle cx="568.3" cy="296.8" r="1.4" fill="#cc3830"/>
<circle cx="567.7" cy="301.9" r="1.3" fill="#cc3830"/>
<circle cx="563.6" cy="299.8" r="1.7" fill="#981818"/>
<circle cx="568" cy="300.3" r="1.9" fill="#a82020"/>
<circle cx="562.8" cy="299.1" r="1.4" fill="#981818"/>
<circle cx="564.8" cy="300.6" r="1.4" fill="#981818"/>
</g>
<polyline points="560.4,300.9 562.4,303.8 565.3,302 566.9,304.6 569.8,302.7 571.7,305.2" fill="none" stroke="#a01c18" stroke-width="1.4" stroke-linejoin="round" stroke-linecap="round"/>
<polyline points="567.1,294.7 564.8,297.8 567.9,300.2 565.6,303.3 568.3,305.7" fill="none" stroke="#a01c18" stroke-width="1.3" stroke-linejoin="round" stroke-linecap="round"/>
<g>
<ellipse cx="576.4" cy="306.5" rx="4" ry="3.6" fill="#1c80d0"/>
<circle cx="573.3" cy="307.7" r="2" fill="#1c80d0"/>
<circle cx="573.5" cy="304.9" r="1.4" fill="#1c80d0"/>
<circle cx="574.5" cy="306.7" r="1.5" fill="#2898e8"/>
<circle cx="574.1" cy="307.1" r="1.8" fill="#2898e8"/>
<circle cx="573.4" cy="306.3" r="1.9" fill="#40a8f0"/>
<circle cx="574.7" cy="308.1" r="2" fill="#1c80d0"/>
<circle cx="575.4" cy="309.4" r="2.1" fill="#1870c0"/>
<circle cx="576.1" cy="303.8" r="1.3" fill="#40a8f0"/>
<circle cx="574.9" cy="305.7" r="1.6" fill="#1870c0"/>
<circle cx="576.9" cy="305" r="1.9" fill="#1c80d0"/>
<circle cx="578" cy="307" r="1.5" fill="#2898e8"/>
<circle cx="574.4" cy="306" r="1.4" fill="#1c80d0"/>
</g>
<g>
<ellipse cx="524.8" cy="317.5" rx="5" ry="4" fill="#981818"/>
<circle cx="527" cy="315.8" r="1.7" fill="#cc3830"/>
<circle cx="522.2" cy="315.1" r="1.3" fill="#b82420"/>
<circle cx="525.6" cy="316.6" r="1.9" fill="#981818"/>
<circle cx="522.5" cy="317.4" r="1.4" fill="#981818"/>
<circle cx="523.1" cy="320.2" r="2" fill="#981818"/>
<circle cx="521.2" cy="319.4" r="1.4" fill="#981818"/>
<circle cx="524.4" cy="320.3" r="1.6" fill="#b82420"/>
<circle cx="526.4" cy="316.4" r="1.4" fill="#b82420"/>
<circle cx="524" cy="318" r="1.6" fill="#cc3830"/>
<circle cx="525.6" cy="318.4" r="1.6" fill="#a82020"/>
<circle cx="524.8" cy="318.7" r="2" fill="#981818"/>
<circle cx="526" cy="318" r="1.6" fill="#981818"/>
<circle cx="522.9" cy="317.9" r="1.4" fill="#b82420"/>
<circle cx="521" cy="319" r="1.6" fill="#981818"/>
</g>
<polyline points="518.8,318.4 520.8,321.6 524.1,319.4 525.6,322.2 528.8,320.1 530.8,323.1" fill="none" stroke="#a01c18" stroke-width="1.4" stroke-linejoin="round" stroke-linecap="round"/>
<polyline points="526,312.5 523.8,315.2 526.5,318 524.3,320.7 526.9,323.2" fill="none" stroke="#a01c18" stroke-width="1.3" stroke-linejoin="round" stroke-linecap="round"/>
<g>
<ellipse cx="535" cy="325.5" rx="4" ry="3.6" fill="#1c80d0"/>
<circle cx="534.7" cy="328.5" r="1.4" fill="#1870c0"/>
<circle cx="533.9" cy="326.1" r="2.1" fill="#1870c0"/>
<circle cx="533.1" cy="325.9" r="1.5" fill="#1870c0"/>
<circle cx="535.2" cy="324.1" r="1.4" fill="#1870c0"/>
<circle cx="532.8" cy="327.6" r="1.6" fill="#1c80d0"/>
<circle cx="531.5" cy="325.7" r="1.8" fill="#1870c0"/>
<circle cx="536.6" cy="328.2" r="1.9" fill="#1c80d0"/>
<circle cx="536.6" cy="325.5" r="1.7" fill="#1c80d0"/>
<circle cx="534.3" cy="322.9" r="1.6" fill="#1c80d0"/>
<circle cx="532" cy="325.2" r="1.7" fill="#2898e8"/>
<circle cx="533.5" cy="322.8" r="1.8" fill="#40a8f0"/>
<circle cx="534.5" cy="323.3" r="1.9" fill="#40a8f0"/>
</g>
<g>
<ellipse cx="500.8" cy="332.5" rx="5" ry="4" fill="#981818"/>
<circle cx="498.6" cy="331.7" r="1.7" fill="#b82420"/>
<circle cx="500.3" cy="330.1" r="1.7" fill="#a82020"/>
<circle cx="503.6" cy="335.2" r="1.6" fill="#cc3830"/>
<circle cx="500.7" cy="333.2" r="1.8" fill="#a82020"/>
<circle cx="505.2" cy="332.7" r="1.7" fill="#981818"/>
<circle cx="503.4" cy="330" r="1.2" fill="#981818"/>
<circle cx="500.5" cy="335.8" r="1.8" fill="#a82020"/>
<circle cx="501.8" cy="331" r="1.3" fill="#a82020"/>
<circle cx="498.7" cy="334.8" r="1.2" fill="#cc3830"/>
<circle cx="502.7" cy="331.6" r="2" fill="#b82420"/>
<circle cx="501.1" cy="329.6" r="1.5" fill="#981818"/>
<circle cx="497.7" cy="333.8" r="1.6" fill="#cc3830"/>
<circle cx="502.2" cy="330.7" r="1.6" fill="#b82420"/>
<circle cx="498.5" cy="332" r="1.7" fill="#b82420"/>
</g>
<polyline points="495.2,334 497,336.5 500,334.4 502,337.4 504.7,335.5 506.3,338.2" fill="none" stroke="#a01c18" stroke-width="1.4" stroke-linejoin="round" stroke-linecap="round"/>
<polyline points="501.8,327.4 499.9,330.5 502.4,332.6 500.5,335.7 503.1,338.2" fill="none" stroke="#a01c18" stroke-width="1.3" stroke-linejoin="round" stroke-linecap="round"/>
<g>
<ellipse cx="506" cy="341" rx="4" ry="3.6" fill="#1c80d0"/>
<circle cx="506.3" cy="342.6" r="1.7" fill="#1870c0"/>
<circle cx="507" cy="338.9" r="1.6" fill="#1c80d0"/>
<circle cx="504.8" cy="338.6" r="2" fill="#1c80d0"/>
<circle cx="504" cy="343.1" r="1.6" fill="#2898e8"/>
<circle cx="509.1" cy="339.7" r="1.3" fill="#40a8f0"/>
<circle cx="506.5" cy="340.6" r="1.7" fill="#40a8f0"/>
<circle cx="505.6" cy="340.5" r="2.1" fill="#40a8f0"/>
<circle cx="506" cy="341.2" r="2" fill="#40a8f0"/>
<circle cx="507.3" cy="343.6" r="2" fill="#2898e8"/>
<circle cx="507.9" cy="339.2" r="2.1" fill="#1c80d0"/>
<circle cx="503.7" cy="339.1" r="1.8" fill="#1870c0"/>
<circle cx="508.4" cy="343" r="1.9" fill="#1c80d0"/>
</g>
<circle cx="494.3" cy="253.8" r="8" fill="none" stroke="#000" stroke-width="2.2" stroke-dasharray="3.5 2.6"/>
<g>
<ellipse cx="537" cy="207.5" rx="9.7" ry="7.4" fill="#1ca4dc"/>
<circle cx="534" cy="209.6" r="1.7" fill="#1890c8"/>
<circle cx="530.7" cy="204.9" r="2.1" fill="#1890c8"/>
<circle cx="541.5" cy="202.9" r="1.5" fill="#1ca4dc"/>
<circle cx="532.8" cy="202.4" r="1.9" fill="#1ca4dc"/>
<circle cx="545.5" cy="207" r="1.8" fill="#44c4f4"/>
<circle cx="533.2" cy="203.2" r="1.6" fill="#34bcf0"/>
<circle cx="544.9" cy="208.8" r="2.3" fill="#1ca4dc"/>
<circle cx="541.7" cy="209.2" r="2" fill="#34bcf0"/>
<circle cx="535.5" cy="205.5" r="2.4" fill="#1ca4dc"/>
<circle cx="541.6" cy="208.7" r="2.1" fill="#34bcf0"/>
<circle cx="532" cy="205.5" r="2.3" fill="#2cb4e8"/>
<circle cx="536" cy="209.9" r="2.2" fill="#1890c8"/>
<circle cx="543.9" cy="208.2" r="2.4" fill="#1ca4dc"/>
<circle cx="540.1" cy="207.8" r="2" fill="#1890c8"/>
<circle cx="530.3" cy="210" r="2" fill="#2cb4e8"/>
<circle cx="534.2" cy="204.4" r="1.6" fill="#2cb4e8"/>
<circle cx="535.5" cy="202.1" r="2.2" fill="#2cb4e8"/>
<circle cx="544.2" cy="207" r="2.4" fill="#1890c8"/>
<circle cx="532.8" cy="202.8" r="2.1" fill="#1890c8"/>
<circle cx="534.8" cy="206.3" r="2.4" fill="#1ca4dc"/>
<circle cx="530.2" cy="209.7" r="2.2" fill="#1890c8"/>
<circle cx="537.6" cy="205.7" r="2.2" fill="#34bcf0"/>
<circle cx="538.7" cy="212.8" r="1.8" fill="#44c4f4"/>
<circle cx="539.4" cy="202.7" r="2.3" fill="#44c4f4"/>
<circle cx="537.1" cy="201.9" r="1.7" fill="#1ca4dc"/>
<circle cx="537.9" cy="210.5" r="2" fill="#1ca4dc"/>
<circle cx="540.9" cy="208.8" r="2.1" fill="#1ca4dc"/>
<circle cx="534" cy="207.6" r="1.9" fill="#2cb4e8"/>
<circle cx="539.5" cy="203.6" r="2.2" fill="#1ca4dc"/>
<circle cx="531.2" cy="206" r="2.5" fill="#44c4f4"/>
<circle cx="537.7" cy="206.5" r="2.1" fill="#1ca4dc"/>
<circle cx="533" cy="203.9" r="2.1" fill="#1ca4dc"/>
<circle cx="529.8" cy="210.9" r="2.5" fill="#2cb4e8"/>
<circle cx="530.3" cy="207.2" r="1.9" fill="#1890c8"/>
<circle cx="544.3" cy="204.6" r="1.8" fill="#1ca4dc"/>
<circle cx="536.7" cy="211.5" r="1.7" fill="#2cb4e8"/>
<circle cx="540.1" cy="205" r="2.1" fill="#44c4f4"/>
<circle cx="532" cy="210.1" r="2.4" fill="#2cb4e8"/>
<circle cx="530.3" cy="207.5" r="1.7" fill="#1ca4dc"/>
<circle cx="540.8" cy="205.5" r="1.7" fill="#1890c8"/>
<circle cx="544.3" cy="205.3" r="1.6" fill="#34bcf0"/>
<circle cx="544.4" cy="208.5" r="1.7" fill="#1890c8"/>
<circle cx="534.7" cy="211.1" r="1.7" fill="#2cb4e8"/>
<circle cx="538.4" cy="213.5" r="2" fill="#1ca4dc"/>
<circle cx="543.5" cy="208.3" r="1.9" fill="#1ca4dc"/>
<circle cx="539" cy="204.4" r="1.5" fill="#34bcf0"/>
</g>
<circle cx="535.5" cy="207.4" r="0.8" fill="#0e5c98" opacity="0.75"/>
<circle cx="540.2" cy="212.4" r="0.5" fill="#0e5c98" opacity="0.75"/>
<circle cx="536.2" cy="212.4" r="0.8" fill="#0e5c98" opacity="0.75"/>
<circle cx="541.5" cy="205" r="0.6" fill="#0e5c98" opacity="0.75"/>
<circle cx="532.7" cy="212.1" r="0.8" fill="#0e5c98" opacity="0.75"/>
<circle cx="540" cy="212.6" r="0.6" fill="#0e5c98" opacity="0.75"/>
<circle cx="538.2" cy="213.1" r="0.6" fill="#0e5c98" opacity="0.75"/>
<circle cx="532.7" cy="206.7" r="0.6" fill="#0e5c98" opacity="0.75"/>
<circle cx="541" cy="212.7" r="0.8" fill="#0e5c98" opacity="0.75"/>
<circle cx="537.1" cy="202.1" r="0.7" fill="#0e5c98" opacity="0.75"/>
<circle cx="530.3" cy="206.3" r="0.7" fill="#0e5c98" opacity="0.75"/>
<text x="9.6" y="363.6" font-size="19.4" fill="#000" text-anchor="start" stroke="#000" stroke-width="0.1">b</text>
<g clip-path="url(#c1)">
<rect x="33.6" y="356.6" width="111.6" height="109.4" fill="url(#bg1)"/>
<rect x="96.8" y="424" width="59.8" height="3.9" fill="#1a0300" opacity="0.5" filter="url(#bl1)"/>
<rect x="99.8" y="447.1" width="32.5" height="1.6" fill="#501408" opacity="0.5" filter="url(#bl1)"/>
<rect x="72.2" y="370" width="32.3" height="2.9" fill="#501408" opacity="0.5" filter="url(#bl1)"/>
<rect x="49.5" y="359.4" width="34" height="3.8" fill="#1c0300" opacity="0.5" filter="url(#bl1)"/>
<rect x="101.7" y="374.9" width="26.9" height="3" fill="#501408" opacity="0.5" filter="url(#bl1)"/>
<rect x="117.5" y="372" width="20.3" height="3.4" fill="#501408" opacity="0.5" filter="url(#bl1)"/>
<rect x="56" y="450.5" width="68.1" height="2.8" fill="#501408" opacity="0.5" filter="url(#bl1)"/>
<rect x="117.2" y="377.3" width="29.8" height="3.9" fill="#1c0300" opacity="0.5" filter="url(#bl1)"/>
<rect x="62.5" y="389.7" width="28.3" height="1.9" fill="#1a0300" opacity="0.5" filter="url(#bl1)"/>
<rect x="103.6" y="393.2" width="49.3" height="3" fill="#440e06" opacity="0.5" filter="url(#bl1)"/>
<rect x="62" y="365" width="35.3" height="3.2" fill="#501408" opacity="0.5" filter="url(#bl1)"/>
<rect x="93.4" y="409" width="22.9" height="3.9" fill="#1a0300" opacity="0.5" filter="url(#bl1)"/>
<rect x="62.2" y="458.6" width="40.2" height="2.9" fill="#1c0300" opacity="0.5" filter="url(#bl1)"/>
<rect x="82.1" y="396.8" width="20.5" height="1.6" fill="#501408" opacity="0.5" filter="url(#bl1)"/>
<g transform="translate(61 374) rotate(25)">
<rect x="-17" y="-7.2" width="34" height="14.5" rx="5.8" fill="#8a3c08" filter="url(#bl3)"/>
<rect x="-15.5" y="-5.8" width="31" height="11.5" rx="4.8" fill="#d08422" filter="url(#bl2)"/>
<rect x="-13.7" y="-4" width="27.4" height="7.9" rx="3.5" fill="#f2c868" filter="url(#bl2)"/>
<rect x="-12.5" y="-2.6" width="11.3" height="5.2" rx="2.4" fill="#fff0c4" filter="url(#bl2)"/>
<rect x="1.2" y="-2.4" width="11.3" height="5" rx="2.4" fill="#ffecb8" filter="url(#bl2)"/>
</g>
<g transform="translate(96 378.6) rotate(26)">
<rect x="-16.5" y="-7.2" width="33" height="14.5" rx="5.8" fill="#8a3c08" filter="url(#bl3)"/>
<rect x="-15" y="-5.8" width="30" height="11.5" rx="4.8" fill="#d08422" filter="url(#bl2)"/>
<rect x="-13.2" y="-4" width="26.4" height="7.9" rx="3.5" fill="#f2c868" filter="url(#bl2)"/>
<rect x="-12" y="-2.6" width="10.8" height="5.2" rx="2.4" fill="#fff0c4" filter="url(#bl2)"/>
<rect x="1.2" y="-2.4" width="10.8" height="5" rx="2.4" fill="#ffecb8" filter="url(#bl2)"/>
</g>
<g transform="translate(123.2 401.5) rotate(29)">
<rect x="-16.5" y="-7.2" width="33" height="14.5" rx="5.8" fill="#8a3c08" filter="url(#bl3)"/>
<rect x="-15" y="-5.8" width="30" height="11.5" rx="4.8" fill="#d08422" filter="url(#bl2)"/>
<rect x="-13.2" y="-4" width="26.4" height="7.9" rx="3.5" fill="#f2c868" filter="url(#bl2)"/>
<rect x="-12" y="-2.6" width="10.8" height="5.2" rx="2.4" fill="#fff0c4" filter="url(#bl2)"/>
<rect x="1.2" y="-2.4" width="10.8" height="5" rx="2.4" fill="#ffecb8" filter="url(#bl2)"/>
</g>
<g transform="translate(93.6 427) rotate(22)">
<rect x="-17" y="-7.5" width="34" height="15" rx="6" fill="#8a3c08" filter="url(#bl3)"/>
<rect x="-15.5" y="-6" width="31" height="12" rx="5" fill="#d08422" filter="url(#bl2)"/>
<rect x="-13.7" y="-4.2" width="27.4" height="8.4" rx="3.8" fill="#f2c868" filter="url(#bl2)"/>
<rect x="-12.5" y="-2.6" width="11.3" height="5.2" rx="2.4" fill="#fff0c4" filter="url(#bl2)"/>
<rect x="1.2" y="-2.4" width="11.3" height="5" rx="2.4" fill="#ffecb8" filter="url(#bl2)"/>
</g>
<ellipse cx="145.2" cy="443" rx="1.8" ry="3.5" fill="#e8a848" filter="url(#bl2)"/>
<ellipse cx="145.4" cy="373" rx="1.2" ry="2.5" fill="#a05818" filter="url(#bl2)"/>
<rect x="43.8" y="450.4" width="27.4" height="5.6" fill="#fff"/>
</g>
<rect x="150.2" y="356.2" width="8.2" height="110.6" fill="url(#cbar)" stroke="#b0b0b0" stroke-width="0.7"/>
<rect x="296.6" y="356.2" width="8.2" height="110.6" fill="url(#cbar)" stroke="#b0b0b0" stroke-width="0.7"/>
<g clip-path="url(#c2)">
<rect x="173.4" y="356.6" width="113.4" height="109.4" fill="#210601"/>
<rect x="173.4" y="356.6" width="113.4" height="109.4" filter="url(#noise)"/>
<polygon points="196.5,359.5 226.5,358.5 227.5,401.5 197,403" fill="#5e2a05" filter="url(#bl1)" opacity="1"/>
<polygon points="201.5,409 231.5,407.5 233,437 203,439" fill="#5e2a05" filter="url(#bl1)" opacity="1"/>
<polygon points="250.5,372.5 279.5,362 284.5,386 254.5,394.5" fill="#5e2a05" filter="url(#bl1)" opacity="1"/>
<polygon points="249.5,398 283,390 287.5,411 256.5,421" fill="#5e2a05" filter="url(#bl1)" opacity="1"/>
<polygon points="235,436.5 277,425 286,456 243,467" fill="#5e2a05" filter="url(#bl1)" opacity="1"/>
<polygon points="198.7,362.5 224.5,361.6 225.3,398.6 199.1,399.9" fill="#9a6212" filter="url(#bl2)" opacity="1"/>
<polygon points="202.7,367.9 220.7,367.4 221.2,393.1 202.9,394.1" fill="#b07818" filter="url(#bl1)" opacity="0.7"/>
<polygon points="203.7,411 229.5,409.7 230.8,435.1 205,436.8" fill="#90560e" filter="url(#bl2)" opacity="1"/>
<polygon points="207.8,414.6 225.8,413.8 226.7,431.4 208.7,432.6" fill="#b07818" filter="url(#bl1)" opacity="0.7"/>
<polygon points="252.8,373.4 277.8,364.3 282.1,385 256.3,392.3" fill="#85500c" filter="url(#bl2)" opacity="1"/>
<polygon points="257.2,375 274.6,368.7 277.6,383.1 259.6,388.2" fill="#94600f" filter="url(#bl1)" opacity="0.7"/>
<polygon points="252.2,399 281.1,392.1 284.9,410.2 258.3,418.8" fill="#85500c" filter="url(#bl2)" opacity="1"/>
<polygon points="257.4,400.8 277.4,396 280.1,408.6 261.6,414.6" fill="#94600f" filter="url(#bl1)" opacity="0.7"/>
<polygon points="238.5,437.8 274.7,428 282.4,454.6 245.4,464.1" fill="#85500c" filter="url(#bl2)" opacity="1"/>
<polygon points="245.1,440.4 270.3,433.4 275.7,452.1 249.9,458.6" fill="#94600f" filter="url(#bl1)" opacity="0.7"/>
<ellipse cx="211.2" cy="387.5" rx="4" ry="1.9" fill="#b47418" filter="url(#bl2)" opacity="0.55"/>
<ellipse cx="226.9" cy="379.3" rx="3.9" ry="2.7" fill="#a8680f" filter="url(#bl2)" opacity="0.55"/>
<ellipse cx="213.8" cy="387.5" rx="2.4" ry="2.6" fill="#a8680f" filter="url(#bl2)" opacity="0.55"/>
<ellipse cx="206.8" cy="368.3" rx="3.7" ry="2" fill="#8a4c0a" filter="url(#bl2)" opacity="0.55"/>
<ellipse cx="217.6" cy="393.3" rx="2.3" ry="3.8" fill="#a8680f" filter="url(#bl2)" opacity="0.55"/>
<ellipse cx="199.8" cy="402.3" rx="4.8" ry="1.8" fill="#bc8020" filter="url(#bl2)" opacity="0.55"/>
<ellipse cx="226.2" cy="381.7" rx="4.6" ry="2.9" fill="#b47418" filter="url(#bl2)" opacity="0.55"/>
<ellipse cx="218.9" cy="423.2" rx="2.3" ry="3" fill="#bc8020" filter="url(#bl2)" opacity="0.55"/>
<ellipse cx="216.4" cy="419.7" rx="2.1" ry="3.3" fill="#a8680f" filter="url(#bl2)" opacity="0.55"/>
<ellipse cx="231.8" cy="427.1" rx="3.1" ry="2.4" fill="#bc8020" filter="url(#bl2)" opacity="0.55"/>
<ellipse cx="221.9" cy="411.4" rx="2.7" ry="2.4" fill="#a8680f" filter="url(#bl2)" opacity="0.55"/>
<ellipse cx="203.6" cy="433.6" rx="3.3" ry="2.8" fill="#a8680f" filter="url(#bl2)" opacity="0.55"/>
<ellipse cx="221.8" cy="409.3" rx="2.6" ry="3" fill="#a8680f" filter="url(#bl2)" opacity="0.55"/>
<ellipse cx="207.9" cy="429.5" rx="2.1" ry="2.2" fill="#8a4c0a" filter="url(#bl2)" opacity="0.55"/>
<ellipse cx="271.3" cy="383" rx="3.5" ry="2.4" fill="#8a4c0a" filter="url(#bl2)" opacity="0.55"/>
<ellipse cx="260.7" cy="380.3" rx="4.9" ry="2.7" fill="#a8680f" filter="url(#bl2)" opacity="0.55"/>
<ellipse cx="266.4" cy="380.2" rx="2.5" ry="3.4" fill="#a8680f" filter="url(#bl2)" opacity="0.55"/>
<ellipse cx="277" cy="363.1" rx="2.8" ry="3.4" fill="#8a4c0a" filter="url(#bl2)" opacity="0.55"/>
<ellipse cx="259" cy="388.4" rx="3.5" ry="2.1" fill="#b47418" filter="url(#bl2)" opacity="0.55"/>
<ellipse cx="284" cy="386.1" rx="3.5" ry="1.6" fill="#8a4c0a" filter="url(#bl2)" opacity="0.55"/>
<ellipse cx="279.3" cy="379.1" rx="2.8" ry="1.8" fill="#bc8020" filter="url(#bl2)" opacity="0.55"/>
<ellipse cx="267.9" cy="401.9" rx="4.1" ry="2.6" fill="#a8680f" filter="url(#bl2)" opacity="0.55"/>
<ellipse cx="268.2" cy="408" rx="2.1" ry="2.3" fill="#bc8020" filter="url(#bl2)" opacity="0.55"/>
<ellipse cx="274.2" cy="397" rx="2.9" ry="2.1" fill="#b47418" filter="url(#bl2)" opacity="0.55"/>
<ellipse cx="273.4" cy="395.3" rx="4.7" ry="2.6" fill="#a8680f" filter="url(#bl2)" opacity="0.55"/>
<ellipse cx="259.3" cy="407.1" rx="2.2" ry="2.9" fill="#8a4c0a" filter="url(#bl2)" opacity="0.55"/>
<ellipse cx="277.1" cy="400.9" rx="3.8" ry="3.8" fill="#a8680f" filter="url(#bl2)" opacity="0.55"/>
<ellipse cx="270.9" cy="400.9" rx="3.1" ry="3.3" fill="#a8680f" filter="url(#bl2)" opacity="0.55"/>
<ellipse cx="241.4" cy="458" rx="4.7" ry="3.5" fill="#b47418" filter="url(#bl2)" opacity="0.55"/>
<ellipse cx="278" cy="442.6" rx="4.4" ry="2.4" fill="#b47418" filter="url(#bl2)" opacity="0.55"/>
<ellipse cx="266.5" cy="434.2" rx="2.8" ry="3.5" fill="#bc8020" filter="url(#bl2)" opacity="0.55"/>
<ellipse cx="262.2" cy="433.2" rx="3.6" ry="3.3" fill="#bc8020" filter="url(#bl2)" opacity="0.55"/>
<ellipse cx="260" cy="432" rx="3.1" ry="1.7" fill="#8a4c0a" filter="url(#bl2)" opacity="0.55"/>
<ellipse cx="241.7" cy="437.6" rx="2.9" ry="3.2" fill="#bc8020" filter="url(#bl2)" opacity="0.55"/>
<ellipse cx="250.6" cy="433.2" rx="3.5" ry="2.6" fill="#a8680f" filter="url(#bl2)" opacity="0.55"/>
<ellipse cx="204.5" cy="376" rx="2.6" ry="1.0" fill="#d8b058" transform="rotate(-35 204.5 376)" filter="url(#bl05)"/>
<ellipse cx="216.5" cy="375.5" rx="2.6" ry="1.0" fill="#d8b058" transform="rotate(-40 216.5 375.5)" filter="url(#bl05)"/>
<ellipse cx="205" cy="396" rx="2.6" ry="1.0" fill="#d8b058" transform="rotate(-30 205 396)" filter="url(#bl05)"/>
<ellipse cx="216" cy="393" rx="2.6" ry="1.0" fill="#d8b058" transform="rotate(-35 216 393)" filter="url(#bl05)"/>
<ellipse cx="206" cy="384" rx="2.6" ry="1.0" fill="#d8b058" transform="rotate(0 206 384)" filter="url(#bl05)"/>
<ellipse cx="211" cy="421" rx="2.6" ry="1.0" fill="#d8b058" transform="rotate(-40 211 421)" filter="url(#bl05)"/>
<ellipse cx="221" cy="419" rx="2.6" ry="1.0" fill="#d8b058" transform="rotate(-40 221 419)" filter="url(#bl05)"/>
<ellipse cx="213" cy="429" rx="2.6" ry="1.0" fill="#d8b058" transform="rotate(0 213 429)" filter="url(#bl05)"/>
<rect x="173.4" y="356.6" width="113.4" height="109.4" filter="url(#noise2)" opacity="0.4"/>
<ellipse cx="232.6" cy="388" rx="2.8" ry="2.2" fill="#fff" transform="rotate(-30 232.6 388)" filter="url(#bl05)"/>
<ellipse cx="249.5" cy="374.5" rx="2.2" ry="0.8" fill="#f0e0b0"/>
<ellipse cx="183" cy="412" rx="2" ry="0.7" fill="#b08040"/>
<ellipse cx="195" cy="418" rx="1.6" ry="0.7" fill="#a87030"/>
<ellipse cx="283.5" cy="447.5" rx="2.5" ry="0.9" fill="#f0e0b0"/>
<ellipse cx="281" cy="399" rx="2" ry="0.8" fill="#e0c080"/>
<ellipse cx="190" cy="436" rx="1.2" ry="1.0" fill="#e0c080"/>
<ellipse cx="218" cy="445" rx="1.5" ry="1.2" fill="#c89040"/>
<ellipse cx="178" cy="448" rx="1.8" ry="0.7" fill="#a06828"/>
<ellipse cx="240" cy="402" rx="2" ry="0.8" fill="#c08030"/>
<ellipse cx="268" cy="357.5" rx="4" ry="0.8" fill="#c89040"/>
<ellipse cx="236" cy="452" rx="2" ry="0.8" fill="#c08030"/>
<circle cx="261.2" cy="377.1" r="2.7" fill="none" stroke="#f4ecd8" stroke-width="0.8"/>
<circle cx="261.2" cy="383.4" r="2.7" fill="none" stroke="#f4ecd8" stroke-width="0.8"/>
<circle cx="274.4" cy="373.5" r="2.7" fill="none" stroke="#f4ecd8" stroke-width="0.8"/>
<circle cx="274.9" cy="380.7" r="2.7" fill="none" stroke="#f4ecd8" stroke-width="0.8"/>
<circle cx="259.9" cy="402.7" r="2.7" fill="none" stroke="#f4ecd8" stroke-width="0.8"/>
<circle cx="260.4" cy="408.8" r="2.7" fill="none" stroke="#f4ecd8" stroke-width="0.8"/>
<circle cx="274" cy="397.1" r="2.7" fill="none" stroke="#f4ecd8" stroke-width="0.8"/>
<circle cx="274" cy="403.2" r="2.7" fill="none" stroke="#f4ecd8" stroke-width="0.8"/>
<circle cx="244.5" cy="440.7" r="2.7" fill="none" stroke="#f4ecd8" stroke-width="0.8"/>
<circle cx="250.3" cy="440.7" r="2.7" fill="none" stroke="#f4ecd8" stroke-width="0.8"/>
<circle cx="263.6" cy="433.9" r="2.7" fill="none" stroke="#f4ecd8" stroke-width="0.8"/>
<circle cx="270.3" cy="434.6" r="2.7" fill="none" stroke="#f4ecd8" stroke-width="0.8"/>
<circle cx="267.9" cy="447.2" r="2.7" fill="none" stroke="#f4ecd8" stroke-width="0.8"/>
<circle cx="274.7" cy="448.6" r="2.7" fill="none" stroke="#f4ecd8" stroke-width="0.8"/>
<circle cx="248.6" cy="453.5" r="2.7" fill="none" stroke="#f4ecd8" stroke-width="0.8"/>
<circle cx="255.3" cy="453.5" r="2.7" fill="none" stroke="#f4ecd8" stroke-width="0.8"/>
<rect x="185.8" y="450.4" width="28.2" height="5.6" fill="#fff"/>
</g>
<rect x="49.6" y="471.8" width="74.4" height="22.8" fill="#fff" stroke="#858585" stroke-width="1.1"/>
<text x="86.2" y="486.9" font-size="13.9" fill="#585858" text-anchor="middle" >Closed</text>
<rect x="199.6" y="471.8" width="74" height="22.8" fill="#fff" stroke="#c838cc" stroke-width="1.1"/>
<text x="236.6" y="486.9" font-size="13.9" fill="#c028c8" text-anchor="middle" >Open</text>
<g>
<ellipse cx="331.5" cy="408.5" rx="9.5" ry="7.2" fill="#1ca4dc"/>
<circle cx="331.7" cy="413" r="1.7" fill="#1ca4dc"/>
<circle cx="333.6" cy="405.7" r="2.4" fill="#34bcf0"/>
<circle cx="338.6" cy="407.4" r="2" fill="#44c4f4"/>
<circle cx="327.1" cy="406.5" r="2.5" fill="#1890c8"/>
<circle cx="331.3" cy="408" r="1.6" fill="#34bcf0"/>
<circle cx="331.2" cy="412.9" r="2.3" fill="#1ca4dc"/>
<circle cx="328.8" cy="411.4" r="1.9" fill="#1ca4dc"/>
<circle cx="331.6" cy="407.4" r="2.5" fill="#1ca4dc"/>
<circle cx="323.6" cy="409.6" r="2.5" fill="#34bcf0"/>
<circle cx="336.4" cy="411.5" r="2.4" fill="#2cb4e8"/>
<circle cx="328.2" cy="402.9" r="2.4" fill="#44c4f4"/>
<circle cx="337.6" cy="412.4" r="2" fill="#1ca4dc"/>
<circle cx="324.4" cy="405.1" r="2" fill="#34bcf0"/>
<circle cx="332.1" cy="403.4" r="2.5" fill="#34bcf0"/>
<circle cx="333.4" cy="402.3" r="2.4" fill="#34bcf0"/>
<circle cx="337.7" cy="411.9" r="1.8" fill="#34bcf0"/>
<circle cx="335.3" cy="403.4" r="1.5" fill="#1890c8"/>
<circle cx="323.7" cy="407.4" r="2.4" fill="#1890c8"/>
<circle cx="324.2" cy="406.3" r="1.7" fill="#1890c8"/>
<circle cx="328.1" cy="407" r="2.5" fill="#2cb4e8"/>
<circle cx="329.4" cy="411.7" r="2.2" fill="#1890c8"/>
<circle cx="337.8" cy="408" r="2.4" fill="#44c4f4"/>
<circle cx="331.4" cy="414.1" r="2" fill="#1890c8"/>
<circle cx="334.2" cy="406.7" r="1.8" fill="#2cb4e8"/>
<circle cx="329.9" cy="406.3" r="1.9" fill="#2cb4e8"/>
<circle cx="325.9" cy="406.9" r="2.5" fill="#44c4f4"/>
<circle cx="325.8" cy="406.2" r="1.9" fill="#1890c8"/>
<circle cx="330.4" cy="408.6" r="2.3" fill="#44c4f4"/>
<circle cx="336" cy="412.6" r="2.5" fill="#1890c8"/>
<circle cx="325.1" cy="411.9" r="1.9" fill="#44c4f4"/>
<circle cx="324.6" cy="412.2" r="2.5" fill="#44c4f4"/>
<circle cx="326.4" cy="407.2" r="2.2" fill="#44c4f4"/>
<circle cx="328.5" cy="408.8" r="2.4" fill="#1890c8"/>
<circle cx="334.1" cy="406.3" r="1.9" fill="#2cb4e8"/>
<circle cx="326.6" cy="411.5" r="2.3" fill="#34bcf0"/>
<circle cx="330.3" cy="414.6" r="2.3" fill="#2cb4e8"/>
<circle cx="330.1" cy="412.7" r="2.1" fill="#34bcf0"/>
<circle cx="336.1" cy="405.2" r="1.8" fill="#44c4f4"/>
<circle cx="336.7" cy="410.6" r="2" fill="#2cb4e8"/>
<circle cx="331.9" cy="414.1" r="1.7" fill="#2cb4e8"/>
<circle cx="337.6" cy="404.3" r="2.2" fill="#2cb4e8"/>
<circle cx="326.5" cy="405.2" r="2.3" fill="#1ca4dc"/>
<circle cx="338.9" cy="408.2" r="2" fill="#1ca4dc"/>
<circle cx="335" cy="412.3" r="1.9" fill="#1ca4dc"/>
<circle cx="329.5" cy="408.6" r="2" fill="#1890c8"/>
<circle cx="339" cy="411.4" r="1.6" fill="#34bcf0"/>
</g>
<circle cx="329.4" cy="402.8" r="0.9" fill="#0e5c98" opacity="0.75"/>
<circle cx="328.9" cy="406.4" r="0.9" fill="#0e5c98" opacity="0.75"/>
<circle cx="337.1" cy="406.1" r="0.7" fill="#0e5c98" opacity="0.75"/>
<circle cx="326.3" cy="406.6" r="0.8" fill="#0e5c98" opacity="0.75"/>
<circle cx="330.5" cy="403.3" r="0.7" fill="#0e5c98" opacity="0.75"/>
<circle cx="328.6" cy="407.7" r="0.6" fill="#0e5c98" opacity="0.75"/>
<circle cx="335" cy="413.8" r="0.6" fill="#0e5c98" opacity="0.75"/>
<circle cx="327.2" cy="410.3" r="0.7" fill="#0e5c98" opacity="0.75"/>
<circle cx="329.8" cy="413.8" r="0.6" fill="#0e5c98" opacity="0.75"/>
<circle cx="329.7" cy="402.3" r="0.8" fill="#0e5c98" opacity="0.75"/>
<circle cx="332" cy="410.5" r="0.8" fill="#0e5c98" opacity="0.75"/>
<text x="361.3" y="413" font-size="13.95" fill="#111" text-anchor="start" >Nucleolin</text>
<polyline points="333,448 332.6,449.2 333.2,450 334.6,450.3 335.6,450.9 335.5,452 334.8,452.9 334.4,453.7 334.9,454.6 335.8,455.5 336.1,456.3 335.3,456.7 335.3,458 335.7,458.9 336.8,459 338.2,458.8 338.9,459.2 339,460.5" fill="none" stroke="#c020c0" stroke-width="2.2" stroke-linejoin="round" stroke-linecap="round" />
<g>
<ellipse cx="332.5" cy="441" rx="9.5" ry="8.3" fill="#b00cb4"/>
<circle cx="334.4" cy="440.8" r="2.7" fill="#98069c"/>
<circle cx="335.6" cy="437.5" r="1.8" fill="#b00cb4"/>
<circle cx="337" cy="447.2" r="2.3" fill="#b00cb4"/>
<circle cx="337.9" cy="439.9" r="1.8" fill="#bc0cbc"/>
<circle cx="331.8" cy="441.5" r="1.9" fill="#b00cb4"/>
<circle cx="325.9" cy="441.7" r="2.4" fill="#98069c"/>
<circle cx="325.8" cy="444.4" r="2.9" fill="#98069c"/>
<circle cx="338.5" cy="439.2" r="2.6" fill="#d020d0"/>
<circle cx="329.5" cy="440.2" r="2.4" fill="#bc0cbc"/>
<circle cx="331.2" cy="437.3" r="2.2" fill="#98069c"/>
<circle cx="335.1" cy="435.5" r="2.3" fill="#c410c4"/>
<circle cx="333.6" cy="444.2" r="2.7" fill="#98069c"/>
<circle cx="329.1" cy="441.8" r="1.9" fill="#b00cb4"/>
<circle cx="338.2" cy="444" r="2.1" fill="#b00cb4"/>
<circle cx="327.3" cy="439.4" r="2.5" fill="#b00cb4"/>
<circle cx="337.3" cy="446.8" r="2.8" fill="#bc0cbc"/>
<circle cx="324.7" cy="443.1" r="2.8" fill="#b00cb4"/>
<circle cx="325" cy="439.9" r="2.6" fill="#98069c"/>
<circle cx="325.7" cy="439.9" r="1.9" fill="#b00cb4"/>
<circle cx="338.9" cy="442.5" r="1.8" fill="#d020d0"/>
<circle cx="334.1" cy="441.7" r="2.4" fill="#b00cb4"/>
<circle cx="338.2" cy="444.9" r="2.3" fill="#c410c4"/>
<circle cx="335.8" cy="445" r="1.9" fill="#bc0cbc"/>
<circle cx="334.4" cy="443.3" r="1.9" fill="#b00cb4"/>
<circle cx="330.8" cy="444" r="2.1" fill="#b00cb4"/>
<circle cx="339" cy="444.1" r="2.1" fill="#c410c4"/>
<circle cx="338.4" cy="436.6" r="2" fill="#bc0cbc"/>
<circle cx="330.2" cy="444.9" r="2.2" fill="#c410c4"/>
<circle cx="335.1" cy="445.1" r="1.9" fill="#b00cb4"/>
<circle cx="333.3" cy="439.5" r="2.7" fill="#d020d0"/>
<circle cx="332" cy="447.5" r="2.6" fill="#bc0cbc"/>
<circle cx="331.9" cy="441.1" r="3" fill="#bc0cbc"/>
<circle cx="331" cy="437.4" r="2.6" fill="#bc0cbc"/>
<circle cx="339" cy="443.3" r="2.4" fill="#b00cb4"/>
<circle cx="334.6" cy="440.6" r="2.7" fill="#bc0cbc"/>
<circle cx="336.4" cy="439.1" r="2.8" fill="#bc0cbc"/>
<circle cx="333" cy="441.8" r="2.4" fill="#b00cb4"/>
<circle cx="336.2" cy="443.9" r="1.9" fill="#d020d0"/>
<circle cx="333.5" cy="439.5" r="2.4" fill="#bc0cbc"/>
<circle cx="333.3" cy="437.3" r="2.4" fill="#d020d0"/>
<circle cx="324.2" cy="440.1" r="2.9" fill="#98069c"/>
<circle cx="333.4" cy="441.8" r="2.5" fill="#bc0cbc"/>
<circle cx="334.4" cy="444.9" r="3" fill="#b00cb4"/>
<circle cx="335.4" cy="441.2" r="2.7" fill="#98069c"/>
<circle cx="331.6" cy="438.2" r="2.3" fill="#b00cb4"/>
<circle cx="337.3" cy="443.2" r="2.3" fill="#98069c"/>
<circle cx="332.7" cy="438.9" r="2.4" fill="#98069c"/>
<circle cx="339" cy="438.9" r="2.3" fill="#b00cb4"/>
<circle cx="330.9" cy="439" r="3" fill="#d020d0"/>
<circle cx="326.1" cy="438.5" r="2.8" fill="#c410c4"/>
<circle cx="333.3" cy="435.6" r="2.9" fill="#98069c"/>
<circle cx="331.5" cy="446.8" r="2.4" fill="#d020d0"/>
<circle cx="332.5" cy="440.6" r="2.3" fill="#98069c"/>
<circle cx="335.1" cy="439" r="2" fill="#98069c"/>
<circle cx="328.4" cy="439.7" r="1.9" fill="#d020d0"/>
<circle cx="331.3" cy="441.6" r="2.1" fill="#d020d0"/>
<circle cx="336.4" cy="444.5" r="2.5" fill="#c410c4"/>
<circle cx="329.7" cy="447.7" r="1.8" fill="#c410c4"/>
<circle cx="335.5" cy="443.6" r="2" fill="#c410c4"/>
<circle cx="328.6" cy="447.4" r="2.9" fill="#bc0cbc"/>
</g>
<text x="361.3" y="445.2" font-size="13.95" fill="#111" text-anchor="start" >Thrombin-DNA</text>
<text x="361.3" y="461.8" font-size="13.95" fill="#111" text-anchor="start" >conjugate</text>
<path d="M485 397 Q487.2 398.1 489.9 400.9 Q492.6 403.6 494 406.8 Q495.4 409.9 497.2 409.4 Q499 409 501.7 406.8 Q504.4 404.5 507.6 405.9 Q510.8 407.2 512 410.4 Q513.3 413.5 512 415.8 Q510.8 418.1 507.6 419.5 Q504.4 420.8 501.7 420.4 Q499 419.9 496.8 417.6 Q494.5 415.4 492.2 414.4 Q489.9 413.5 486.8 414.4 Q483.6 415.4 482.2 416.3 L480.9 417.2" fill="none" stroke="#48cc2c" stroke-width="4.2" stroke-linecap="round" stroke-linejoin="round"/>
<path d="M485 397 Q487.2 398.1 489.9 400.9 Q492.6 403.6 494 406.8 Q495.4 409.9 497.2 409.4 Q499 409 501.7 406.8 Q504.4 404.5 507.6 405.9 Q510.8 407.2 512 410.4 Q513.3 413.5 512 415.8 Q510.8 418.1 507.6 419.5 Q504.4 420.8 501.7 420.4 Q499 419.9 496.8 417.6 Q494.5 415.4 492.2 414.4 Q489.9 413.5 486.8 414.4 Q483.6 415.4 482.2 416.3 L480.9 417.2" fill="none" stroke="#80ec58" stroke-width="2.3100000000000005" stroke-linecap="round" stroke-dasharray="1.5 2.5"/>
<path d="M485 397 Q487.2 398.1 489.9 400.9 Q492.6 403.6 494 406.8 Q495.4 409.9 497.2 409.4 Q499 409 501.7 406.8 Q504.4 404.5 507.6 405.9 Q510.8 407.2 512 410.4 Q513.3 413.5 512 415.8 Q510.8 418.1 507.6 419.5 Q504.4 420.8 501.7 420.4 Q499 419.9 496.8 417.6 Q494.5 415.4 492.2 414.4 Q489.9 413.5 486.8 414.4 Q483.6 415.4 482.2 416.3 L480.9 417.2" fill="none" stroke="#2c9c18" stroke-width="2.94" stroke-linecap="round" stroke-dasharray="1 4.3" stroke-dashoffset="2"/>
<circle cx="484.7" cy="397.8" r="1" fill="#50d040"/>
<circle cx="484.6" cy="397.4" r="0.9" fill="#2ea020"/>
<circle cx="485.2" cy="397.6" r="0.9" fill="#50d040"/>
<circle cx="492.7" cy="403.5" r="0.9" fill="#2ea020"/>
<circle cx="486.7" cy="398.5" r="1" fill="#2ea020"/>
<circle cx="486.9" cy="398.4" r="1.5" fill="#38b828"/>
<circle cx="493.1" cy="403.4" r="1" fill="#50d040"/>
<circle cx="494.5" cy="407.1" r="1.3" fill="#70e050"/>
<circle cx="495.1" cy="406.1" r="1.1" fill="#38b828"/>
<circle cx="497.2" cy="409.5" r="1.3" fill="#70e050"/>
<circle cx="497.4" cy="410.6" r="1" fill="#2ea020"/>
<circle cx="495.6" cy="411" r="1.2" fill="#50d040"/>
<circle cx="503.3" cy="406.6" r="1.1" fill="#70e050"/>
<circle cx="502.4" cy="406.2" r="1.5" fill="#70e050"/>
<circle cx="502" cy="405.6" r="1.4" fill="#2ea020"/>
<circle cx="505.9" cy="405.7" r="0.9" fill="#2ea020"/>
<circle cx="507" cy="405.4" r="1.1" fill="#70e050"/>
<circle cx="504.5" cy="404.5" r="1.5" fill="#50d040"/>
<circle cx="510.9" cy="407.6" r="1" fill="#2ea020"/>
<circle cx="512.3" cy="412.4" r="1.2" fill="#2ea020"/>
<circle cx="512.2" cy="412.3" r="1.1" fill="#38b828"/>
<circle cx="514.2" cy="412.7" r="1.1" fill="#38b828"/>
<circle cx="511.9" cy="415.6" r="1.6" fill="#50d040"/>
<circle cx="513.2" cy="416.9" r="1.4" fill="#2ea020"/>
<circle cx="508" cy="419.1" r="1.2" fill="#38b828"/>
<circle cx="509.6" cy="417.3" r="1.1" fill="#50d040"/>
<circle cx="510.3" cy="418.5" r="1.6" fill="#50d040"/>
<circle cx="503.2" cy="420.4" r="1.3" fill="#70e050"/>
<circle cx="501.1" cy="419.2" r="1.2" fill="#2ea020"/>
<circle cx="501.3" cy="419.4" r="1.4" fill="#70e050"/>
<circle cx="497.4" cy="417.8" r="1" fill="#70e050"/>
<circle cx="498.5" cy="417.9" r="1.3" fill="#50d040"/>
<circle cx="495.2" cy="416.4" r="1" fill="#38b828"/>
<circle cx="492.8" cy="413.9" r="1.1" fill="#38b828"/>
<circle cx="491.7" cy="414.5" r="1.1" fill="#2ea020"/>
<circle cx="491.5" cy="413.4" r="1.1" fill="#70e050"/>
<circle cx="489" cy="413.4" r="1.5" fill="#70e050"/>
<circle cx="483.5" cy="414.5" r="1.1" fill="#38b828"/>
<circle cx="487.7" cy="415.5" r="1.3" fill="#50d040"/>
<circle cx="482.7" cy="417.1" r="1" fill="#50d040"/>
<circle cx="481.9" cy="417.7" r="1.2" fill="#38b828"/>
<circle cx="482.8" cy="415" r="1.6" fill="#2ea020"/>
<polygon points="477,386.5 481,388 484.5,391 486.5,396 487,402 483.5,403.5 480,400 476.5,396.5 475,391.5" fill="#48cc2c"/>
<g>
<circle cx="477.8" cy="390.6" r="1.4" fill="#2c9c18"/>
<circle cx="483.7" cy="392.8" r="1.7" fill="#58e048"/>
<circle cx="481.3" cy="393.6" r="1.2" fill="#78f060"/>
<circle cx="480.8" cy="391.4" r="1.7" fill="#40c830"/>
<circle cx="482.8" cy="395.3" r="1.2" fill="#40c830"/>
<circle cx="482.8" cy="397.8" r="1.6" fill="#78f060"/>
<circle cx="478.1" cy="394.2" r="1.8" fill="#78f060"/>
<circle cx="480.6" cy="396.3" r="1.6" fill="#2c9c18"/>
<circle cx="477.5" cy="398.4" r="1.6" fill="#40c830"/>
<circle cx="481" cy="390.4" r="1.7" fill="#40c830"/>
<circle cx="483.6" cy="392" r="1.8" fill="#40c830"/>
<circle cx="484.1" cy="397" r="1.1" fill="#58e048"/>
<circle cx="481.4" cy="388.7" r="1.5" fill="#78f060"/>
<circle cx="481.1" cy="398.3" r="1.1" fill="#40c830"/>
<circle cx="481.8" cy="398.7" r="1.6" fill="#40c830"/>
<circle cx="477.7" cy="395.2" r="1.8" fill="#40c830"/>
<circle cx="477.5" cy="394.9" r="1.1" fill="#2c9c18"/>
<circle cx="483.2" cy="396" r="1.3" fill="#2c9c18"/>
<circle cx="481.2" cy="398.6" r="1.2" fill="#78f060"/>
<circle cx="481.2" cy="399.8" r="1.8" fill="#2c9c18"/>
<circle cx="478.7" cy="394.7" r="1.8" fill="#78f060"/>
<circle cx="482" cy="396.4" r="1.9" fill="#78f060"/>
</g>
<text x="526.8" y="413.3" font-size="14.0" fill="#111" text-anchor="start" >Targeting strands</text>
<polyline points="471.8,423.5 476.3,425.3 475.4,429.9 480,432.6 480.9,436.2 484.5,438 485.4,442.6 489.9,443.5 491.7,448 496.3,449.8 499,451.6" fill="none" stroke="#44bcc0" stroke-width="2.3" stroke-linejoin="round" stroke-linecap="round"/>
<polyline points="470.9,451.1 475.4,449.8 479,448.5 482.7,452.5 487.2,453.4 489.9,451.6 494.5,456.2 499,455.3 499,451.6" fill="none" stroke="#44bcc0" stroke-width="2.3" stroke-linejoin="round" stroke-linecap="round"/>
<polyline points="499,451.6 502.6,455.3 507.2,454.3 510.8,458 514.4,459.8" fill="none" stroke="#44bcc0" stroke-width="2.0" stroke-linejoin="round" stroke-linecap="round"/>
<polyline points="500,453.5 503,456.8 506.5,455.8 509.5,459.3 513,461" fill="none" stroke="#b83030" stroke-width="2.0" stroke-linejoin="round" stroke-linecap="round"/>
<ellipse cx="513.2" cy="459.6" rx="2.4" ry="1.7" fill="none" stroke="#803038" stroke-width="1.1" transform="rotate(35 513.2 459.6)"/>
<circle cx="476.3" cy="425.3" r="0.9" fill="#2a8088"/>
<circle cx="480" cy="432.6" r="0.9" fill="#2a8088"/>
<circle cx="484.5" cy="438" r="0.9" fill="#2a8088"/>
<circle cx="489.9" cy="443.5" r="0.9" fill="#2a8088"/>
<circle cx="479" cy="448.5" r="0.9" fill="#2a8088"/>
<circle cx="487.2" cy="453.4" r="0.9" fill="#2a8088"/>
<text x="526.8" y="453.6" font-size="14.0" fill="#111" text-anchor="start" >Fastener</text>
</svg>
</body></html>
